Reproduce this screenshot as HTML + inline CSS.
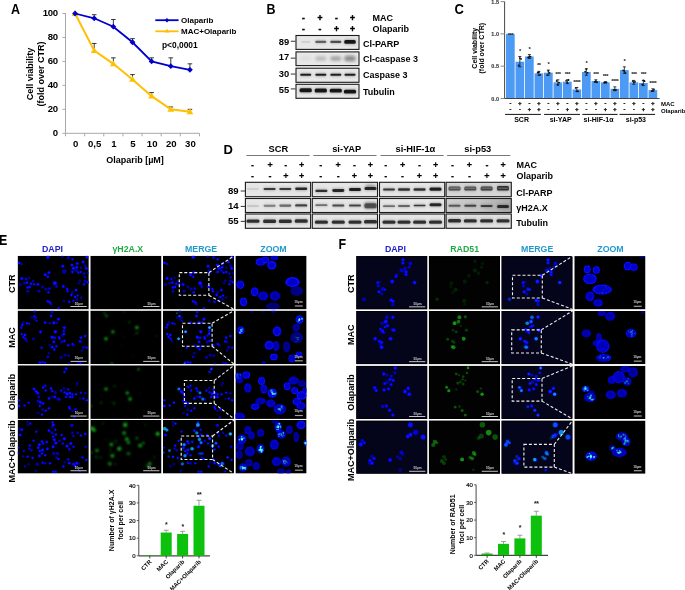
<!DOCTYPE html>
<html><head><meta charset="utf-8"><style>
html,body{margin:0;padding:0;background:#fff;width:685px;height:590px;overflow:hidden}
svg text{font-family:"Liberation Sans",sans-serif}
</style></head><body>
<svg width="685" height="590" viewBox="0 0 685 590" style="display:block">
<defs>
<radialGradient id="zg" cx="0.5" cy="0.5" r="0.5"><stop offset="0" stop-color="#0404b4"/><stop offset="0.65" stop-color="#0606e0"/><stop offset="1" stop-color="#0808f4"/></radialGradient>
<linearGradient id="p53g" x1="0" y1="0" x2="1" y2="0"><stop offset="0" stop-color="#cfcfcf"/><stop offset="0.5" stop-color="#c4c4c4"/><stop offset="1" stop-color="#a8a8a8"/></linearGradient>
<filter id="b8" x="-50%" y="-50%" width="200%" height="200%"><feGaussianBlur stdDeviation="0.8"/></filter>
<filter id="b15" x="-50%" y="-50%" width="200%" height="200%"><feGaussianBlur stdDeviation="1.5"/></filter>
<filter id="b6" x="-50%" y="-50%" width="200%" height="200%"><feGaussianBlur stdDeviation="0.6"/></filter>
<filter id="b3" x="-50%" y="-50%" width="200%" height="200%"><feGaussianBlur stdDeviation="0.3"/></filter>
<filter id="c" x="-50%" y="-50%" width="200%" height="200%"><feGaussianBlur stdDeviation="0.45"/></filter>
<filter id="z" x="-50%" y="-50%" width="200%" height="200%"><feGaussianBlur stdDeviation="0.7"/></filter>
<filter id="g2" x="-50%" y="-50%" width="200%" height="200%"><feGaussianBlur stdDeviation="1.0"/></filter>
<filter id="g" x="-50%" y="-50%" width="200%" height="200%"><feGaussianBlur stdDeviation="0.7"/></filter>
</defs>
<text x="11.00" y="14.10" font-size="12.5" font-weight="bold" fill="#000" text-anchor="start" transform="translate(0 14.10) scale(1 1.1) translate(0 -14.10)">A</text>
<line x1="65.50" y1="13.00" x2="65.50" y2="133.30" stroke="#a8a8a8" stroke-width="1"/>
<line x1="62.50" y1="133.30" x2="65.50" y2="133.30" stroke="#a8a8a8" stroke-width="1"/>
<text x="57.60" y="136.10" font-size="9.6" font-weight="bold" fill="#000" text-anchor="end" letter-spacing="-0.4">0</text>
<line x1="62.50" y1="109.34" x2="65.50" y2="109.34" stroke="#a8a8a8" stroke-width="1"/>
<text x="57.60" y="112.14" font-size="9.6" font-weight="bold" fill="#000" text-anchor="end" letter-spacing="-0.4">20</text>
<line x1="62.50" y1="85.38" x2="65.50" y2="85.38" stroke="#a8a8a8" stroke-width="1"/>
<text x="57.60" y="88.18" font-size="9.6" font-weight="bold" fill="#000" text-anchor="end" letter-spacing="-0.4">40</text>
<line x1="62.50" y1="61.42" x2="65.50" y2="61.42" stroke="#a8a8a8" stroke-width="1"/>
<text x="57.60" y="64.22" font-size="9.6" font-weight="bold" fill="#000" text-anchor="end" letter-spacing="-0.4">60</text>
<line x1="62.50" y1="37.46" x2="65.50" y2="37.46" stroke="#a8a8a8" stroke-width="1"/>
<text x="57.60" y="40.26" font-size="9.6" font-weight="bold" fill="#000" text-anchor="end" letter-spacing="-0.4">80</text>
<line x1="62.50" y1="13.50" x2="65.50" y2="13.50" stroke="#a8a8a8" stroke-width="1"/>
<text x="57.60" y="16.30" font-size="9.6" font-weight="bold" fill="#000" text-anchor="end" letter-spacing="-0.4">100</text>
<line x1="65.50" y1="133.30" x2="199.50" y2="133.30" stroke="#a8a8a8" stroke-width="1"/>
<line x1="65.50" y1="133.30" x2="65.50" y2="136.30" stroke="#a8a8a8" stroke-width="1"/>
<line x1="84.64" y1="133.30" x2="84.64" y2="136.30" stroke="#a8a8a8" stroke-width="1"/>
<line x1="103.79" y1="133.30" x2="103.79" y2="136.30" stroke="#a8a8a8" stroke-width="1"/>
<line x1="122.93" y1="133.30" x2="122.93" y2="136.30" stroke="#a8a8a8" stroke-width="1"/>
<line x1="142.07" y1="133.30" x2="142.07" y2="136.30" stroke="#a8a8a8" stroke-width="1"/>
<line x1="161.21" y1="133.30" x2="161.21" y2="136.30" stroke="#a8a8a8" stroke-width="1"/>
<line x1="180.36" y1="133.30" x2="180.36" y2="136.30" stroke="#a8a8a8" stroke-width="1"/>
<line x1="199.50" y1="133.30" x2="199.50" y2="136.30" stroke="#a8a8a8" stroke-width="1"/>
<text x="75.57" y="147.30" font-size="9.6" font-weight="bold" fill="#000" text-anchor="middle">0</text>
<text x="94.71" y="147.30" font-size="9.6" font-weight="bold" fill="#000" text-anchor="middle">0,5</text>
<text x="113.86" y="147.30" font-size="9.6" font-weight="bold" fill="#000" text-anchor="middle">1</text>
<text x="133.00" y="147.30" font-size="9.6" font-weight="bold" fill="#000" text-anchor="middle">5</text>
<text x="152.14" y="147.30" font-size="9.6" font-weight="bold" fill="#000" text-anchor="middle">10</text>
<text x="171.29" y="147.30" font-size="9.6" font-weight="bold" fill="#000" text-anchor="middle">20</text>
<text x="190.43" y="147.30" font-size="9.6" font-weight="bold" fill="#000" text-anchor="middle">30</text>
<text x="135.00" y="163.20" font-size="9" font-weight="bold" fill="#000" text-anchor="middle">Olaparib [µM]</text>
<text x="30.00" y="74.00" font-size="9" font-weight="bold" fill="#000" text-anchor="middle" transform="rotate(-90 30 74)" dominant-baseline="central">Cell viability</text>
<text x="40.70" y="74.00" font-size="9" font-weight="bold" fill="#000" text-anchor="middle" transform="rotate(-90 40.7 74)" dominant-baseline="central">(fold over CTR)</text>
<line x1="94.21" y1="18.29" x2="94.21" y2="14.70" stroke="#222" stroke-width="0.9"/>
<line x1="91.91" y1="14.70" x2="96.51" y2="14.70" stroke="#222" stroke-width="0.9"/>
<line x1="113.36" y1="26.68" x2="113.36" y2="19.49" stroke="#222" stroke-width="0.9"/>
<line x1="111.06" y1="19.49" x2="115.66" y2="19.49" stroke="#222" stroke-width="0.9"/>
<line x1="132.50" y1="42.25" x2="132.50" y2="38.66" stroke="#222" stroke-width="0.9"/>
<line x1="130.20" y1="38.66" x2="134.80" y2="38.66" stroke="#222" stroke-width="0.9"/>
<line x1="151.64" y1="61.42" x2="151.64" y2="57.83" stroke="#222" stroke-width="0.9"/>
<line x1="149.34" y1="57.83" x2="153.94" y2="57.83" stroke="#222" stroke-width="0.9"/>
<line x1="170.79" y1="66.21" x2="170.79" y2="57.83" stroke="#222" stroke-width="0.9"/>
<line x1="168.49" y1="57.83" x2="173.09" y2="57.83" stroke="#222" stroke-width="0.9"/>
<line x1="189.93" y1="69.81" x2="189.93" y2="63.82" stroke="#222" stroke-width="0.9"/>
<line x1="187.63" y1="63.82" x2="192.23" y2="63.82" stroke="#222" stroke-width="0.9"/>
<line x1="94.21" y1="50.64" x2="94.21" y2="43.45" stroke="#222" stroke-width="0.9"/>
<line x1="91.91" y1="43.45" x2="96.51" y2="43.45" stroke="#222" stroke-width="0.9"/>
<line x1="113.36" y1="63.82" x2="113.36" y2="57.83" stroke="#222" stroke-width="0.9"/>
<line x1="111.06" y1="57.83" x2="115.66" y2="57.83" stroke="#222" stroke-width="0.9"/>
<line x1="132.50" y1="79.39" x2="132.50" y2="74.60" stroke="#222" stroke-width="0.9"/>
<line x1="130.20" y1="74.60" x2="134.80" y2="74.60" stroke="#222" stroke-width="0.9"/>
<line x1="151.64" y1="96.16" x2="151.64" y2="92.57" stroke="#222" stroke-width="0.9"/>
<line x1="149.34" y1="92.57" x2="153.94" y2="92.57" stroke="#222" stroke-width="0.9"/>
<line x1="170.79" y1="109.34" x2="170.79" y2="106.94" stroke="#222" stroke-width="0.9"/>
<line x1="168.49" y1="106.94" x2="173.09" y2="106.94" stroke="#222" stroke-width="0.9"/>
<line x1="189.93" y1="111.74" x2="189.93" y2="109.34" stroke="#222" stroke-width="0.9"/>
<line x1="187.63" y1="109.34" x2="192.23" y2="109.34" stroke="#222" stroke-width="0.9"/>
<polyline points="75.07,13.50 94.21,50.64 113.36,63.82 132.50,79.39 151.64,96.16 170.79,109.34 189.93,111.74" fill="none" stroke="#ffc000" stroke-width="2.0"/>
<polygon points="75.07,10.10 78.47,15.90 71.67,15.90" fill="#ffc000"/>
<polygon points="94.21,47.24 97.61,53.04 90.81,53.04" fill="#ffc000"/>
<polygon points="113.36,60.42 116.76,66.22 109.96,66.22" fill="#ffc000"/>
<polygon points="132.50,75.99 135.90,81.79 129.10,81.79" fill="#ffc000"/>
<polygon points="151.64,92.76 155.04,98.56 148.24,98.56" fill="#ffc000"/>
<polygon points="170.79,105.94 174.19,111.74 167.39,111.74" fill="#ffc000"/>
<polygon points="189.93,108.34 193.33,114.14 186.53,114.14" fill="#ffc000"/>
<polyline points="75.07,13.50 94.21,18.29 113.36,26.68 132.50,42.25 151.64,61.42 170.79,66.21 189.93,69.81" fill="none" stroke="#0000cc" stroke-width="1.8"/>
<polygon points="75.07,10.60 77.97,13.50 75.07,16.40 72.17,13.50" fill="#0000cc"/>
<polygon points="94.21,15.39 97.11,18.29 94.21,21.19 91.31,18.29" fill="#0000cc"/>
<polygon points="113.36,23.78 116.26,26.68 113.36,29.58 110.46,26.68" fill="#0000cc"/>
<polygon points="132.50,39.35 135.40,42.25 132.50,45.15 129.60,42.25" fill="#0000cc"/>
<polygon points="151.64,58.52 154.54,61.42 151.64,64.32 148.74,61.42" fill="#0000cc"/>
<polygon points="170.79,63.31 173.69,66.21 170.79,69.11 167.89,66.21" fill="#0000cc"/>
<polygon points="189.93,66.91 192.83,69.81 189.93,72.71 187.03,69.81" fill="#0000cc"/>
<line x1="155.30" y1="20.20" x2="178.60" y2="20.20" stroke="#0000cc" stroke-width="1.8"/>
<polygon points="167,18 169.2,20.2 167,22.4 164.8,20.2" fill="#0000cc"/>
<text x="181.00" y="23.00" font-size="8" font-weight="bold" fill="#000" text-anchor="start">Olaparib</text>
<line x1="155.30" y1="31.30" x2="178.60" y2="31.30" stroke="#ffc000" stroke-width="1.8"/>
<polygon points="167,28.8 169.5,32.6 164.5,32.6" fill="#ffc000"/>
<text x="181.00" y="34.10" font-size="8" font-weight="bold" fill="#000" text-anchor="start">MAC+Olaparib</text>
<text x="162.00" y="48.30" font-size="8.4" font-weight="bold" fill="#000" text-anchor="start">p&lt;0,0001</text>
<text x="266.50" y="14.30" font-size="12.5" font-weight="bold" fill="#000" text-anchor="start" transform="translate(0 14.30) scale(1 1.1) translate(0 -14.30)">B</text>
<text x="303.50" y="20.50" font-size="8.5" font-weight="bold" fill="#000" text-anchor="middle" stroke="#000" stroke-width="0.45">-</text>
<text x="320.00" y="20.50" font-size="8.5" font-weight="bold" fill="#000" text-anchor="middle" stroke="#000" stroke-width="0.45">+</text>
<text x="336.50" y="20.50" font-size="8.5" font-weight="bold" fill="#000" text-anchor="middle" stroke="#000" stroke-width="0.45">-</text>
<text x="352.40" y="20.50" font-size="8.5" font-weight="bold" fill="#000" text-anchor="middle" stroke="#000" stroke-width="0.45">+</text>
<text x="303.50" y="32.00" font-size="8.5" font-weight="bold" fill="#000" text-anchor="middle" stroke="#000" stroke-width="0.45">-</text>
<text x="320.00" y="32.00" font-size="8.5" font-weight="bold" fill="#000" text-anchor="middle" stroke="#000" stroke-width="0.45">-</text>
<text x="336.50" y="32.00" font-size="8.5" font-weight="bold" fill="#000" text-anchor="middle" stroke="#000" stroke-width="0.45">+</text>
<text x="352.40" y="32.00" font-size="8.5" font-weight="bold" fill="#000" text-anchor="middle" stroke="#000" stroke-width="0.45">+</text>
<text x="372.50" y="20.60" font-size="9" font-weight="bold" fill="#000" text-anchor="start">MAC</text>
<text x="372.50" y="32.00" font-size="9" font-weight="bold" fill="#000" text-anchor="start">Olaparib</text>
<rect x="296.0" y="35.50" width="63.0" height="13.90" fill="#e8e8e8" stroke="#1a1a1a" stroke-width="1.1"/>
<text x="289.30" y="44.75" font-size="9.4" font-weight="bold" fill="#000" text-anchor="end">89</text>
<line x1="290.80" y1="41.25" x2="295.50" y2="41.25" stroke="#333" stroke-width="1"/>
<text x="363.00" y="46.75" font-size="9" font-weight="bold" fill="#000" text-anchor="start">Cl-PARP</text>
<rect x="296.0" y="51.90" width="63.0" height="13.70" fill="#e8e8e8" stroke="#1a1a1a" stroke-width="1.1"/>
<text x="289.30" y="60.35" font-size="9.4" font-weight="bold" fill="#000" text-anchor="end">17</text>
<line x1="290.80" y1="58.15" x2="295.50" y2="58.15" stroke="#333" stroke-width="1"/>
<text x="363.00" y="61.85" font-size="9" font-weight="bold" fill="#000" text-anchor="start">Cl-caspase 3</text>
<rect x="296.0" y="68.20" width="63.0" height="14.10" fill="#e8e8e8" stroke="#1a1a1a" stroke-width="1.1"/>
<text x="289.30" y="77.25" font-size="9.4" font-weight="bold" fill="#000" text-anchor="end">30</text>
<line x1="290.80" y1="74.05" x2="295.50" y2="74.05" stroke="#333" stroke-width="1"/>
<text x="363.00" y="77.55" font-size="9" font-weight="bold" fill="#000" text-anchor="start">Caspase 3</text>
<rect x="296.0" y="84.30" width="63.0" height="14.00" fill="#e8e8e8" stroke="#1a1a1a" stroke-width="1.1"/>
<text x="289.30" y="92.90" font-size="9.4" font-weight="bold" fill="#000" text-anchor="end">55</text>
<line x1="290.80" y1="88.90" x2="295.50" y2="88.90" stroke="#333" stroke-width="1"/>
<text x="363.00" y="95.00" font-size="9" font-weight="bold" fill="#000" text-anchor="start">Tubulin</text>
<rect x="300.70" y="40.00" width="10.00" height="3.80" rx="2" fill="#111" fill-opacity="0.025" filter="url(#b8)"/>
<rect x="301.20" y="41.00" width="9.00" height="1.80" rx="0.90" fill="#111" fill-opacity="0.095" filter="url(#b3)"/>
<rect x="314.80" y="39.80" width="12.00" height="4.20" rx="2" fill="#111" fill-opacity="0.150" filter="url(#b8)"/>
<rect x="315.30" y="40.80" width="11.00" height="2.20" rx="1.10" fill="#111" fill-opacity="0.570" filter="url(#b3)"/>
<rect x="329.80" y="39.80" width="12.00" height="4.20" rx="2" fill="#111" fill-opacity="0.175" filter="url(#b8)"/>
<rect x="330.30" y="40.80" width="11.00" height="2.20" rx="1.10" fill="#111" fill-opacity="0.665" filter="url(#b3)"/>
<rect x="343.75" y="39.10" width="12.50" height="5.60" rx="2" fill="#111" fill-opacity="0.250" filter="url(#b8)"/>
<rect x="344.25" y="40.10" width="11.50" height="3.60" rx="1.50" fill="#111" fill-opacity="0.950" filter="url(#b3)"/>
<rect x="300.20" y="56.60" width="11.00" height="4.00" rx="2.00" fill="#111" fill-opacity="0.050" filter="url(#b15)"/>
<rect x="315.30" y="56.35" width="11.00" height="4.50" rx="2.00" fill="#111" fill-opacity="0.200" filter="url(#b15)"/>
<rect x="330.30" y="56.35" width="11.00" height="4.50" rx="2.00" fill="#111" fill-opacity="0.300" filter="url(#b15)"/>
<rect x="344.50" y="55.85" width="11.00" height="5.50" rx="2.00" fill="#111" fill-opacity="0.450" filter="url(#b15)"/>
<rect x="299.70" y="72.75" width="12.00" height="3.90" rx="2" fill="#111" fill-opacity="0.237" filter="url(#b8)"/>
<rect x="300.20" y="73.75" width="11.00" height="1.90" rx="0.95" fill="#111" fill-opacity="0.902" filter="url(#b3)"/>
<rect x="314.80" y="72.75" width="12.00" height="3.90" rx="2" fill="#111" fill-opacity="0.237" filter="url(#b8)"/>
<rect x="315.30" y="73.75" width="11.00" height="1.90" rx="0.95" fill="#111" fill-opacity="0.902" filter="url(#b3)"/>
<rect x="329.80" y="72.75" width="12.00" height="3.90" rx="2" fill="#111" fill-opacity="0.237" filter="url(#b8)"/>
<rect x="330.30" y="73.75" width="11.00" height="1.90" rx="0.95" fill="#111" fill-opacity="0.902" filter="url(#b3)"/>
<rect x="344.00" y="72.75" width="12.00" height="3.90" rx="2" fill="#111" fill-opacity="0.237" filter="url(#b8)"/>
<rect x="344.50" y="73.75" width="11.00" height="1.90" rx="0.95" fill="#111" fill-opacity="0.902" filter="url(#b3)"/>
<rect x="299.10" y="87.35" width="13.20" height="5.90" rx="2" fill="#111" fill-opacity="0.250" filter="url(#b8)"/>
<rect x="299.60" y="88.35" width="12.20" height="3.90" rx="1.50" fill="#111" fill-opacity="0.950" filter="url(#b3)"/>
<rect x="314.20" y="87.55" width="13.20" height="5.90" rx="2" fill="#111" fill-opacity="0.250" filter="url(#b8)"/>
<rect x="314.70" y="88.55" width="12.20" height="3.90" rx="1.50" fill="#111" fill-opacity="0.950" filter="url(#b3)"/>
<rect x="329.20" y="87.65" width="13.20" height="5.90" rx="2" fill="#111" fill-opacity="0.250" filter="url(#b8)"/>
<rect x="329.70" y="88.65" width="12.20" height="3.90" rx="1.50" fill="#111" fill-opacity="0.950" filter="url(#b3)"/>
<rect x="343.40" y="88.65" width="13.20" height="5.90" rx="2" fill="#111" fill-opacity="0.250" filter="url(#b8)"/>
<rect x="343.90" y="89.65" width="12.20" height="3.90" rx="1.50" fill="#111" fill-opacity="0.950" filter="url(#b3)"/>
<text x="454.50" y="14.40" font-size="13" font-weight="bold" fill="#000" text-anchor="start" transform="translate(0 14.40) scale(1 1.07) translate(0 -14.40)">C</text>
<line x1="504.60" y1="1.50" x2="504.60" y2="98.50" stroke="#333" stroke-width="0.9"/>
<line x1="500.60" y1="1.60" x2="504.60" y2="1.60" stroke="#888" stroke-width="1.0"/>
<text x="499.00" y="3.60" font-size="5.5" font-weight="bold" fill="#444" text-anchor="end" stroke="#444" stroke-width="0.15">1.5</text>
<line x1="500.60" y1="33.90" x2="504.60" y2="33.90" stroke="#888" stroke-width="1.0"/>
<text x="499.00" y="35.90" font-size="5.5" font-weight="bold" fill="#444" text-anchor="end" stroke="#444" stroke-width="0.15">1.0</text>
<line x1="500.60" y1="66.20" x2="504.60" y2="66.20" stroke="#888" stroke-width="1.0"/>
<text x="499.00" y="68.20" font-size="5.5" font-weight="bold" fill="#444" text-anchor="end" stroke="#444" stroke-width="0.15">0.5</text>
<line x1="500.60" y1="98.50" x2="504.60" y2="98.50" stroke="#888" stroke-width="1.0"/>
<text x="499.00" y="100.50" font-size="5.5" font-weight="bold" fill="#444" text-anchor="end" stroke="#444" stroke-width="0.15">0.0</text>
<rect x="506.00" y="33.90" width="8.70" height="64.60" fill="#4d9af5"/>
<text x="510.35" y="37.10" font-size="6" font-weight="bold" fill="#222" text-anchor="middle" letter-spacing="-0.6">***</text>
<rect x="515.50" y="61.68" width="8.70" height="36.82" fill="#4d9af5"/>
<line x1="519.85" y1="66.85" x2="519.85" y2="56.51" stroke="#111" stroke-width="0.8"/>
<line x1="518.35" y1="56.51" x2="521.35" y2="56.51" stroke="#111" stroke-width="0.8"/>
<line x1="518.35" y1="66.85" x2="521.35" y2="66.85" stroke="#111" stroke-width="0.8"/>
<circle cx="518.65" cy="65.46" r="0.9" fill="#111"/>
<circle cx="519.85" cy="58.09" r="0.9" fill="#111"/>
<circle cx="521.05" cy="58.95" r="0.9" fill="#111"/>
<text x="519.85" y="52.51" font-size="6" font-weight="bold" fill="#222" text-anchor="middle" letter-spacing="-0.6">*</text>
<rect x="525.00" y="56.51" width="8.70" height="41.99" fill="#4d9af5"/>
<line x1="529.35" y1="58.45" x2="529.35" y2="54.57" stroke="#111" stroke-width="0.8"/>
<line x1="527.85" y1="54.57" x2="530.85" y2="54.57" stroke="#111" stroke-width="0.8"/>
<line x1="527.85" y1="58.45" x2="530.85" y2="58.45" stroke="#111" stroke-width="0.8"/>
<circle cx="528.15" cy="57.46" r="0.9" fill="#111"/>
<circle cx="529.35" cy="56.53" r="0.9" fill="#111"/>
<circle cx="530.55" cy="56.71" r="0.9" fill="#111"/>
<text x="529.35" y="50.57" font-size="6" font-weight="bold" fill="#222" text-anchor="middle" letter-spacing="-0.6">*</text>
<rect x="534.50" y="73.31" width="8.70" height="25.19" fill="#4d9af5"/>
<line x1="538.85" y1="75.24" x2="538.85" y2="71.37" stroke="#111" stroke-width="0.8"/>
<line x1="537.35" y1="71.37" x2="540.35" y2="71.37" stroke="#111" stroke-width="0.8"/>
<line x1="537.35" y1="75.24" x2="540.35" y2="75.24" stroke="#111" stroke-width="0.8"/>
<circle cx="537.65" cy="72.72" r="0.9" fill="#111"/>
<circle cx="538.85" cy="72.19" r="0.9" fill="#111"/>
<circle cx="540.05" cy="74.88" r="0.9" fill="#111"/>
<text x="538.85" y="67.37" font-size="6" font-weight="bold" fill="#222" text-anchor="middle" letter-spacing="-0.6">**</text>
<rect x="544.00" y="72.66" width="8.70" height="25.84" fill="#4d9af5"/>
<line x1="548.35" y1="75.24" x2="548.35" y2="70.08" stroke="#111" stroke-width="0.8"/>
<line x1="546.85" y1="70.08" x2="549.85" y2="70.08" stroke="#111" stroke-width="0.8"/>
<line x1="546.85" y1="75.24" x2="549.85" y2="75.24" stroke="#111" stroke-width="0.8"/>
<circle cx="547.15" cy="75.10" r="0.9" fill="#111"/>
<circle cx="548.35" cy="70.92" r="0.9" fill="#111"/>
<circle cx="549.55" cy="73.01" r="0.9" fill="#111"/>
<text x="548.35" y="66.08" font-size="6" font-weight="bold" fill="#222" text-anchor="middle" letter-spacing="-0.6">*</text>
<rect x="553.50" y="82.35" width="8.70" height="16.15" fill="#4d9af5"/>
<line x1="557.85" y1="84.93" x2="557.85" y2="79.77" stroke="#111" stroke-width="0.8"/>
<line x1="556.35" y1="79.77" x2="559.35" y2="79.77" stroke="#111" stroke-width="0.8"/>
<line x1="556.35" y1="84.93" x2="559.35" y2="84.93" stroke="#111" stroke-width="0.8"/>
<circle cx="556.65" cy="80.99" r="0.9" fill="#111"/>
<circle cx="557.85" cy="84.92" r="0.9" fill="#111"/>
<circle cx="559.05" cy="82.63" r="0.9" fill="#111"/>
<text x="557.85" y="75.77" font-size="6" font-weight="bold" fill="#222" text-anchor="middle" letter-spacing="-0.6">***</text>
<rect x="563.00" y="81.70" width="8.70" height="16.80" fill="#4d9af5"/>
<line x1="567.35" y1="83.64" x2="567.35" y2="79.77" stroke="#111" stroke-width="0.8"/>
<line x1="565.85" y1="79.77" x2="568.85" y2="79.77" stroke="#111" stroke-width="0.8"/>
<line x1="565.85" y1="83.64" x2="568.85" y2="83.64" stroke="#111" stroke-width="0.8"/>
<circle cx="566.15" cy="80.85" r="0.9" fill="#111"/>
<circle cx="567.35" cy="82.76" r="0.9" fill="#111"/>
<circle cx="568.55" cy="79.98" r="0.9" fill="#111"/>
<text x="567.35" y="75.77" font-size="6" font-weight="bold" fill="#222" text-anchor="middle" letter-spacing="-0.6">***</text>
<rect x="572.50" y="89.46" width="8.70" height="9.04" fill="#4d9af5"/>
<line x1="576.85" y1="91.39" x2="576.85" y2="87.52" stroke="#111" stroke-width="0.8"/>
<line x1="575.35" y1="87.52" x2="578.35" y2="87.52" stroke="#111" stroke-width="0.8"/>
<line x1="575.35" y1="91.39" x2="578.35" y2="91.39" stroke="#111" stroke-width="0.8"/>
<circle cx="575.65" cy="87.90" r="0.9" fill="#111"/>
<circle cx="576.85" cy="91.28" r="0.9" fill="#111"/>
<circle cx="578.05" cy="91.30" r="0.9" fill="#111"/>
<text x="576.85" y="83.52" font-size="6" font-weight="bold" fill="#222" text-anchor="middle" letter-spacing="-0.6">****</text>
<rect x="582.00" y="72.01" width="8.70" height="26.49" fill="#4d9af5"/>
<line x1="586.35" y1="75.24" x2="586.35" y2="68.78" stroke="#111" stroke-width="0.8"/>
<line x1="584.85" y1="68.78" x2="587.85" y2="68.78" stroke="#111" stroke-width="0.8"/>
<line x1="584.85" y1="75.24" x2="587.85" y2="75.24" stroke="#111" stroke-width="0.8"/>
<circle cx="585.15" cy="71.75" r="0.9" fill="#111"/>
<circle cx="586.35" cy="69.18" r="0.9" fill="#111"/>
<circle cx="587.55" cy="72.78" r="0.9" fill="#111"/>
<text x="586.35" y="64.78" font-size="6" font-weight="bold" fill="#222" text-anchor="middle" letter-spacing="-0.6">*</text>
<rect x="591.50" y="81.06" width="8.70" height="17.44" fill="#4d9af5"/>
<line x1="595.85" y1="82.35" x2="595.85" y2="79.77" stroke="#111" stroke-width="0.8"/>
<line x1="594.35" y1="79.77" x2="597.35" y2="79.77" stroke="#111" stroke-width="0.8"/>
<line x1="594.35" y1="82.35" x2="597.35" y2="82.35" stroke="#111" stroke-width="0.8"/>
<circle cx="594.65" cy="81.79" r="0.9" fill="#111"/>
<circle cx="595.85" cy="81.26" r="0.9" fill="#111"/>
<circle cx="597.05" cy="82.27" r="0.9" fill="#111"/>
<text x="595.85" y="75.77" font-size="6" font-weight="bold" fill="#222" text-anchor="middle" letter-spacing="-0.6">***</text>
<rect x="601.00" y="82.35" width="8.70" height="16.15" fill="#4d9af5"/>
<line x1="605.35" y1="83.00" x2="605.35" y2="81.70" stroke="#111" stroke-width="0.8"/>
<line x1="603.85" y1="81.70" x2="606.85" y2="81.70" stroke="#111" stroke-width="0.8"/>
<line x1="603.85" y1="83.00" x2="606.85" y2="83.00" stroke="#111" stroke-width="0.8"/>
<circle cx="604.15" cy="82.71" r="0.9" fill="#111"/>
<circle cx="605.35" cy="82.43" r="0.9" fill="#111"/>
<circle cx="606.55" cy="82.36" r="0.9" fill="#111"/>
<text x="605.35" y="77.70" font-size="6" font-weight="bold" fill="#222" text-anchor="middle" letter-spacing="-0.6">***</text>
<rect x="610.50" y="88.81" width="8.70" height="9.69" fill="#4d9af5"/>
<line x1="614.85" y1="90.75" x2="614.85" y2="86.87" stroke="#111" stroke-width="0.8"/>
<line x1="613.35" y1="86.87" x2="616.35" y2="86.87" stroke="#111" stroke-width="0.8"/>
<line x1="613.35" y1="90.75" x2="616.35" y2="90.75" stroke="#111" stroke-width="0.8"/>
<circle cx="613.65" cy="89.84" r="0.9" fill="#111"/>
<circle cx="614.85" cy="89.85" r="0.9" fill="#111"/>
<circle cx="616.05" cy="89.90" r="0.9" fill="#111"/>
<text x="614.85" y="82.87" font-size="6" font-weight="bold" fill="#222" text-anchor="middle" letter-spacing="-0.6">****</text>
<rect x="620.00" y="70.08" width="8.70" height="28.42" fill="#4d9af5"/>
<line x1="624.35" y1="73.31" x2="624.35" y2="66.85" stroke="#111" stroke-width="0.8"/>
<line x1="622.85" y1="66.85" x2="625.85" y2="66.85" stroke="#111" stroke-width="0.8"/>
<line x1="622.85" y1="73.31" x2="625.85" y2="73.31" stroke="#111" stroke-width="0.8"/>
<circle cx="623.15" cy="70.34" r="0.9" fill="#111"/>
<circle cx="624.35" cy="71.43" r="0.9" fill="#111"/>
<circle cx="625.55" cy="73.17" r="0.9" fill="#111"/>
<text x="624.35" y="62.85" font-size="6" font-weight="bold" fill="#222" text-anchor="middle" letter-spacing="-0.6">*</text>
<rect x="629.50" y="82.35" width="8.70" height="16.15" fill="#4d9af5"/>
<line x1="633.85" y1="84.29" x2="633.85" y2="80.41" stroke="#111" stroke-width="0.8"/>
<line x1="632.35" y1="80.41" x2="635.35" y2="80.41" stroke="#111" stroke-width="0.8"/>
<line x1="632.35" y1="84.29" x2="635.35" y2="84.29" stroke="#111" stroke-width="0.8"/>
<circle cx="632.65" cy="81.04" r="0.9" fill="#111"/>
<circle cx="633.85" cy="82.13" r="0.9" fill="#111"/>
<circle cx="635.05" cy="81.80" r="0.9" fill="#111"/>
<text x="633.85" y="76.41" font-size="6" font-weight="bold" fill="#222" text-anchor="middle" letter-spacing="-0.6">***</text>
<rect x="639.00" y="83.00" width="8.70" height="15.50" fill="#4d9af5"/>
<line x1="643.35" y1="85.58" x2="643.35" y2="80.41" stroke="#111" stroke-width="0.8"/>
<line x1="641.85" y1="80.41" x2="644.85" y2="80.41" stroke="#111" stroke-width="0.8"/>
<line x1="641.85" y1="85.58" x2="644.85" y2="85.58" stroke="#111" stroke-width="0.8"/>
<circle cx="642.15" cy="84.62" r="0.9" fill="#111"/>
<circle cx="643.35" cy="80.45" r="0.9" fill="#111"/>
<circle cx="644.55" cy="81.14" r="0.9" fill="#111"/>
<text x="643.35" y="76.41" font-size="6" font-weight="bold" fill="#222" text-anchor="middle" letter-spacing="-0.6">***</text>
<rect x="648.50" y="90.10" width="8.70" height="8.40" fill="#4d9af5"/>
<line x1="652.85" y1="91.39" x2="652.85" y2="88.81" stroke="#111" stroke-width="0.8"/>
<line x1="651.35" y1="88.81" x2="654.35" y2="88.81" stroke="#111" stroke-width="0.8"/>
<line x1="651.35" y1="91.39" x2="654.35" y2="91.39" stroke="#111" stroke-width="0.8"/>
<circle cx="651.65" cy="91.08" r="0.9" fill="#111"/>
<circle cx="652.85" cy="90.53" r="0.9" fill="#111"/>
<circle cx="654.05" cy="89.53" r="0.9" fill="#111"/>
<text x="652.85" y="84.81" font-size="6" font-weight="bold" fill="#222" text-anchor="middle" letter-spacing="-0.6">****</text>
<line x1="504.60" y1="98.50" x2="659.70" y2="98.50" stroke="#333" stroke-width="0.9"/>
<text x="510.35" y="104.50" font-size="5.5" font-weight="bold" fill="#000" text-anchor="middle" stroke="#000" stroke-width="0.3">-</text>
<text x="510.35" y="111.30" font-size="5.5" font-weight="bold" fill="#000" text-anchor="middle" stroke="#000" stroke-width="0.3">-</text>
<text x="519.85" y="104.50" font-size="5.5" font-weight="bold" fill="#000" text-anchor="middle" stroke="#000" stroke-width="0.3">+</text>
<text x="519.85" y="111.30" font-size="5.5" font-weight="bold" fill="#000" text-anchor="middle" stroke="#000" stroke-width="0.3">-</text>
<text x="529.35" y="104.50" font-size="5.5" font-weight="bold" fill="#000" text-anchor="middle" stroke="#000" stroke-width="0.3">-</text>
<text x="529.35" y="111.30" font-size="5.5" font-weight="bold" fill="#000" text-anchor="middle" stroke="#000" stroke-width="0.3">+</text>
<text x="538.85" y="104.50" font-size="5.5" font-weight="bold" fill="#000" text-anchor="middle" stroke="#000" stroke-width="0.3">+</text>
<text x="538.85" y="111.30" font-size="5.5" font-weight="bold" fill="#000" text-anchor="middle" stroke="#000" stroke-width="0.3">+</text>
<text x="548.35" y="104.50" font-size="5.5" font-weight="bold" fill="#000" text-anchor="middle" stroke="#000" stroke-width="0.3">-</text>
<text x="548.35" y="111.30" font-size="5.5" font-weight="bold" fill="#000" text-anchor="middle" stroke="#000" stroke-width="0.3">-</text>
<text x="557.85" y="104.50" font-size="5.5" font-weight="bold" fill="#000" text-anchor="middle" stroke="#000" stroke-width="0.3">+</text>
<text x="557.85" y="111.30" font-size="5.5" font-weight="bold" fill="#000" text-anchor="middle" stroke="#000" stroke-width="0.3">-</text>
<text x="567.35" y="104.50" font-size="5.5" font-weight="bold" fill="#000" text-anchor="middle" stroke="#000" stroke-width="0.3">-</text>
<text x="567.35" y="111.30" font-size="5.5" font-weight="bold" fill="#000" text-anchor="middle" stroke="#000" stroke-width="0.3">+</text>
<text x="576.85" y="104.50" font-size="5.5" font-weight="bold" fill="#000" text-anchor="middle" stroke="#000" stroke-width="0.3">+</text>
<text x="576.85" y="111.30" font-size="5.5" font-weight="bold" fill="#000" text-anchor="middle" stroke="#000" stroke-width="0.3">+</text>
<text x="586.35" y="104.50" font-size="5.5" font-weight="bold" fill="#000" text-anchor="middle" stroke="#000" stroke-width="0.3">-</text>
<text x="586.35" y="111.30" font-size="5.5" font-weight="bold" fill="#000" text-anchor="middle" stroke="#000" stroke-width="0.3">-</text>
<text x="595.85" y="104.50" font-size="5.5" font-weight="bold" fill="#000" text-anchor="middle" stroke="#000" stroke-width="0.3">+</text>
<text x="595.85" y="111.30" font-size="5.5" font-weight="bold" fill="#000" text-anchor="middle" stroke="#000" stroke-width="0.3">-</text>
<text x="605.35" y="104.50" font-size="5.5" font-weight="bold" fill="#000" text-anchor="middle" stroke="#000" stroke-width="0.3">-</text>
<text x="605.35" y="111.30" font-size="5.5" font-weight="bold" fill="#000" text-anchor="middle" stroke="#000" stroke-width="0.3">+</text>
<text x="614.85" y="104.50" font-size="5.5" font-weight="bold" fill="#000" text-anchor="middle" stroke="#000" stroke-width="0.3">+</text>
<text x="614.85" y="111.30" font-size="5.5" font-weight="bold" fill="#000" text-anchor="middle" stroke="#000" stroke-width="0.3">+</text>
<text x="624.35" y="104.50" font-size="5.5" font-weight="bold" fill="#000" text-anchor="middle" stroke="#000" stroke-width="0.3">-</text>
<text x="624.35" y="111.30" font-size="5.5" font-weight="bold" fill="#000" text-anchor="middle" stroke="#000" stroke-width="0.3">-</text>
<text x="633.85" y="104.50" font-size="5.5" font-weight="bold" fill="#000" text-anchor="middle" stroke="#000" stroke-width="0.3">+</text>
<text x="633.85" y="111.30" font-size="5.5" font-weight="bold" fill="#000" text-anchor="middle" stroke="#000" stroke-width="0.3">-</text>
<text x="643.35" y="104.50" font-size="5.5" font-weight="bold" fill="#000" text-anchor="middle" stroke="#000" stroke-width="0.3">-</text>
<text x="643.35" y="111.30" font-size="5.5" font-weight="bold" fill="#000" text-anchor="middle" stroke="#000" stroke-width="0.3">+</text>
<text x="652.85" y="104.50" font-size="5.5" font-weight="bold" fill="#000" text-anchor="middle" stroke="#000" stroke-width="0.3">+</text>
<text x="652.85" y="111.30" font-size="5.5" font-weight="bold" fill="#000" text-anchor="middle" stroke="#000" stroke-width="0.3">+</text>
<text x="661.00" y="105.70" font-size="6" font-weight="bold" fill="#000" text-anchor="start">MAC</text>
<text x="661.00" y="113.20" font-size="6" font-weight="bold" fill="#000" text-anchor="start">Olaparib</text>
<line x1="505.10" y1="114.40" x2="540.90" y2="114.40" stroke="#111" stroke-width="1"/>
<text x="521.60" y="122.20" font-size="7" font-weight="bold" fill="#000" text-anchor="middle">SCR</text>
<line x1="544.10" y1="114.40" x2="580.00" y2="114.40" stroke="#111" stroke-width="1"/>
<text x="560.65" y="122.20" font-size="7" font-weight="bold" fill="#000" text-anchor="middle">si-YAP</text>
<line x1="582.30" y1="114.40" x2="617.60" y2="114.40" stroke="#111" stroke-width="1"/>
<text x="598.55" y="122.20" font-size="7" font-weight="bold" fill="#000" text-anchor="middle">si-HIF-1α</text>
<line x1="619.50" y1="114.40" x2="655.10" y2="114.40" stroke="#111" stroke-width="1"/>
<text x="635.90" y="122.20" font-size="7" font-weight="bold" fill="#000" text-anchor="middle">si-p53</text>
<text x="474.10" y="48.20" font-size="7" font-weight="bold" fill="#000" text-anchor="middle" transform="rotate(-90 474.1 48.2)" dominant-baseline="central">Cell viability</text>
<text x="481.80" y="48.20" font-size="7" font-weight="bold" fill="#000" text-anchor="middle" transform="rotate(-90 481.8 48.2)" dominant-baseline="central">(fold over CTR)</text>
<text x="223.40" y="154.10" font-size="13" font-weight="bold" fill="#000" text-anchor="start" transform="translate(0 154.10) scale(1 1.05) translate(0 -154.10)">D</text>
<text x="278.40" y="152.40" font-size="9.3" font-weight="bold" fill="#000" text-anchor="middle">SCR</text>
<line x1="246.40" y1="155.50" x2="309.60" y2="155.50" stroke="#777" stroke-width="1"/>
<text x="252.40" y="168.30" font-size="9" font-weight="bold" fill="#000" text-anchor="middle" stroke="#000" stroke-width="0.15">-</text>
<text x="252.40" y="179.10" font-size="9" font-weight="bold" fill="#000" text-anchor="middle" stroke="#000" stroke-width="0.15">-</text>
<text x="270.10" y="168.30" font-size="9" font-weight="bold" fill="#000" text-anchor="middle" stroke="#000" stroke-width="0.15">+</text>
<text x="270.10" y="179.10" font-size="9" font-weight="bold" fill="#000" text-anchor="middle" stroke="#000" stroke-width="0.15">-</text>
<text x="285.80" y="168.30" font-size="9" font-weight="bold" fill="#000" text-anchor="middle" stroke="#000" stroke-width="0.15">-</text>
<text x="285.80" y="179.10" font-size="9" font-weight="bold" fill="#000" text-anchor="middle" stroke="#000" stroke-width="0.15">+</text>
<text x="301.60" y="168.30" font-size="9" font-weight="bold" fill="#000" text-anchor="middle" stroke="#000" stroke-width="0.15">+</text>
<text x="301.60" y="179.10" font-size="9" font-weight="bold" fill="#000" text-anchor="middle" stroke="#000" stroke-width="0.15">+</text>
<rect x="245.40" y="182.30" width="65.20" height="14.40" fill="#e6e6e6" stroke="#1a1a1a" stroke-width="1.1"/>
<rect x="245.40" y="198.50" width="65.20" height="14.00" fill="#e6e6e6" stroke="#1a1a1a" stroke-width="1.1"/>
<rect x="245.40" y="214.00" width="65.20" height="14.30" fill="#e6e6e6" stroke="#1a1a1a" stroke-width="1.1"/>
<text x="346.70" y="152.40" font-size="9.3" font-weight="bold" fill="#000" text-anchor="middle">si-YAP</text>
<line x1="313.30" y1="155.50" x2="376.50" y2="155.50" stroke="#777" stroke-width="1"/>
<text x="320.70" y="168.30" font-size="9" font-weight="bold" fill="#000" text-anchor="middle" stroke="#000" stroke-width="0.15">-</text>
<text x="320.70" y="179.10" font-size="9" font-weight="bold" fill="#000" text-anchor="middle" stroke="#000" stroke-width="0.15">-</text>
<text x="338.20" y="168.30" font-size="9" font-weight="bold" fill="#000" text-anchor="middle" stroke="#000" stroke-width="0.15">+</text>
<text x="338.20" y="179.10" font-size="9" font-weight="bold" fill="#000" text-anchor="middle" stroke="#000" stroke-width="0.15">-</text>
<text x="354.50" y="168.30" font-size="9" font-weight="bold" fill="#000" text-anchor="middle" stroke="#000" stroke-width="0.15">-</text>
<text x="354.50" y="179.10" font-size="9" font-weight="bold" fill="#000" text-anchor="middle" stroke="#000" stroke-width="0.15">+</text>
<text x="370.40" y="168.30" font-size="9" font-weight="bold" fill="#000" text-anchor="middle" stroke="#000" stroke-width="0.15">+</text>
<text x="370.40" y="179.10" font-size="9" font-weight="bold" fill="#000" text-anchor="middle" stroke="#000" stroke-width="0.15">+</text>
<rect x="312.30" y="182.30" width="65.20" height="14.40" fill="#e6e6e6" stroke="#1a1a1a" stroke-width="1.1"/>
<rect x="312.30" y="198.50" width="65.20" height="14.00" fill="#e6e6e6" stroke="#1a1a1a" stroke-width="1.1"/>
<rect x="312.30" y="214.00" width="65.20" height="14.30" fill="#e6e6e6" stroke="#1a1a1a" stroke-width="1.1"/>
<text x="415.40" y="152.40" font-size="9.3" font-weight="bold" fill="#000" text-anchor="middle">si-HIF-1α</text>
<line x1="380.50" y1="155.50" x2="443.70" y2="155.50" stroke="#777" stroke-width="1"/>
<text x="385.70" y="168.30" font-size="9" font-weight="bold" fill="#000" text-anchor="middle" stroke="#000" stroke-width="0.15">-</text>
<text x="385.70" y="179.10" font-size="9" font-weight="bold" fill="#000" text-anchor="middle" stroke="#000" stroke-width="0.15">-</text>
<text x="402.60" y="168.30" font-size="9" font-weight="bold" fill="#000" text-anchor="middle" stroke="#000" stroke-width="0.15">+</text>
<text x="402.60" y="179.10" font-size="9" font-weight="bold" fill="#000" text-anchor="middle" stroke="#000" stroke-width="0.15">-</text>
<text x="419.40" y="168.30" font-size="9" font-weight="bold" fill="#000" text-anchor="middle" stroke="#000" stroke-width="0.15">-</text>
<text x="419.40" y="179.10" font-size="9" font-weight="bold" fill="#000" text-anchor="middle" stroke="#000" stroke-width="0.15">+</text>
<text x="435.70" y="168.30" font-size="9" font-weight="bold" fill="#000" text-anchor="middle" stroke="#000" stroke-width="0.15">+</text>
<text x="435.70" y="179.10" font-size="9" font-weight="bold" fill="#000" text-anchor="middle" stroke="#000" stroke-width="0.15">+</text>
<rect x="379.50" y="182.30" width="65.20" height="14.40" fill="#e6e6e6" stroke="#1a1a1a" stroke-width="1.1"/>
<rect x="379.50" y="198.50" width="65.20" height="14.00" fill="#e6e6e6" stroke="#1a1a1a" stroke-width="1.1"/>
<rect x="379.50" y="214.00" width="65.20" height="14.30" fill="#e6e6e6" stroke="#1a1a1a" stroke-width="1.1"/>
<text x="477.80" y="152.40" font-size="9.3" font-weight="bold" fill="#000" text-anchor="middle">si-p53</text>
<line x1="447.10" y1="155.50" x2="510.30" y2="155.50" stroke="#777" stroke-width="1"/>
<text x="452.60" y="168.30" font-size="9" font-weight="bold" fill="#000" text-anchor="middle" stroke="#000" stroke-width="0.15">-</text>
<text x="452.60" y="179.10" font-size="9" font-weight="bold" fill="#000" text-anchor="middle" stroke="#000" stroke-width="0.15">-</text>
<text x="469.40" y="168.30" font-size="9" font-weight="bold" fill="#000" text-anchor="middle" stroke="#000" stroke-width="0.15">+</text>
<text x="469.40" y="179.10" font-size="9" font-weight="bold" fill="#000" text-anchor="middle" stroke="#000" stroke-width="0.15">-</text>
<text x="486.90" y="168.30" font-size="9" font-weight="bold" fill="#000" text-anchor="middle" stroke="#000" stroke-width="0.15">-</text>
<text x="486.90" y="179.10" font-size="9" font-weight="bold" fill="#000" text-anchor="middle" stroke="#000" stroke-width="0.15">+</text>
<text x="503.10" y="168.30" font-size="9" font-weight="bold" fill="#000" text-anchor="middle" stroke="#000" stroke-width="0.15">+</text>
<text x="503.10" y="179.10" font-size="9" font-weight="bold" fill="#000" text-anchor="middle" stroke="#000" stroke-width="0.15">+</text>
<rect x="446.10" y="182.30" width="65.20" height="14.40" fill="#d6d6d6" stroke="#1a1a1a" stroke-width="1.1"/>
<rect x="446.10" y="198.50" width="65.20" height="14.00" fill="url(#p53g)" stroke="#1a1a1a" stroke-width="1.1"/>
<rect x="446.10" y="214.00" width="65.20" height="14.30" fill="#e2e2e2" stroke="#1a1a1a" stroke-width="1.1"/>
<text x="238.60" y="194.40" font-size="9.6" font-weight="bold" fill="#000" text-anchor="end">89</text>
<line x1="240.70" y1="191.00" x2="245.00" y2="191.00" stroke="#333" stroke-width="1"/>
<text x="516.20" y="195.60" font-size="9" font-weight="bold" fill="#000" text-anchor="start" transform="translate(0 195.6) scale(1 1.1) translate(0 -195.6)">Cl-PARP</text>
<text x="238.60" y="209.00" font-size="9.6" font-weight="bold" fill="#000" text-anchor="end">14</text>
<line x1="240.70" y1="206.40" x2="245.00" y2="206.40" stroke="#333" stroke-width="1"/>
<text x="516.20" y="210.80" font-size="9" font-weight="bold" fill="#000" text-anchor="start" transform="translate(0 210.8) scale(1 1.1) translate(0 -210.8)">γH2A.X</text>
<text x="238.60" y="224.40" font-size="9.6" font-weight="bold" fill="#000" text-anchor="end">55</text>
<line x1="240.70" y1="221.35" x2="245.00" y2="221.35" stroke="#333" stroke-width="1"/>
<text x="516.20" y="226.00" font-size="9" font-weight="bold" fill="#000" text-anchor="start" transform="translate(0 226.0) scale(1 1.1) translate(0 -226.0)">Tubulin</text>
<text x="516.50" y="168.30" font-size="9" font-weight="bold" fill="#000" text-anchor="start">MAC</text>
<text x="516.50" y="179.00" font-size="9" font-weight="bold" fill="#000" text-anchor="start">Olaparib</text>
<rect x="246.50" y="187.00" width="13.00" height="4.00" rx="2" fill="#111" fill-opacity="0.020" filter="url(#b8)"/>
<rect x="247.00" y="188.00" width="12.00" height="2.00" rx="1.00" fill="#111" fill-opacity="0.076" filter="url(#b3)"/>
<rect x="246.50" y="204.10" width="13.00" height="3.80" rx="2" fill="#111" fill-opacity="0.030" filter="url(#b8)"/>
<rect x="247.00" y="205.10" width="12.00" height="1.80" rx="0.90" fill="#111" fill-opacity="0.114" filter="url(#b3)"/>
<rect x="246.00" y="218.40" width="14.00" height="5.40" rx="2" fill="#111" fill-opacity="0.212" filter="url(#b8)"/>
<rect x="246.50" y="219.40" width="13.00" height="3.40" rx="1.50" fill="#111" fill-opacity="0.807" filter="url(#b3)"/>
<rect x="263.10" y="187.00" width="13.00" height="4.00" rx="2" fill="#111" fill-opacity="0.200" filter="url(#b8)"/>
<rect x="263.60" y="188.00" width="12.00" height="2.00" rx="1.00" fill="#111" fill-opacity="0.760" filter="url(#b3)"/>
<rect x="263.10" y="203.80" width="13.00" height="4.00" rx="2" fill="#111" fill-opacity="0.113" filter="url(#b8)"/>
<rect x="263.60" y="204.80" width="12.00" height="2.00" rx="1.00" fill="#111" fill-opacity="0.427" filter="url(#b3)"/>
<rect x="262.60" y="218.60" width="14.00" height="5.40" rx="2" fill="#111" fill-opacity="0.212" filter="url(#b8)"/>
<rect x="263.10" y="219.60" width="13.00" height="3.40" rx="1.50" fill="#111" fill-opacity="0.807" filter="url(#b3)"/>
<rect x="278.80" y="187.00" width="13.00" height="4.00" rx="2" fill="#111" fill-opacity="0.200" filter="url(#b8)"/>
<rect x="279.30" y="188.00" width="12.00" height="2.00" rx="1.00" fill="#111" fill-opacity="0.760" filter="url(#b3)"/>
<rect x="278.80" y="203.50" width="13.00" height="4.20" rx="2" fill="#111" fill-opacity="0.138" filter="url(#b8)"/>
<rect x="279.30" y="204.50" width="12.00" height="2.20" rx="1.10" fill="#111" fill-opacity="0.522" filter="url(#b3)"/>
<rect x="278.30" y="218.60" width="14.00" height="5.40" rx="2" fill="#111" fill-opacity="0.212" filter="url(#b8)"/>
<rect x="278.80" y="219.60" width="13.00" height="3.40" rx="1.50" fill="#111" fill-opacity="0.807" filter="url(#b3)"/>
<rect x="294.70" y="186.55" width="13.00" height="4.50" rx="2" fill="#111" fill-opacity="0.225" filter="url(#b8)"/>
<rect x="295.20" y="187.55" width="12.00" height="2.50" rx="1.25" fill="#111" fill-opacity="0.855" filter="url(#b3)"/>
<rect x="294.70" y="203.20" width="13.00" height="4.40" rx="2" fill="#111" fill-opacity="0.188" filter="url(#b8)"/>
<rect x="295.20" y="204.20" width="12.00" height="2.40" rx="1.20" fill="#111" fill-opacity="0.712" filter="url(#b3)"/>
<rect x="294.20" y="218.30" width="14.00" height="5.40" rx="2" fill="#111" fill-opacity="0.212" filter="url(#b8)"/>
<rect x="294.70" y="219.30" width="13.00" height="3.40" rx="1.50" fill="#111" fill-opacity="0.807" filter="url(#b3)"/>
<rect x="314.90" y="188.80" width="13.00" height="4.20" rx="2" fill="#111" fill-opacity="0.212" filter="url(#b8)"/>
<rect x="315.40" y="189.80" width="12.00" height="2.20" rx="1.10" fill="#111" fill-opacity="0.807" filter="url(#b3)"/>
<rect x="314.90" y="203.60" width="13.00" height="3.20" rx="2" fill="#111" fill-opacity="0.175" filter="url(#b8)"/>
<rect x="315.40" y="204.60" width="12.00" height="1.20" rx="0.60" fill="#111" fill-opacity="0.665" filter="url(#b3)"/>
<rect x="314.40" y="219.40" width="14.00" height="5.40" rx="2" fill="#111" fill-opacity="0.212" filter="url(#b8)"/>
<rect x="314.90" y="220.40" width="13.00" height="3.40" rx="1.50" fill="#111" fill-opacity="0.807" filter="url(#b3)"/>
<rect x="331.80" y="188.10" width="13.00" height="4.80" rx="2" fill="#111" fill-opacity="0.225" filter="url(#b8)"/>
<rect x="332.30" y="189.10" width="12.00" height="2.80" rx="1.40" fill="#111" fill-opacity="0.855" filter="url(#b3)"/>
<rect x="331.80" y="203.60" width="13.00" height="4.00" rx="2" fill="#111" fill-opacity="0.175" filter="url(#b8)"/>
<rect x="332.30" y="204.60" width="12.00" height="2.00" rx="1.00" fill="#111" fill-opacity="0.665" filter="url(#b3)"/>
<rect x="331.30" y="219.40" width="14.00" height="5.40" rx="2" fill="#111" fill-opacity="0.212" filter="url(#b8)"/>
<rect x="331.80" y="220.40" width="13.00" height="3.40" rx="1.50" fill="#111" fill-opacity="0.807" filter="url(#b3)"/>
<rect x="348.50" y="187.10" width="13.00" height="5.00" rx="2" fill="#111" fill-opacity="0.237" filter="url(#b8)"/>
<rect x="349.00" y="188.10" width="12.00" height="3.00" rx="1.50" fill="#111" fill-opacity="0.902" filter="url(#b3)"/>
<rect x="348.50" y="203.60" width="13.00" height="4.00" rx="2" fill="#111" fill-opacity="0.188" filter="url(#b8)"/>
<rect x="349.00" y="204.60" width="12.00" height="2.00" rx="1.00" fill="#111" fill-opacity="0.712" filter="url(#b3)"/>
<rect x="348.00" y="219.40" width="14.00" height="5.40" rx="2" fill="#111" fill-opacity="0.212" filter="url(#b8)"/>
<rect x="348.50" y="220.40" width="13.00" height="3.40" rx="1.50" fill="#111" fill-opacity="0.807" filter="url(#b3)"/>
<rect x="364.00" y="186.10" width="13.00" height="5.00" rx="2" fill="#111" fill-opacity="0.225" filter="url(#b8)"/>
<rect x="364.50" y="187.10" width="12.00" height="3.00" rx="1.50" fill="#111" fill-opacity="0.855" filter="url(#b3)"/>
<rect x="364.00" y="202.20" width="13.00" height="7.00" rx="2" fill="#111" fill-opacity="0.150" filter="url(#b8)"/>
<rect x="364.50" y="203.20" width="12.00" height="5.00" rx="1.50" fill="#111" fill-opacity="0.570" filter="url(#b3)"/>
<rect x="363.50" y="219.10" width="14.00" height="5.40" rx="2" fill="#111" fill-opacity="0.212" filter="url(#b8)"/>
<rect x="364.00" y="220.10" width="13.00" height="3.40" rx="1.50" fill="#111" fill-opacity="0.807" filter="url(#b3)"/>
<rect x="382.50" y="187.50" width="13.00" height="4.00" rx="2" fill="#111" fill-opacity="0.200" filter="url(#b8)"/>
<rect x="383.00" y="188.50" width="12.00" height="2.00" rx="1.00" fill="#111" fill-opacity="0.760" filter="url(#b3)"/>
<rect x="382.50" y="204.60" width="13.00" height="3.20" rx="2" fill="#111" fill-opacity="0.175" filter="url(#b8)"/>
<rect x="383.00" y="205.60" width="12.00" height="1.20" rx="0.60" fill="#111" fill-opacity="0.665" filter="url(#b3)"/>
<rect x="382.00" y="219.40" width="14.00" height="5.40" rx="2" fill="#111" fill-opacity="0.212" filter="url(#b8)"/>
<rect x="382.50" y="220.40" width="13.00" height="3.40" rx="1.50" fill="#111" fill-opacity="0.807" filter="url(#b3)"/>
<rect x="397.50" y="187.30" width="13.00" height="4.40" rx="2" fill="#111" fill-opacity="0.212" filter="url(#b8)"/>
<rect x="398.00" y="188.30" width="12.00" height="2.40" rx="1.20" fill="#111" fill-opacity="0.807" filter="url(#b3)"/>
<rect x="397.50" y="204.15" width="13.00" height="3.50" rx="2" fill="#111" fill-opacity="0.188" filter="url(#b8)"/>
<rect x="398.00" y="205.15" width="12.00" height="1.50" rx="0.75" fill="#111" fill-opacity="0.712" filter="url(#b3)"/>
<rect x="397.00" y="219.40" width="14.00" height="5.40" rx="2" fill="#111" fill-opacity="0.212" filter="url(#b8)"/>
<rect x="397.50" y="220.40" width="13.00" height="3.40" rx="1.50" fill="#111" fill-opacity="0.807" filter="url(#b3)"/>
<rect x="413.10" y="187.30" width="13.00" height="4.40" rx="2" fill="#111" fill-opacity="0.212" filter="url(#b8)"/>
<rect x="413.60" y="188.30" width="12.00" height="2.40" rx="1.20" fill="#111" fill-opacity="0.807" filter="url(#b3)"/>
<rect x="413.10" y="203.70" width="13.00" height="3.60" rx="2" fill="#111" fill-opacity="0.200" filter="url(#b8)"/>
<rect x="413.60" y="204.70" width="12.00" height="1.60" rx="0.80" fill="#111" fill-opacity="0.760" filter="url(#b3)"/>
<rect x="412.60" y="219.40" width="14.00" height="5.40" rx="2" fill="#111" fill-opacity="0.212" filter="url(#b8)"/>
<rect x="413.10" y="220.40" width="13.00" height="3.40" rx="1.50" fill="#111" fill-opacity="0.807" filter="url(#b3)"/>
<rect x="429.00" y="186.60" width="13.00" height="5.20" rx="2" fill="#111" fill-opacity="0.237" filter="url(#b8)"/>
<rect x="429.50" y="187.60" width="12.00" height="3.20" rx="1.50" fill="#111" fill-opacity="0.902" filter="url(#b3)"/>
<rect x="429.00" y="202.30" width="13.00" height="5.00" rx="2" fill="#111" fill-opacity="0.225" filter="url(#b8)"/>
<rect x="429.50" y="203.30" width="12.00" height="3.00" rx="1.50" fill="#111" fill-opacity="0.855" filter="url(#b3)"/>
<rect x="428.50" y="219.40" width="14.00" height="5.40" rx="2" fill="#111" fill-opacity="0.212" filter="url(#b8)"/>
<rect x="429.00" y="220.40" width="13.00" height="3.40" rx="1.50" fill="#111" fill-opacity="0.807" filter="url(#b3)"/>
<rect x="448.00" y="185.50" width="13.00" height="6.00" rx="2" fill="#111" fill-opacity="0.175" filter="url(#b8)"/>
<rect x="448.50" y="186.50" width="12.00" height="4.00" rx="1.50" fill="#111" fill-opacity="0.665" filter="url(#b3)"/>
<rect x="448.00" y="203.80" width="13.00" height="4.00" rx="2" fill="#111" fill-opacity="0.150" filter="url(#b8)"/>
<rect x="448.50" y="204.80" width="12.00" height="2.00" rx="1.00" fill="#111" fill-opacity="0.570" filter="url(#b3)"/>
<rect x="447.50" y="218.00" width="14.00" height="5.40" rx="2" fill="#111" fill-opacity="0.212" filter="url(#b8)"/>
<rect x="448.00" y="219.00" width="13.00" height="3.40" rx="1.50" fill="#111" fill-opacity="0.807" filter="url(#b3)"/>
<rect x="463.80" y="185.50" width="13.00" height="6.00" rx="2" fill="#111" fill-opacity="0.188" filter="url(#b8)"/>
<rect x="464.30" y="186.50" width="12.00" height="4.00" rx="1.50" fill="#111" fill-opacity="0.712" filter="url(#b3)"/>
<rect x="463.80" y="203.80" width="13.00" height="4.00" rx="2" fill="#111" fill-opacity="0.175" filter="url(#b8)"/>
<rect x="464.30" y="204.80" width="12.00" height="2.00" rx="1.00" fill="#111" fill-opacity="0.665" filter="url(#b3)"/>
<rect x="463.30" y="218.20" width="14.00" height="5.40" rx="2" fill="#111" fill-opacity="0.212" filter="url(#b8)"/>
<rect x="463.80" y="219.20" width="13.00" height="3.40" rx="1.50" fill="#111" fill-opacity="0.807" filter="url(#b3)"/>
<rect x="480.10" y="185.50" width="13.00" height="6.00" rx="2" fill="#111" fill-opacity="0.200" filter="url(#b8)"/>
<rect x="480.60" y="186.50" width="12.00" height="4.00" rx="1.50" fill="#111" fill-opacity="0.760" filter="url(#b3)"/>
<rect x="480.10" y="203.90" width="13.00" height="4.20" rx="2" fill="#111" fill-opacity="0.188" filter="url(#b8)"/>
<rect x="480.60" y="204.90" width="12.00" height="2.20" rx="1.10" fill="#111" fill-opacity="0.712" filter="url(#b3)"/>
<rect x="479.60" y="218.20" width="14.00" height="5.40" rx="2" fill="#111" fill-opacity="0.212" filter="url(#b8)"/>
<rect x="480.10" y="219.20" width="13.00" height="3.40" rx="1.50" fill="#111" fill-opacity="0.807" filter="url(#b3)"/>
<rect x="496.50" y="185.05" width="13.00" height="6.50" rx="2" fill="#111" fill-opacity="0.225" filter="url(#b8)"/>
<rect x="497.00" y="186.05" width="12.00" height="4.50" rx="1.50" fill="#111" fill-opacity="0.855" filter="url(#b3)"/>
<rect x="496.50" y="203.90" width="13.00" height="5.00" rx="2" fill="#111" fill-opacity="0.212" filter="url(#b8)"/>
<rect x="497.00" y="204.90" width="12.00" height="3.00" rx="1.50" fill="#111" fill-opacity="0.807" filter="url(#b3)"/>
<rect x="496.00" y="218.20" width="14.00" height="5.40" rx="2" fill="#111" fill-opacity="0.212" filter="url(#b8)"/>
<rect x="496.50" y="219.20" width="13.00" height="3.40" rx="1.50" fill="#111" fill-opacity="0.807" filter="url(#b3)"/>
<rect x="364.25" y="202.60" width="12.50" height="6.00" rx="2.00" fill="#111" fill-opacity="0.350" filter="url(#b15)"/>
<rect x="365.50" y="184.20" width="10.00" height="4.00" rx="2.00" fill="#111" fill-opacity="0.250" filter="url(#b15)"/>
<rect x="448.50" y="186.85" width="12.00" height="2.70" rx="2" fill="#ddd" fill-opacity="0.125" filter="url(#b8)"/>
<rect x="449.00" y="187.85" width="11.00" height="0.70" rx="0.35" fill="#ddd" fill-opacity="0.475" filter="url(#b3)"/>
<rect x="464.30" y="186.85" width="12.00" height="2.70" rx="2" fill="#ddd" fill-opacity="0.125" filter="url(#b8)"/>
<rect x="464.80" y="187.85" width="11.00" height="0.70" rx="0.35" fill="#ddd" fill-opacity="0.475" filter="url(#b3)"/>
<rect x="480.60" y="186.85" width="12.00" height="2.70" rx="2" fill="#ddd" fill-opacity="0.125" filter="url(#b8)"/>
<rect x="481.10" y="187.85" width="11.00" height="0.70" rx="0.35" fill="#ddd" fill-opacity="0.475" filter="url(#b3)"/>
<rect x="497.00" y="186.85" width="12.00" height="2.70" rx="2" fill="#ddd" fill-opacity="0.125" filter="url(#b8)"/>
<rect x="497.50" y="187.85" width="11.00" height="0.70" rx="0.35" fill="#ddd" fill-opacity="0.475" filter="url(#b3)"/>
<svg x="17.60" y="255.80" width="71.2" height="53.6" overflow="hidden">
<rect width="71.2" height="53.6" fill="#000"/>
<g>
<circle cx="30.3" cy="1.3" r="1.92" fill="#0707ff" fill-opacity="1.00" filter="url(#c)"/>
<circle cx="44.7" cy="0.8" r="1.28" fill="#0707ff" fill-opacity="0.71" filter="url(#c)"/>
<circle cx="50.6" cy="1.9" r="1.60" fill="#0707ff" fill-opacity="0.80" filter="url(#c)"/>
<circle cx="54.8" cy="3.5" r="1.28" fill="#0707ff" fill-opacity="1.00" filter="url(#c)"/>
<circle cx="69.2" cy="1.3" r="1.60" fill="#0707ff" fill-opacity="1.00" filter="url(#c)"/>
<circle cx="1.5" cy="7.2" r="1.49" fill="#0707ff" fill-opacity="1.00" filter="url(#c)"/>
<circle cx="4.2" cy="8.3" r="1.07" fill="#0707ff" fill-opacity="1.00" filter="url(#c)"/>
<circle cx="45.2" cy="10.4" r="1.60" fill="#0707ff" fill-opacity="1.00" filter="url(#c)"/>
<circle cx="54.3" cy="9.3" r="1.60" fill="#0707ff" fill-opacity="1.00" filter="url(#c)"/>
<circle cx="59.6" cy="7.7" r="1.60" fill="#0707ff" fill-opacity="1.00" filter="url(#c)"/>
<circle cx="65.5" cy="6.1" r="1.60" fill="#0707ff" fill-opacity="1.00" filter="url(#c)"/>
<circle cx="67.6" cy="9.9" r="1.28" fill="#0707ff" fill-opacity="0.73" filter="url(#c)"/>
<circle cx="55.9" cy="12.5" r="1.60" fill="#0707ff" fill-opacity="1.00" filter="url(#c)"/>
<circle cx="59.1" cy="11.5" r="1.60" fill="#0707ff" fill-opacity="1.00" filter="url(#c)"/>
<circle cx="63.3" cy="12.0" r="1.28" fill="#0707ff" fill-opacity="0.58" filter="url(#c)"/>
<circle cx="68.7" cy="12.5" r="1.60" fill="#0707ff" fill-opacity="1.00" filter="url(#c)"/>
<circle cx="46.8" cy="15.7" r="2.34" fill="#0707ff" fill-opacity="0.70" filter="url(#c)"/>
<circle cx="54.8" cy="16.3" r="1.49" fill="#0707ff" fill-opacity="1.00" filter="url(#c)"/>
<circle cx="58.5" cy="14.7" r="1.60" fill="#0707ff" fill-opacity="0.66" filter="url(#c)"/>
<circle cx="60.7" cy="16.8" r="1.28" fill="#0707ff" fill-opacity="1.00" filter="url(#c)"/>
<circle cx="63.3" cy="16.3" r="1.28" fill="#0707ff" fill-opacity="1.00" filter="url(#c)"/>
<circle cx="66.5" cy="17.8" r="1.28" fill="#0707ff" fill-opacity="0.84" filter="url(#c)"/>
<circle cx="27.6" cy="18.9" r="1.60" fill="#0707ff" fill-opacity="1.00" filter="url(#c)"/>
<circle cx="31.4" cy="16.8" r="1.60" fill="#0707ff" fill-opacity="1.00" filter="url(#c)"/>
<circle cx="30.3" cy="21.0" r="1.39" fill="#0707ff" fill-opacity="1.00" filter="url(#c)"/>
<circle cx="4.2" cy="22.6" r="1.60" fill="#0707ff" fill-opacity="1.00" filter="url(#c)"/>
<circle cx="8.5" cy="23.2" r="1.39" fill="#0707ff" fill-opacity="0.85" filter="url(#c)"/>
<circle cx="11.7" cy="22.1" r="1.39" fill="#0707ff" fill-opacity="0.52" filter="url(#c)"/>
<circle cx="15.4" cy="25.3" r="1.39" fill="#0707ff" fill-opacity="0.65" filter="url(#c)"/>
<circle cx="67.6" cy="21.6" r="1.28" fill="#0707ff" fill-opacity="0.71" filter="url(#c)"/>
<circle cx="70.3" cy="17.3" r="1.28" fill="#0707ff" fill-opacity="0.51" filter="url(#c)"/>
<circle cx="62.3" cy="24.8" r="1.28" fill="#0707ff" fill-opacity="0.55" filter="url(#c)"/>
<circle cx="67.6" cy="25.3" r="1.60" fill="#0707ff" fill-opacity="0.70" filter="url(#c)"/>
<circle cx="70.3" cy="26.4" r="1.28" fill="#0707ff" fill-opacity="1.00" filter="url(#c)"/>
<circle cx="2.6" cy="28.5" r="1.60" fill="#0707ff" fill-opacity="0.55" filter="url(#c)"/>
<circle cx="6.9" cy="27.4" r="1.49" fill="#0707ff" fill-opacity="0.62" filter="url(#c)"/>
<circle cx="9.5" cy="26.9" r="1.39" fill="#0707ff" fill-opacity="1.00" filter="url(#c)"/>
<circle cx="13.3" cy="28.0" r="1.39" fill="#0707ff" fill-opacity="1.00" filter="url(#c)"/>
<circle cx="16.5" cy="28.5" r="1.28" fill="#0707ff" fill-opacity="1.00" filter="url(#c)"/>
<circle cx="20.2" cy="28.5" r="1.60" fill="#0707ff" fill-opacity="1.00" filter="url(#c)"/>
<circle cx="37.2" cy="27.4" r="2.13" fill="#0707ff" fill-opacity="1.00" filter="url(#c)"/>
<circle cx="38.8" cy="30.6" r="1.49" fill="#0707ff" fill-opacity="0.78" filter="url(#c)"/>
<circle cx="61.2" cy="27.4" r="1.28" fill="#0707ff" fill-opacity="0.53" filter="url(#c)"/>
<circle cx="66.5" cy="28.5" r="1.28" fill="#0707ff" fill-opacity="1.00" filter="url(#c)"/>
<circle cx="10.1" cy="31.7" r="1.39" fill="#0707ff" fill-opacity="1.00" filter="url(#c)"/>
<circle cx="12.2" cy="31.2" r="1.28" fill="#0707ff" fill-opacity="1.00" filter="url(#c)"/>
<circle cx="10.1" cy="35.4" r="1.39" fill="#0707ff" fill-opacity="0.78" filter="url(#c)"/>
<circle cx="21.2" cy="35.4" r="1.49" fill="#0707ff" fill-opacity="0.71" filter="url(#c)"/>
<circle cx="25.0" cy="31.2" r="1.49" fill="#0707ff" fill-opacity="0.66" filter="url(#c)"/>
<circle cx="28.2" cy="33.3" r="1.60" fill="#0707ff" fill-opacity="0.65" filter="url(#c)"/>
<circle cx="31.9" cy="32.8" r="1.39" fill="#0707ff" fill-opacity="0.82" filter="url(#c)"/>
<circle cx="30.8" cy="36.5" r="1.39" fill="#0707ff" fill-opacity="1.00" filter="url(#c)"/>
<circle cx="45.8" cy="30.6" r="1.60" fill="#0707ff" fill-opacity="1.00" filter="url(#c)"/>
<circle cx="49.5" cy="33.3" r="1.39" fill="#0707ff" fill-opacity="1.00" filter="url(#c)"/>
<circle cx="50.0" cy="35.4" r="1.28" fill="#0707ff" fill-opacity="1.00" filter="url(#c)"/>
<circle cx="54.8" cy="36.5" r="1.60" fill="#0707ff" fill-opacity="0.50" filter="url(#c)"/>
<circle cx="58.5" cy="34.4" r="1.49" fill="#0707ff" fill-opacity="1.00" filter="url(#c)"/>
<circle cx="53.8" cy="39.2" r="1.39" fill="#0707ff" fill-opacity="1.00" filter="url(#c)"/>
<circle cx="57.5" cy="41.3" r="1.39" fill="#0707ff" fill-opacity="1.00" filter="url(#c)"/>
<circle cx="60.1" cy="39.7" r="1.28" fill="#0707ff" fill-opacity="1.00" filter="url(#c)"/>
<circle cx="63.3" cy="41.8" r="1.28" fill="#0707ff" fill-opacity="0.63" filter="url(#c)"/>
<circle cx="55.9" cy="45.0" r="1.28" fill="#0707ff" fill-opacity="1.00" filter="url(#c)"/>
<circle cx="59.6" cy="44.0" r="1.28" fill="#0707ff" fill-opacity="0.72" filter="url(#c)"/>
<circle cx="30.3" cy="45.6" r="1.39" fill="#0707ff" fill-opacity="1.00" filter="url(#c)"/>
<circle cx="33.5" cy="48.2" r="1.39" fill="#0707ff" fill-opacity="0.72" filter="url(#c)"/>
<circle cx="32.4" cy="46.6" r="1.28" fill="#0707ff" fill-opacity="1.00" filter="url(#c)"/>
<circle cx="46.3" cy="45.0" r="1.39" fill="#0707ff" fill-opacity="0.64" filter="url(#c)"/>
<circle cx="51.6" cy="46.1" r="1.28" fill="#0707ff" fill-opacity="1.00" filter="url(#c)"/>
<circle cx="41.0" cy="52.5" r="1.28" fill="#0707ff" fill-opacity="1.00" filter="url(#c)"/>
</g>
<rect x="52.9" y="50.3" width="16.2" height="0.9" fill="#d8d8d8"/>
<text x="61.3" y="48.9" font-size="3.2" fill="#c8c8c8" text-anchor="middle" font-weight="bold">50µm</text>
</svg>
<svg x="90.30" y="255.80" width="71.2" height="53.6" overflow="hidden">
<rect width="71.2" height="53.6" fill="#000"/>
<rect x="52.9" y="50.3" width="16.2" height="0.9" fill="#d8d8d8"/>
<text x="61.3" y="48.9" font-size="3.2" fill="#c8c8c8" text-anchor="middle" font-weight="bold">50µm</text>
</svg>
<svg x="162.90" y="255.80" width="71.2" height="53.6" overflow="hidden">
<rect width="71.2" height="53.6" fill="#000"/>
<g>
<circle cx="30.3" cy="1.3" r="1.92" fill="#0707ff" fill-opacity="1.00" filter="url(#c)"/>
<circle cx="44.7" cy="0.8" r="1.28" fill="#0707ff" fill-opacity="0.71" filter="url(#c)"/>
<circle cx="50.6" cy="1.9" r="1.60" fill="#0707ff" fill-opacity="0.80" filter="url(#c)"/>
<circle cx="54.8" cy="3.5" r="1.28" fill="#0707ff" fill-opacity="1.00" filter="url(#c)"/>
<circle cx="69.2" cy="1.3" r="1.60" fill="#0707ff" fill-opacity="1.00" filter="url(#c)"/>
<circle cx="1.5" cy="7.2" r="1.49" fill="#0707ff" fill-opacity="1.00" filter="url(#c)"/>
<circle cx="4.2" cy="8.3" r="1.07" fill="#0707ff" fill-opacity="1.00" filter="url(#c)"/>
<circle cx="45.2" cy="10.4" r="1.60" fill="#0707ff" fill-opacity="1.00" filter="url(#c)"/>
<circle cx="54.3" cy="9.3" r="1.60" fill="#0707ff" fill-opacity="1.00" filter="url(#c)"/>
<circle cx="59.6" cy="7.7" r="1.60" fill="#0707ff" fill-opacity="1.00" filter="url(#c)"/>
<circle cx="65.5" cy="6.1" r="1.60" fill="#0707ff" fill-opacity="1.00" filter="url(#c)"/>
<circle cx="67.6" cy="9.9" r="1.28" fill="#0707ff" fill-opacity="0.73" filter="url(#c)"/>
<circle cx="55.9" cy="12.5" r="1.60" fill="#0707ff" fill-opacity="1.00" filter="url(#c)"/>
<circle cx="59.1" cy="11.5" r="1.60" fill="#0707ff" fill-opacity="1.00" filter="url(#c)"/>
<circle cx="63.3" cy="12.0" r="1.28" fill="#0707ff" fill-opacity="0.58" filter="url(#c)"/>
<circle cx="68.7" cy="12.5" r="1.60" fill="#0707ff" fill-opacity="1.00" filter="url(#c)"/>
<circle cx="46.8" cy="15.7" r="2.34" fill="#0707ff" fill-opacity="0.70" filter="url(#c)"/>
<circle cx="54.8" cy="16.3" r="1.49" fill="#0707ff" fill-opacity="1.00" filter="url(#c)"/>
<circle cx="58.5" cy="14.7" r="1.60" fill="#0707ff" fill-opacity="0.66" filter="url(#c)"/>
<circle cx="60.7" cy="16.8" r="1.28" fill="#0707ff" fill-opacity="1.00" filter="url(#c)"/>
<circle cx="63.3" cy="16.3" r="1.28" fill="#0707ff" fill-opacity="1.00" filter="url(#c)"/>
<circle cx="66.5" cy="17.8" r="1.28" fill="#0707ff" fill-opacity="0.84" filter="url(#c)"/>
<circle cx="27.6" cy="18.9" r="1.60" fill="#0707ff" fill-opacity="1.00" filter="url(#c)"/>
<circle cx="31.4" cy="16.8" r="1.60" fill="#0707ff" fill-opacity="1.00" filter="url(#c)"/>
<circle cx="30.3" cy="21.0" r="1.39" fill="#0707ff" fill-opacity="1.00" filter="url(#c)"/>
<circle cx="4.2" cy="22.6" r="1.60" fill="#0707ff" fill-opacity="1.00" filter="url(#c)"/>
<circle cx="8.5" cy="23.2" r="1.39" fill="#0707ff" fill-opacity="0.85" filter="url(#c)"/>
<circle cx="11.7" cy="22.1" r="1.39" fill="#0707ff" fill-opacity="0.52" filter="url(#c)"/>
<circle cx="15.4" cy="25.3" r="1.39" fill="#0707ff" fill-opacity="0.65" filter="url(#c)"/>
<circle cx="67.6" cy="21.6" r="1.28" fill="#0707ff" fill-opacity="0.71" filter="url(#c)"/>
<circle cx="70.3" cy="17.3" r="1.28" fill="#0707ff" fill-opacity="0.51" filter="url(#c)"/>
<circle cx="62.3" cy="24.8" r="1.28" fill="#0707ff" fill-opacity="0.55" filter="url(#c)"/>
<circle cx="67.6" cy="25.3" r="1.60" fill="#0707ff" fill-opacity="0.70" filter="url(#c)"/>
<circle cx="70.3" cy="26.4" r="1.28" fill="#0707ff" fill-opacity="1.00" filter="url(#c)"/>
<circle cx="2.6" cy="28.5" r="1.60" fill="#0707ff" fill-opacity="0.55" filter="url(#c)"/>
<circle cx="6.9" cy="27.4" r="1.49" fill="#0707ff" fill-opacity="0.62" filter="url(#c)"/>
<circle cx="9.5" cy="26.9" r="1.39" fill="#0707ff" fill-opacity="1.00" filter="url(#c)"/>
<circle cx="13.3" cy="28.0" r="1.39" fill="#0707ff" fill-opacity="1.00" filter="url(#c)"/>
<circle cx="16.5" cy="28.5" r="1.28" fill="#0707ff" fill-opacity="1.00" filter="url(#c)"/>
<circle cx="20.2" cy="28.5" r="1.60" fill="#0707ff" fill-opacity="1.00" filter="url(#c)"/>
<circle cx="37.2" cy="27.4" r="2.13" fill="#0707ff" fill-opacity="1.00" filter="url(#c)"/>
<circle cx="38.8" cy="30.6" r="1.49" fill="#0707ff" fill-opacity="0.78" filter="url(#c)"/>
<circle cx="61.2" cy="27.4" r="1.28" fill="#0707ff" fill-opacity="0.53" filter="url(#c)"/>
<circle cx="66.5" cy="28.5" r="1.28" fill="#0707ff" fill-opacity="1.00" filter="url(#c)"/>
<circle cx="10.1" cy="31.7" r="1.39" fill="#0707ff" fill-opacity="1.00" filter="url(#c)"/>
<circle cx="12.2" cy="31.2" r="1.28" fill="#0707ff" fill-opacity="1.00" filter="url(#c)"/>
<circle cx="10.1" cy="35.4" r="1.39" fill="#0707ff" fill-opacity="0.78" filter="url(#c)"/>
<circle cx="21.2" cy="35.4" r="1.49" fill="#0707ff" fill-opacity="0.71" filter="url(#c)"/>
<circle cx="25.0" cy="31.2" r="1.49" fill="#0707ff" fill-opacity="0.66" filter="url(#c)"/>
<circle cx="28.2" cy="33.3" r="1.60" fill="#0707ff" fill-opacity="0.65" filter="url(#c)"/>
<circle cx="31.9" cy="32.8" r="1.39" fill="#0707ff" fill-opacity="0.82" filter="url(#c)"/>
<circle cx="30.8" cy="36.5" r="1.39" fill="#0707ff" fill-opacity="1.00" filter="url(#c)"/>
<circle cx="45.8" cy="30.6" r="1.60" fill="#0707ff" fill-opacity="1.00" filter="url(#c)"/>
<circle cx="49.5" cy="33.3" r="1.39" fill="#0707ff" fill-opacity="1.00" filter="url(#c)"/>
<circle cx="50.0" cy="35.4" r="1.28" fill="#0707ff" fill-opacity="1.00" filter="url(#c)"/>
<circle cx="54.8" cy="36.5" r="1.60" fill="#0707ff" fill-opacity="0.50" filter="url(#c)"/>
<circle cx="58.5" cy="34.4" r="1.49" fill="#0707ff" fill-opacity="1.00" filter="url(#c)"/>
<circle cx="53.8" cy="39.2" r="1.39" fill="#0707ff" fill-opacity="1.00" filter="url(#c)"/>
<circle cx="57.5" cy="41.3" r="1.39" fill="#0707ff" fill-opacity="1.00" filter="url(#c)"/>
<circle cx="60.1" cy="39.7" r="1.28" fill="#0707ff" fill-opacity="1.00" filter="url(#c)"/>
<circle cx="63.3" cy="41.8" r="1.28" fill="#0707ff" fill-opacity="0.63" filter="url(#c)"/>
<circle cx="55.9" cy="45.0" r="1.28" fill="#0707ff" fill-opacity="1.00" filter="url(#c)"/>
<circle cx="59.6" cy="44.0" r="1.28" fill="#0707ff" fill-opacity="0.72" filter="url(#c)"/>
<circle cx="30.3" cy="45.6" r="1.39" fill="#0707ff" fill-opacity="1.00" filter="url(#c)"/>
<circle cx="33.5" cy="48.2" r="1.39" fill="#0707ff" fill-opacity="0.72" filter="url(#c)"/>
<circle cx="32.4" cy="46.6" r="1.28" fill="#0707ff" fill-opacity="1.00" filter="url(#c)"/>
<circle cx="46.3" cy="45.0" r="1.39" fill="#0707ff" fill-opacity="0.64" filter="url(#c)"/>
<circle cx="51.6" cy="46.1" r="1.28" fill="#0707ff" fill-opacity="1.00" filter="url(#c)"/>
<circle cx="41.0" cy="52.5" r="1.28" fill="#0707ff" fill-opacity="1.00" filter="url(#c)"/>
</g>
</svg>
<svg x="235.40" y="255.80" width="71.2" height="53.6" overflow="hidden">
<rect width="71.2" height="53.6" fill="#000"/>
<ellipse cx="25.2" cy="6.1" rx="5.08" ry="3.95" fill="url(#zg)" fill-opacity="1.00" filter="url(#z)"/>
<ellipse cx="30.0" cy="4.0" rx="3.95" ry="3.39" fill="url(#zg)" fill-opacity="1.00" filter="url(#z)"/>
<ellipse cx="39.0" cy="1.9" rx="3.95" ry="2.26" fill="url(#zg)" fill-opacity="0.90" filter="url(#z)"/>
<ellipse cx="36.4" cy="9.3" rx="4.74" ry="4.29" fill="url(#zg)" fill-opacity="1.00" filter="url(#z)"/>
<ellipse cx="4.9" cy="29.0" rx="3.95" ry="4.29" fill="url(#zg)" fill-opacity="1.00" filter="url(#z)"/>
<ellipse cx="19.3" cy="36.0" rx="3.95" ry="4.52" fill="url(#zg)" fill-opacity="1.00" filter="url(#z)"/>
<ellipse cx="27.8" cy="40.2" rx="5.08" ry="4.52" fill="url(#zg)" fill-opacity="0.85" filter="url(#z)"/>
<ellipse cx="39.6" cy="40.2" rx="5.42" ry="4.74" fill="url(#zg)" fill-opacity="0.80" filter="url(#z)"/>
<ellipse cx="8.1" cy="46.1" rx="3.61" ry="4.29" fill="url(#zg)" fill-opacity="1.00" filter="url(#z)"/>
<ellipse cx="57.1" cy="26.4" rx="7.34" ry="5.08" fill="url(#zg)" fill-opacity="1.00" filter="url(#z)"/>
<ellipse cx="61.4" cy="35.4" rx="6.21" ry="4.74" fill="url(#zg)" fill-opacity="0.60" filter="url(#z)"/>
<ellipse cx="37.4" cy="50.4" rx="6.78" ry="3.39" fill="url(#zg)" fill-opacity="0.55" filter="url(#z)"/>
<rect x="59.5" y="49.6" width="7.9" height="1.2" fill="#a0a0a0"/>
<text x="63" y="47.0" font-size="3.2" fill="#d0d0d0" text-anchor="middle" font-weight="bold">10µm</text>
</svg>
<svg x="17.60" y="310.60" width="71.2" height="53.6" overflow="hidden">
<rect width="71.2" height="53.6" fill="#000"/>
<g>
<circle cx="17.0" cy="1.0" r="1.28" fill="#0707ff" fill-opacity="0.73" filter="url(#c)"/>
<circle cx="34.6" cy="1.5" r="1.49" fill="#0707ff" fill-opacity="0.79" filter="url(#c)"/>
<circle cx="33.5" cy="5.3" r="1.49" fill="#0707ff" fill-opacity="1.00" filter="url(#c)"/>
<circle cx="14.3" cy="6.9" r="1.49" fill="#0707ff" fill-opacity="0.51" filter="url(#c)"/>
<circle cx="17.0" cy="5.8" r="1.28" fill="#0707ff" fill-opacity="1.00" filter="url(#c)"/>
<circle cx="18.6" cy="7.4" r="1.28" fill="#0707ff" fill-opacity="0.63" filter="url(#c)"/>
<circle cx="17.0" cy="9.0" r="1.07" fill="#0707ff" fill-opacity="0.61" filter="url(#c)"/>
<circle cx="19.1" cy="10.1" r="1.07" fill="#0707ff" fill-opacity="1.00" filter="url(#c)"/>
<circle cx="5.8" cy="12.2" r="1.49" fill="#0707ff" fill-opacity="0.58" filter="url(#c)"/>
<circle cx="4.7" cy="14.3" r="1.28" fill="#0707ff" fill-opacity="1.00" filter="url(#c)"/>
<circle cx="3.7" cy="17.0" r="1.28" fill="#0707ff" fill-opacity="1.00" filter="url(#c)"/>
<circle cx="9.5" cy="12.7" r="1.28" fill="#0707ff" fill-opacity="1.00" filter="url(#c)"/>
<circle cx="11.7" cy="13.3" r="1.07" fill="#0707ff" fill-opacity="1.00" filter="url(#c)"/>
<circle cx="27.6" cy="12.2" r="1.49" fill="#0707ff" fill-opacity="1.00" filter="url(#c)"/>
<circle cx="32.4" cy="12.7" r="1.28" fill="#0707ff" fill-opacity="0.72" filter="url(#c)"/>
<circle cx="36.2" cy="12.2" r="1.71" fill="#0707ff" fill-opacity="1.00" filter="url(#c)"/>
<circle cx="39.4" cy="12.2" r="1.28" fill="#0707ff" fill-opacity="0.67" filter="url(#c)"/>
<circle cx="41.0" cy="8.5" r="1.71" fill="#0707ff" fill-opacity="1.00" filter="url(#c)"/>
<circle cx="46.8" cy="17.0" r="1.71" fill="#0707ff" fill-opacity="1.00" filter="url(#c)"/>
<circle cx="46.3" cy="20.2" r="1.28" fill="#0707ff" fill-opacity="1.00" filter="url(#c)"/>
<circle cx="46.3" cy="23.4" r="1.49" fill="#0707ff" fill-opacity="1.00" filter="url(#c)"/>
<circle cx="44.7" cy="25.0" r="1.28" fill="#0707ff" fill-opacity="0.75" filter="url(#c)"/>
<circle cx="22.8" cy="21.2" r="1.60" fill="#0707ff" fill-opacity="1.00" filter="url(#c)"/>
<circle cx="37.8" cy="21.2" r="1.81" fill="#0707ff" fill-opacity="1.00" filter="url(#c)"/>
<circle cx="4.2" cy="23.4" r="1.28" fill="#0707ff" fill-opacity="1.00" filter="url(#c)"/>
<circle cx="7.4" cy="24.4" r="1.49" fill="#0707ff" fill-opacity="1.00" filter="url(#c)"/>
<circle cx="5.8" cy="26.6" r="1.28" fill="#0707ff" fill-opacity="1.00" filter="url(#c)"/>
<circle cx="7.9" cy="28.2" r="1.28" fill="#0707ff" fill-opacity="1.00" filter="url(#c)"/>
<circle cx="9.0" cy="30.3" r="1.28" fill="#0707ff" fill-opacity="0.61" filter="url(#c)"/>
<circle cx="15.9" cy="28.2" r="1.60" fill="#0707ff" fill-opacity="0.61" filter="url(#c)"/>
<circle cx="34.6" cy="26.6" r="1.81" fill="#0707ff" fill-opacity="1.00" filter="url(#c)"/>
<circle cx="37.2" cy="27.1" r="1.28" fill="#0707ff" fill-opacity="1.00" filter="url(#c)"/>
<circle cx="41.5" cy="26.6" r="1.28" fill="#0707ff" fill-opacity="1.00" filter="url(#c)"/>
<circle cx="42.0" cy="28.2" r="1.28" fill="#0707ff" fill-opacity="1.00" filter="url(#c)"/>
<circle cx="36.2" cy="31.4" r="1.49" fill="#0707ff" fill-opacity="1.00" filter="url(#c)"/>
<circle cx="44.2" cy="31.4" r="1.49" fill="#0707ff" fill-opacity="0.74" filter="url(#c)"/>
<circle cx="46.8" cy="30.3" r="1.49" fill="#0707ff" fill-opacity="1.00" filter="url(#c)"/>
<circle cx="32.4" cy="34.6" r="1.49" fill="#0707ff" fill-opacity="0.53" filter="url(#c)"/>
<circle cx="34.6" cy="36.7" r="1.49" fill="#0707ff" fill-opacity="1.00" filter="url(#c)"/>
<circle cx="38.8" cy="35.6" r="1.28" fill="#0707ff" fill-opacity="1.00" filter="url(#c)"/>
<circle cx="36.7" cy="38.8" r="1.28" fill="#0707ff" fill-opacity="1.00" filter="url(#c)"/>
<circle cx="23.9" cy="37.2" r="1.28" fill="#0707ff" fill-opacity="1.00" filter="url(#c)"/>
<circle cx="50.6" cy="34.6" r="1.28" fill="#0707ff" fill-opacity="1.00" filter="url(#c)"/>
<circle cx="54.8" cy="33.5" r="1.28" fill="#0707ff" fill-opacity="1.00" filter="url(#c)"/>
<circle cx="56.4" cy="34.6" r="1.28" fill="#0707ff" fill-opacity="0.69" filter="url(#c)"/>
<circle cx="63.3" cy="27.1" r="1.49" fill="#0707ff" fill-opacity="1.00" filter="url(#c)"/>
<circle cx="67.6" cy="25.5" r="1.39" fill="#0707ff" fill-opacity="1.00" filter="url(#c)"/>
<circle cx="62.3" cy="30.8" r="1.28" fill="#0707ff" fill-opacity="1.00" filter="url(#c)"/>
<circle cx="63.9" cy="31.4" r="1.28" fill="#0707ff" fill-opacity="0.64" filter="url(#c)"/>
<circle cx="66.0" cy="36.7" r="1.49" fill="#0707ff" fill-opacity="0.74" filter="url(#c)"/>
<circle cx="64.4" cy="39.9" r="1.28" fill="#0707ff" fill-opacity="0.67" filter="url(#c)"/>
<circle cx="69.2" cy="37.2" r="1.28" fill="#0707ff" fill-opacity="1.00" filter="url(#c)"/>
<circle cx="31.4" cy="42.6" r="1.28" fill="#0707ff" fill-opacity="0.63" filter="url(#c)"/>
<circle cx="30.3" cy="46.3" r="1.28" fill="#0707ff" fill-opacity="0.84" filter="url(#c)"/>
<circle cx="43.6" cy="46.8" r="1.60" fill="#0707ff" fill-opacity="0.63" filter="url(#c)"/>
<circle cx="47.4" cy="44.7" r="1.71" fill="#0707ff" fill-opacity="0.57" filter="url(#c)"/>
<circle cx="51.1" cy="45.2" r="1.28" fill="#0707ff" fill-opacity="0.77" filter="url(#c)"/>
<circle cx="22.3" cy="52.2" r="1.49" fill="#0707ff" fill-opacity="1.00" filter="url(#c)"/>
<circle cx="25.0" cy="51.6" r="1.28" fill="#0707ff" fill-opacity="1.00" filter="url(#c)"/>
<circle cx="27.6" cy="52.2" r="1.28" fill="#0707ff" fill-opacity="1.00" filter="url(#c)"/>
<circle cx="51.6" cy="53.2" r="1.28" fill="#0707ff" fill-opacity="0.68" filter="url(#c)"/>
<circle cx="60.1" cy="52.2" r="1.28" fill="#0707ff" fill-opacity="0.68" filter="url(#c)"/>
<circle cx="62.8" cy="52.7" r="1.28" fill="#0707ff" fill-opacity="1.00" filter="url(#c)"/>
</g>
<rect x="52.9" y="50.3" width="16.2" height="0.9" fill="#d8d8d8"/>
<text x="61.3" y="48.9" font-size="3.2" fill="#c8c8c8" text-anchor="middle" font-weight="bold">50µm</text>
</svg>
<svg x="90.30" y="310.60" width="71.2" height="53.6" overflow="hidden">
<rect width="71.2" height="53.6" fill="#000"/>
<g>
<circle cx="14.1" cy="2.6" r="1.07" fill="#18c818" fill-opacity="0.64" filter="url(#g2)"/>
<circle cx="16.2" cy="5.3" r="1.33" fill="#18c818" fill-opacity="0.56" filter="url(#g2)"/>
<circle cx="33.8" cy="1.5" r="0.80" fill="#18c818" fill-opacity="0.48" filter="url(#g2)"/>
<circle cx="39.1" cy="11.7" r="0.93" fill="#18c818" fill-opacity="0.56" filter="url(#g2)"/>
<circle cx="46.6" cy="17.0" r="1.73" fill="#18c818" fill-opacity="0.80" filter="url(#g2)"/>
<circle cx="22.6" cy="21.2" r="1.60" fill="#18c818" fill-opacity="0.80" filter="url(#g2)"/>
<circle cx="15.7" cy="28.2" r="1.73" fill="#18c818" fill-opacity="0.80" filter="url(#g2)"/>
<circle cx="46.6" cy="22.3" r="1.07" fill="#18c818" fill-opacity="0.48" filter="url(#g2)"/>
<circle cx="44.5" cy="24.4" r="0.80" fill="#18c818" fill-opacity="0.32" filter="url(#g2)"/>
<circle cx="66.3" cy="25.5" r="0.80" fill="#18c818" fill-opacity="0.40" filter="url(#g2)"/>
<circle cx="21.5" cy="53.2" r="1.33" fill="#18c818" fill-opacity="0.64" filter="url(#g2)"/>
<circle cx="31.7" cy="36.7" r="0.67" fill="#18c818" fill-opacity="0.24" filter="url(#g2)"/>
<circle cx="42.9" cy="46.3" r="0.67" fill="#18c818" fill-opacity="0.24" filter="url(#g2)"/>
<circle cx="34.9" cy="11.1" r="0.67" fill="#18c818" fill-opacity="0.24" filter="url(#g2)"/>
<circle cx="33.8" cy="26.6" r="0.67" fill="#18c818" fill-opacity="0.24" filter="url(#g2)"/>
<circle cx="31.7" cy="34.0" r="0.67" fill="#18c818" fill-opacity="0.24" filter="url(#g2)"/>
</g>
<rect x="52.9" y="50.3" width="16.2" height="0.9" fill="#d8d8d8"/>
<text x="61.3" y="48.9" font-size="3.2" fill="#c8c8c8" text-anchor="middle" font-weight="bold">50µm</text>
</svg>
<svg x="162.90" y="310.60" width="71.2" height="53.6" overflow="hidden">
<rect width="71.2" height="53.6" fill="#000"/>
<g>
<circle cx="17.0" cy="1.0" r="1.28" fill="#0707ff" fill-opacity="0.73" filter="url(#c)"/>
<circle cx="34.6" cy="1.5" r="1.49" fill="#0707ff" fill-opacity="0.79" filter="url(#c)"/>
<circle cx="33.5" cy="5.3" r="1.49" fill="#0707ff" fill-opacity="1.00" filter="url(#c)"/>
<circle cx="14.3" cy="6.9" r="1.49" fill="#0707ff" fill-opacity="0.51" filter="url(#c)"/>
<circle cx="17.0" cy="5.8" r="1.28" fill="#0707ff" fill-opacity="1.00" filter="url(#c)"/>
<circle cx="18.6" cy="7.4" r="1.28" fill="#0707ff" fill-opacity="0.63" filter="url(#c)"/>
<circle cx="17.0" cy="9.0" r="1.07" fill="#0707ff" fill-opacity="0.61" filter="url(#c)"/>
<circle cx="19.1" cy="10.1" r="1.07" fill="#0707ff" fill-opacity="1.00" filter="url(#c)"/>
<circle cx="5.8" cy="12.2" r="1.49" fill="#0707ff" fill-opacity="0.58" filter="url(#c)"/>
<circle cx="4.7" cy="14.3" r="1.28" fill="#0707ff" fill-opacity="1.00" filter="url(#c)"/>
<circle cx="3.7" cy="17.0" r="1.28" fill="#0707ff" fill-opacity="1.00" filter="url(#c)"/>
<circle cx="9.5" cy="12.7" r="1.28" fill="#0707ff" fill-opacity="1.00" filter="url(#c)"/>
<circle cx="11.7" cy="13.3" r="1.07" fill="#0707ff" fill-opacity="1.00" filter="url(#c)"/>
<circle cx="27.6" cy="12.2" r="1.49" fill="#0707ff" fill-opacity="1.00" filter="url(#c)"/>
<circle cx="32.4" cy="12.7" r="1.28" fill="#0707ff" fill-opacity="0.72" filter="url(#c)"/>
<circle cx="36.2" cy="12.2" r="1.71" fill="#0707ff" fill-opacity="1.00" filter="url(#c)"/>
<circle cx="39.4" cy="12.2" r="1.28" fill="#0707ff" fill-opacity="0.67" filter="url(#c)"/>
<circle cx="41.0" cy="8.5" r="1.71" fill="#0707ff" fill-opacity="1.00" filter="url(#c)"/>
<circle cx="46.8" cy="17.0" r="1.71" fill="#0707ff" fill-opacity="1.00" filter="url(#c)"/>
<circle cx="46.3" cy="20.2" r="1.28" fill="#0707ff" fill-opacity="1.00" filter="url(#c)"/>
<circle cx="46.3" cy="23.4" r="1.49" fill="#0707ff" fill-opacity="1.00" filter="url(#c)"/>
<circle cx="44.7" cy="25.0" r="1.28" fill="#0707ff" fill-opacity="0.75" filter="url(#c)"/>
<circle cx="22.8" cy="21.2" r="1.60" fill="#0707ff" fill-opacity="1.00" filter="url(#c)"/>
<circle cx="37.8" cy="21.2" r="1.81" fill="#0707ff" fill-opacity="1.00" filter="url(#c)"/>
<circle cx="4.2" cy="23.4" r="1.28" fill="#0707ff" fill-opacity="1.00" filter="url(#c)"/>
<circle cx="7.4" cy="24.4" r="1.49" fill="#0707ff" fill-opacity="1.00" filter="url(#c)"/>
<circle cx="5.8" cy="26.6" r="1.28" fill="#0707ff" fill-opacity="1.00" filter="url(#c)"/>
<circle cx="7.9" cy="28.2" r="1.28" fill="#0707ff" fill-opacity="1.00" filter="url(#c)"/>
<circle cx="9.0" cy="30.3" r="1.28" fill="#0707ff" fill-opacity="0.61" filter="url(#c)"/>
<circle cx="15.9" cy="28.2" r="1.60" fill="#0707ff" fill-opacity="0.61" filter="url(#c)"/>
<circle cx="34.6" cy="26.6" r="1.81" fill="#0707ff" fill-opacity="1.00" filter="url(#c)"/>
<circle cx="37.2" cy="27.1" r="1.28" fill="#0707ff" fill-opacity="1.00" filter="url(#c)"/>
<circle cx="41.5" cy="26.6" r="1.28" fill="#0707ff" fill-opacity="1.00" filter="url(#c)"/>
<circle cx="42.0" cy="28.2" r="1.28" fill="#0707ff" fill-opacity="1.00" filter="url(#c)"/>
<circle cx="36.2" cy="31.4" r="1.49" fill="#0707ff" fill-opacity="1.00" filter="url(#c)"/>
<circle cx="44.2" cy="31.4" r="1.49" fill="#0707ff" fill-opacity="0.74" filter="url(#c)"/>
<circle cx="46.8" cy="30.3" r="1.49" fill="#0707ff" fill-opacity="1.00" filter="url(#c)"/>
<circle cx="32.4" cy="34.6" r="1.49" fill="#0707ff" fill-opacity="0.53" filter="url(#c)"/>
<circle cx="34.6" cy="36.7" r="1.49" fill="#0707ff" fill-opacity="1.00" filter="url(#c)"/>
<circle cx="38.8" cy="35.6" r="1.28" fill="#0707ff" fill-opacity="1.00" filter="url(#c)"/>
<circle cx="36.7" cy="38.8" r="1.28" fill="#0707ff" fill-opacity="1.00" filter="url(#c)"/>
<circle cx="23.9" cy="37.2" r="1.28" fill="#0707ff" fill-opacity="1.00" filter="url(#c)"/>
<circle cx="50.6" cy="34.6" r="1.28" fill="#0707ff" fill-opacity="1.00" filter="url(#c)"/>
<circle cx="54.8" cy="33.5" r="1.28" fill="#0707ff" fill-opacity="1.00" filter="url(#c)"/>
<circle cx="56.4" cy="34.6" r="1.28" fill="#0707ff" fill-opacity="0.69" filter="url(#c)"/>
<circle cx="63.3" cy="27.1" r="1.49" fill="#0707ff" fill-opacity="1.00" filter="url(#c)"/>
<circle cx="67.6" cy="25.5" r="1.39" fill="#0707ff" fill-opacity="1.00" filter="url(#c)"/>
<circle cx="62.3" cy="30.8" r="1.28" fill="#0707ff" fill-opacity="1.00" filter="url(#c)"/>
<circle cx="63.9" cy="31.4" r="1.28" fill="#0707ff" fill-opacity="0.64" filter="url(#c)"/>
<circle cx="66.0" cy="36.7" r="1.49" fill="#0707ff" fill-opacity="0.74" filter="url(#c)"/>
<circle cx="64.4" cy="39.9" r="1.28" fill="#0707ff" fill-opacity="0.67" filter="url(#c)"/>
<circle cx="69.2" cy="37.2" r="1.28" fill="#0707ff" fill-opacity="1.00" filter="url(#c)"/>
<circle cx="31.4" cy="42.6" r="1.28" fill="#0707ff" fill-opacity="0.63" filter="url(#c)"/>
<circle cx="30.3" cy="46.3" r="1.28" fill="#0707ff" fill-opacity="0.84" filter="url(#c)"/>
<circle cx="43.6" cy="46.8" r="1.60" fill="#0707ff" fill-opacity="0.63" filter="url(#c)"/>
<circle cx="47.4" cy="44.7" r="1.71" fill="#0707ff" fill-opacity="0.57" filter="url(#c)"/>
<circle cx="51.1" cy="45.2" r="1.28" fill="#0707ff" fill-opacity="0.77" filter="url(#c)"/>
<circle cx="22.3" cy="52.2" r="1.49" fill="#0707ff" fill-opacity="1.00" filter="url(#c)"/>
<circle cx="25.0" cy="51.6" r="1.28" fill="#0707ff" fill-opacity="1.00" filter="url(#c)"/>
<circle cx="27.6" cy="52.2" r="1.28" fill="#0707ff" fill-opacity="1.00" filter="url(#c)"/>
<circle cx="51.6" cy="53.2" r="1.28" fill="#0707ff" fill-opacity="0.68" filter="url(#c)"/>
<circle cx="60.1" cy="52.2" r="1.28" fill="#0707ff" fill-opacity="0.68" filter="url(#c)"/>
<circle cx="62.8" cy="52.7" r="1.28" fill="#0707ff" fill-opacity="1.00" filter="url(#c)"/>
</g>
<g style="mix-blend-mode:screen">
<circle cx="14.1" cy="2.6" r="0.85" fill="#00e0a0" fill-opacity="0.46" filter="url(#c)"/>
<circle cx="16.2" cy="5.3" r="1.07" fill="#00e0a0" fill-opacity="0.33" filter="url(#c)"/>
<circle cx="33.8" cy="1.5" r="0.64" fill="#00e0a0" fill-opacity="0.22" filter="url(#c)"/>
<circle cx="39.1" cy="11.7" r="0.75" fill="#00e0a0" fill-opacity="0.33" filter="url(#c)"/>
<circle cx="46.6" cy="17.0" r="1.39" fill="#00e0a0" fill-opacity="0.80" filter="url(#c)"/>
<circle cx="22.6" cy="21.2" r="1.28" fill="#00e0a0" fill-opacity="0.80" filter="url(#c)"/>
<circle cx="15.7" cy="28.2" r="1.39" fill="#00e0a0" fill-opacity="0.80" filter="url(#c)"/>
<circle cx="46.6" cy="22.3" r="0.85" fill="#00e0a0" fill-opacity="0.22" filter="url(#c)"/>
<circle cx="44.5" cy="24.4" r="0.64" fill="#00e0a0" fill-opacity="0.08" filter="url(#c)"/>
<circle cx="66.3" cy="25.5" r="0.64" fill="#00e0a0" fill-opacity="0.14" filter="url(#c)"/>
<circle cx="21.5" cy="53.2" r="1.07" fill="#00e0a0" fill-opacity="0.46" filter="url(#c)"/>
<circle cx="31.7" cy="36.7" r="0.53" fill="#00e0a0" fill-opacity="0.04" filter="url(#c)"/>
<circle cx="42.9" cy="46.3" r="0.53" fill="#00e0a0" fill-opacity="0.04" filter="url(#c)"/>
<circle cx="34.9" cy="11.1" r="0.53" fill="#00e0a0" fill-opacity="0.04" filter="url(#c)"/>
<circle cx="33.8" cy="26.6" r="0.53" fill="#00e0a0" fill-opacity="0.04" filter="url(#c)"/>
<circle cx="31.7" cy="34.0" r="0.53" fill="#00e0a0" fill-opacity="0.04" filter="url(#c)"/>
</g>
</svg>
<svg x="235.40" y="310.60" width="71.2" height="53.6" overflow="hidden">
<rect width="71.2" height="53.6" fill="#000"/>
<ellipse cx="64.1" cy="9.0" rx="3.95" ry="4.29" fill="url(#zg)" fill-opacity="1.00" filter="url(#z)"/>
<ellipse cx="5.5" cy="19.6" rx="3.61" ry="3.95" fill="url(#zg)" fill-opacity="1.00" filter="url(#z)"/>
<ellipse cx="41.7" cy="20.7" rx="4.29" ry="5.08" fill="url(#zg)" fill-opacity="1.00" filter="url(#z)"/>
<ellipse cx="60.9" cy="17.0" rx="3.61" ry="3.95" fill="url(#zg)" fill-opacity="0.70" filter="url(#z)"/>
<ellipse cx="61.4" cy="27.1" rx="6.21" ry="5.65" fill="url(#zg)" fill-opacity="0.60" filter="url(#z)"/>
<ellipse cx="33.7" cy="34.6" rx="4.52" ry="4.52" fill="url(#zg)" fill-opacity="1.00" filter="url(#z)"/>
<ellipse cx="40.6" cy="35.6" rx="3.39" ry="5.08" fill="url(#zg)" fill-opacity="0.80" filter="url(#z)"/>
<ellipse cx="51.3" cy="36.2" rx="3.61" ry="5.65" fill="url(#zg)" fill-opacity="0.65" filter="url(#z)"/>
<ellipse cx="38.5" cy="46.3" rx="3.95" ry="3.39" fill="url(#zg)" fill-opacity="1.00" filter="url(#z)"/>
<ellipse cx="56.6" cy="47.9" rx="3.61" ry="3.95" fill="url(#zg)" fill-opacity="0.90" filter="url(#z)"/>
<ellipse cx="63.5" cy="43.6" rx="3.39" ry="2.82" fill="url(#zg)" fill-opacity="1.00" filter="url(#z)"/>
<ellipse cx="28.4" cy="52.2" rx="2.26" ry="1.69" fill="url(#zg)" fill-opacity="0.70" filter="url(#z)"/>
<ellipse cx="16.7" cy="1.0" rx="1.69" ry="0.90" fill="url(#zg)" fill-opacity="0.60" filter="url(#z)"/>
<ellipse cx="27.8" cy="1.0" rx="1.69" ry="0.90" fill="url(#zg)" fill-opacity="0.60" filter="url(#z)"/>
<ellipse cx="38.5" cy="1.0" rx="2.26" ry="1.13" fill="url(#zg)" fill-opacity="0.80" filter="url(#z)"/>
<circle cx="64.2" cy="9.1" r="0.60" fill="#30ff90" fill-opacity="0.65" style="mix-blend-mode:screen" filter="url(#c)"/>
<circle cx="64.3" cy="8.3" r="0.61" fill="#30ff90" fill-opacity="0.46" style="mix-blend-mode:screen" filter="url(#c)"/>
<circle cx="63.6" cy="8.4" r="0.61" fill="#30ff90" fill-opacity="0.73" style="mix-blend-mode:screen" filter="url(#c)"/>
<circle cx="64.2" cy="8.8" r="0.76" fill="#30ff90" fill-opacity="0.36" style="mix-blend-mode:screen" filter="url(#c)"/>
<circle cx="63.9" cy="8.5" r="0.58" fill="#30ff90" fill-opacity="0.68" style="mix-blend-mode:screen" filter="url(#c)"/>
<circle cx="62.5" cy="10.4" r="0.51" fill="#30ff90" fill-opacity="0.37" style="mix-blend-mode:screen" filter="url(#c)"/>
<circle cx="63.4" cy="9.3" r="0.52" fill="#30ff90" fill-opacity="0.71" style="mix-blend-mode:screen" filter="url(#c)"/>
<circle cx="64.1" cy="9.8" r="0.54" fill="#30ff90" fill-opacity="0.68" style="mix-blend-mode:screen" filter="url(#c)"/>
<circle cx="66.6" cy="8.1" r="1.00" fill="#30ff90" fill-opacity="0.74" style="mix-blend-mode:screen" filter="url(#c)"/>
<circle cx="64.0" cy="9.1" r="0.99" fill="#30ff90" fill-opacity="0.65" style="mix-blend-mode:screen" filter="url(#c)"/>
<circle cx="63.9" cy="8.1" r="0.54" fill="#30ff90" fill-opacity="0.69" style="mix-blend-mode:screen" filter="url(#c)"/>
<circle cx="63.2" cy="10.3" r="0.99" fill="#30ff90" fill-opacity="0.40" style="mix-blend-mode:screen" filter="url(#c)"/>
<circle cx="4.7" cy="22.1" r="0.98" fill="#30ff90" fill-opacity="0.62" style="mix-blend-mode:screen" filter="url(#c)"/>
<circle cx="6.4" cy="20.5" r="0.89" fill="#30ff90" fill-opacity="0.60" style="mix-blend-mode:screen" filter="url(#c)"/>
<circle cx="5.1" cy="18.9" r="0.68" fill="#30ff90" fill-opacity="0.35" style="mix-blend-mode:screen" filter="url(#c)"/>
<circle cx="5.9" cy="19.0" r="0.65" fill="#30ff90" fill-opacity="0.50" style="mix-blend-mode:screen" filter="url(#c)"/>
<circle cx="5.1" cy="20.0" r="0.52" fill="#30ff90" fill-opacity="0.62" style="mix-blend-mode:screen" filter="url(#c)"/>
<circle cx="6.9" cy="18.7" r="1.04" fill="#30ff90" fill-opacity="0.44" style="mix-blend-mode:screen" filter="url(#c)"/>
<circle cx="5.6" cy="20.9" r="0.87" fill="#30ff90" fill-opacity="0.47" style="mix-blend-mode:screen" filter="url(#c)"/>
<circle cx="6.3" cy="20.0" r="0.62" fill="#30ff90" fill-opacity="0.34" style="mix-blend-mode:screen" filter="url(#c)"/>
<circle cx="4.4" cy="21.4" r="0.68" fill="#30ff90" fill-opacity="0.36" style="mix-blend-mode:screen" filter="url(#c)"/>
<circle cx="4.2" cy="22.0" r="0.76" fill="#30ff90" fill-opacity="0.34" style="mix-blend-mode:screen" filter="url(#c)"/>
<circle cx="5.4" cy="19.3" r="0.70" fill="#30ff90" fill-opacity="0.57" style="mix-blend-mode:screen" filter="url(#c)"/>
<circle cx="59.7" cy="26.5" r="0.56" fill="#30ff90" fill-opacity="0.31" style="mix-blend-mode:screen" filter="url(#c)"/>
<circle cx="63.0" cy="27.0" r="0.82" fill="#30ff90" fill-opacity="0.22" style="mix-blend-mode:screen" filter="url(#c)"/>
<circle cx="61.6" cy="26.7" r="0.51" fill="#30ff90" fill-opacity="0.17" style="mix-blend-mode:screen" filter="url(#c)"/>
<circle cx="62.8" cy="26.8" r="0.65" fill="#30ff90" fill-opacity="0.16" style="mix-blend-mode:screen" filter="url(#c)"/>
<circle cx="60.7" cy="31.0" r="0.67" fill="#30ff90" fill-opacity="0.27" style="mix-blend-mode:screen" filter="url(#c)"/>
<circle cx="62.2" cy="28.4" r="0.73" fill="#30ff90" fill-opacity="0.20" style="mix-blend-mode:screen" filter="url(#c)"/>
<circle cx="61.4" cy="27.2" r="0.96" fill="#30ff90" fill-opacity="0.23" style="mix-blend-mode:screen" filter="url(#c)"/>
<circle cx="62.8" cy="29.0" r="0.95" fill="#30ff90" fill-opacity="0.27" style="mix-blend-mode:screen" filter="url(#c)"/>
<rect x="59.5" y="49.6" width="7.9" height="1.2" fill="#a0a0a0"/>
<text x="63" y="47.0" font-size="3.2" fill="#d0d0d0" text-anchor="middle" font-weight="bold">10µm</text>
</svg>
<svg x="17.60" y="365.30" width="71.2" height="53.6" overflow="hidden">
<rect width="71.2" height="53.6" fill="#000"/>
<g>
<circle cx="48.6" cy="3.4" r="1.49" fill="#0707ff" fill-opacity="1.00" filter="url(#c)"/>
<circle cx="46.8" cy="6.6" r="1.28" fill="#0707ff" fill-opacity="1.00" filter="url(#c)"/>
<circle cx="59.6" cy="17.8" r="1.28" fill="#0707ff" fill-opacity="0.63" filter="url(#c)"/>
<circle cx="59.1" cy="19.9" r="1.07" fill="#0707ff" fill-opacity="0.69" filter="url(#c)"/>
<circle cx="16.5" cy="23.7" r="1.60" fill="#0707ff" fill-opacity="1.00" filter="url(#c)"/>
<circle cx="18.6" cy="26.3" r="1.71" fill="#0707ff" fill-opacity="1.00" filter="url(#c)"/>
<circle cx="20.2" cy="27.9" r="1.49" fill="#0707ff" fill-opacity="1.00" filter="url(#c)"/>
<circle cx="25.5" cy="22.1" r="1.28" fill="#0707ff" fill-opacity="1.00" filter="url(#c)"/>
<circle cx="27.6" cy="20.5" r="1.28" fill="#0707ff" fill-opacity="1.00" filter="url(#c)"/>
<circle cx="28.2" cy="25.3" r="1.28" fill="#0707ff" fill-opacity="1.00" filter="url(#c)"/>
<circle cx="21.2" cy="31.7" r="1.39" fill="#0707ff" fill-opacity="0.79" filter="url(#c)"/>
<circle cx="33.5" cy="23.1" r="1.49" fill="#0707ff" fill-opacity="1.00" filter="url(#c)"/>
<circle cx="34.6" cy="25.8" r="1.28" fill="#0707ff" fill-opacity="1.00" filter="url(#c)"/>
<circle cx="37.8" cy="27.4" r="1.60" fill="#0707ff" fill-opacity="0.59" filter="url(#c)"/>
<circle cx="31.4" cy="33.3" r="1.49" fill="#0707ff" fill-opacity="1.00" filter="url(#c)"/>
<circle cx="34.6" cy="31.7" r="1.49" fill="#0707ff" fill-opacity="0.50" filter="url(#c)"/>
<circle cx="37.2" cy="31.7" r="1.49" fill="#0707ff" fill-opacity="1.00" filter="url(#c)"/>
<circle cx="40.4" cy="33.8" r="1.49" fill="#0707ff" fill-opacity="0.81" filter="url(#c)"/>
<circle cx="42.0" cy="34.3" r="1.28" fill="#0707ff" fill-opacity="0.82" filter="url(#c)"/>
<circle cx="43.6" cy="25.3" r="1.28" fill="#0707ff" fill-opacity="1.00" filter="url(#c)"/>
<circle cx="46.3" cy="23.1" r="1.28" fill="#0707ff" fill-opacity="0.56" filter="url(#c)"/>
<circle cx="46.8" cy="26.9" r="1.28" fill="#0707ff" fill-opacity="1.00" filter="url(#c)"/>
<circle cx="50.6" cy="24.2" r="1.28" fill="#0707ff" fill-opacity="1.00" filter="url(#c)"/>
<circle cx="49.5" cy="28.5" r="1.81" fill="#0707ff" fill-opacity="1.00" filter="url(#c)"/>
<circle cx="52.2" cy="27.9" r="1.49" fill="#0707ff" fill-opacity="1.00" filter="url(#c)"/>
<circle cx="54.8" cy="29.0" r="1.28" fill="#0707ff" fill-opacity="1.00" filter="url(#c)"/>
<circle cx="52.7" cy="31.7" r="1.49" fill="#0707ff" fill-opacity="1.00" filter="url(#c)"/>
<circle cx="48.4" cy="31.7" r="1.28" fill="#0707ff" fill-opacity="1.00" filter="url(#c)"/>
<circle cx="54.8" cy="31.7" r="1.28" fill="#0707ff" fill-opacity="1.00" filter="url(#c)"/>
<circle cx="58.5" cy="29.0" r="1.28" fill="#0707ff" fill-opacity="1.00" filter="url(#c)"/>
<circle cx="63.3" cy="27.4" r="1.28" fill="#0707ff" fill-opacity="1.00" filter="url(#c)"/>
<circle cx="67.6" cy="27.9" r="1.28" fill="#0707ff" fill-opacity="0.72" filter="url(#c)"/>
<circle cx="62.8" cy="33.3" r="1.28" fill="#0707ff" fill-opacity="0.50" filter="url(#c)"/>
<circle cx="66.0" cy="33.3" r="1.28" fill="#0707ff" fill-opacity="1.00" filter="url(#c)"/>
<circle cx="69.2" cy="34.9" r="1.28" fill="#0707ff" fill-opacity="1.00" filter="url(#c)"/>
<circle cx="1.5" cy="34.9" r="1.28" fill="#0707ff" fill-opacity="1.00" filter="url(#c)"/>
<circle cx="1.5" cy="40.7" r="1.49" fill="#0707ff" fill-opacity="1.00" filter="url(#c)"/>
<circle cx="6.9" cy="40.2" r="1.28" fill="#0707ff" fill-opacity="1.00" filter="url(#c)"/>
<circle cx="11.1" cy="37.5" r="1.28" fill="#0707ff" fill-opacity="1.00" filter="url(#c)"/>
<circle cx="20.7" cy="35.9" r="1.60" fill="#0707ff" fill-opacity="0.76" filter="url(#c)"/>
<circle cx="22.8" cy="37.0" r="1.49" fill="#0707ff" fill-opacity="1.00" filter="url(#c)"/>
<circle cx="25.5" cy="38.1" r="1.49" fill="#0707ff" fill-opacity="1.00" filter="url(#c)"/>
<circle cx="22.3" cy="40.7" r="1.28" fill="#0707ff" fill-opacity="1.00" filter="url(#c)"/>
<circle cx="25.0" cy="44.5" r="1.28" fill="#0707ff" fill-opacity="0.75" filter="url(#c)"/>
<circle cx="28.2" cy="45.5" r="1.28" fill="#0707ff" fill-opacity="1.00" filter="url(#c)"/>
<circle cx="31.4" cy="42.9" r="1.28" fill="#0707ff" fill-opacity="1.00" filter="url(#c)"/>
<circle cx="20.7" cy="47.7" r="1.28" fill="#0707ff" fill-opacity="0.50" filter="url(#c)"/>
<circle cx="24.4" cy="49.3" r="1.28" fill="#0707ff" fill-opacity="1.00" filter="url(#c)"/>
<circle cx="51.6" cy="41.8" r="1.28" fill="#0707ff" fill-opacity="1.00" filter="url(#c)"/>
<circle cx="52.2" cy="43.4" r="1.28" fill="#0707ff" fill-opacity="1.00" filter="url(#c)"/>
<circle cx="54.8" cy="45.5" r="1.39" fill="#0707ff" fill-opacity="0.58" filter="url(#c)"/>
<circle cx="58.0" cy="43.9" r="1.28" fill="#0707ff" fill-opacity="1.00" filter="url(#c)"/>
<circle cx="56.9" cy="51.9" r="1.07" fill="#0707ff" fill-opacity="1.00" filter="url(#c)"/>
</g>
<rect x="52.9" y="50.3" width="16.2" height="0.9" fill="#d8d8d8"/>
<text x="61.3" y="48.9" font-size="3.2" fill="#c8c8c8" text-anchor="middle" font-weight="bold">50µm</text>
</svg>
<svg x="90.30" y="365.30" width="71.2" height="53.6" overflow="hidden">
<rect width="71.2" height="53.6" fill="#000"/>
<g>
<circle cx="48.2" cy="4.0" r="1.33" fill="#18c818" fill-opacity="0.56" filter="url(#g2)"/>
<circle cx="15.7" cy="23.7" r="1.86" fill="#18c818" fill-opacity="0.64" filter="url(#g2)"/>
<circle cx="24.2" cy="21.0" r="0.93" fill="#18c818" fill-opacity="0.48" filter="url(#g2)"/>
<circle cx="37.0" cy="27.6" r="1.73" fill="#18c818" fill-opacity="0.72" filter="url(#g2)"/>
<circle cx="39.7" cy="33.8" r="2.00" fill="#18c818" fill-opacity="0.64" filter="url(#g2)"/>
<circle cx="49.3" cy="28.5" r="0.80" fill="#18c818" fill-opacity="0.24" filter="url(#g2)"/>
<circle cx="10.9" cy="37.5" r="1.20" fill="#18c818" fill-opacity="0.32" filter="url(#g2)"/>
<circle cx="21.0" cy="37.0" r="0.80" fill="#18c818" fill-opacity="0.24" filter="url(#g2)"/>
<circle cx="23.7" cy="38.1" r="1.33" fill="#18c818" fill-opacity="0.32" filter="url(#g2)"/>
<circle cx="0.8" cy="40.7" r="1.20" fill="#18c818" fill-opacity="0.40" filter="url(#g2)"/>
<circle cx="53.5" cy="45.5" r="0.80" fill="#18c818" fill-opacity="0.24" filter="url(#g2)"/>
<circle cx="67.9" cy="49.8" r="0.80" fill="#18c818" fill-opacity="0.24" filter="url(#g2)"/>
</g>
<rect x="52.9" y="50.3" width="16.2" height="0.9" fill="#d8d8d8"/>
<text x="61.3" y="48.9" font-size="3.2" fill="#c8c8c8" text-anchor="middle" font-weight="bold">50µm</text>
</svg>
<svg x="162.90" y="365.30" width="71.2" height="53.6" overflow="hidden">
<rect width="71.2" height="53.6" fill="#000"/>
<g>
<circle cx="48.6" cy="3.4" r="1.49" fill="#0707ff" fill-opacity="1.00" filter="url(#c)"/>
<circle cx="46.8" cy="6.6" r="1.28" fill="#0707ff" fill-opacity="1.00" filter="url(#c)"/>
<circle cx="59.6" cy="17.8" r="1.28" fill="#0707ff" fill-opacity="0.63" filter="url(#c)"/>
<circle cx="59.1" cy="19.9" r="1.07" fill="#0707ff" fill-opacity="0.69" filter="url(#c)"/>
<circle cx="16.5" cy="23.7" r="1.60" fill="#0707ff" fill-opacity="1.00" filter="url(#c)"/>
<circle cx="18.6" cy="26.3" r="1.71" fill="#0707ff" fill-opacity="1.00" filter="url(#c)"/>
<circle cx="20.2" cy="27.9" r="1.49" fill="#0707ff" fill-opacity="1.00" filter="url(#c)"/>
<circle cx="25.5" cy="22.1" r="1.28" fill="#0707ff" fill-opacity="1.00" filter="url(#c)"/>
<circle cx="27.6" cy="20.5" r="1.28" fill="#0707ff" fill-opacity="1.00" filter="url(#c)"/>
<circle cx="28.2" cy="25.3" r="1.28" fill="#0707ff" fill-opacity="1.00" filter="url(#c)"/>
<circle cx="21.2" cy="31.7" r="1.39" fill="#0707ff" fill-opacity="0.79" filter="url(#c)"/>
<circle cx="33.5" cy="23.1" r="1.49" fill="#0707ff" fill-opacity="1.00" filter="url(#c)"/>
<circle cx="34.6" cy="25.8" r="1.28" fill="#0707ff" fill-opacity="1.00" filter="url(#c)"/>
<circle cx="37.8" cy="27.4" r="1.60" fill="#0707ff" fill-opacity="0.59" filter="url(#c)"/>
<circle cx="31.4" cy="33.3" r="1.49" fill="#0707ff" fill-opacity="1.00" filter="url(#c)"/>
<circle cx="34.6" cy="31.7" r="1.49" fill="#0707ff" fill-opacity="0.50" filter="url(#c)"/>
<circle cx="37.2" cy="31.7" r="1.49" fill="#0707ff" fill-opacity="1.00" filter="url(#c)"/>
<circle cx="40.4" cy="33.8" r="1.49" fill="#0707ff" fill-opacity="0.81" filter="url(#c)"/>
<circle cx="42.0" cy="34.3" r="1.28" fill="#0707ff" fill-opacity="0.82" filter="url(#c)"/>
<circle cx="43.6" cy="25.3" r="1.28" fill="#0707ff" fill-opacity="1.00" filter="url(#c)"/>
<circle cx="46.3" cy="23.1" r="1.28" fill="#0707ff" fill-opacity="0.56" filter="url(#c)"/>
<circle cx="46.8" cy="26.9" r="1.28" fill="#0707ff" fill-opacity="1.00" filter="url(#c)"/>
<circle cx="50.6" cy="24.2" r="1.28" fill="#0707ff" fill-opacity="1.00" filter="url(#c)"/>
<circle cx="49.5" cy="28.5" r="1.81" fill="#0707ff" fill-opacity="1.00" filter="url(#c)"/>
<circle cx="52.2" cy="27.9" r="1.49" fill="#0707ff" fill-opacity="1.00" filter="url(#c)"/>
<circle cx="54.8" cy="29.0" r="1.28" fill="#0707ff" fill-opacity="1.00" filter="url(#c)"/>
<circle cx="52.7" cy="31.7" r="1.49" fill="#0707ff" fill-opacity="1.00" filter="url(#c)"/>
<circle cx="48.4" cy="31.7" r="1.28" fill="#0707ff" fill-opacity="1.00" filter="url(#c)"/>
<circle cx="54.8" cy="31.7" r="1.28" fill="#0707ff" fill-opacity="1.00" filter="url(#c)"/>
<circle cx="58.5" cy="29.0" r="1.28" fill="#0707ff" fill-opacity="1.00" filter="url(#c)"/>
<circle cx="63.3" cy="27.4" r="1.28" fill="#0707ff" fill-opacity="1.00" filter="url(#c)"/>
<circle cx="67.6" cy="27.9" r="1.28" fill="#0707ff" fill-opacity="0.72" filter="url(#c)"/>
<circle cx="62.8" cy="33.3" r="1.28" fill="#0707ff" fill-opacity="0.50" filter="url(#c)"/>
<circle cx="66.0" cy="33.3" r="1.28" fill="#0707ff" fill-opacity="1.00" filter="url(#c)"/>
<circle cx="69.2" cy="34.9" r="1.28" fill="#0707ff" fill-opacity="1.00" filter="url(#c)"/>
<circle cx="1.5" cy="34.9" r="1.28" fill="#0707ff" fill-opacity="1.00" filter="url(#c)"/>
<circle cx="1.5" cy="40.7" r="1.49" fill="#0707ff" fill-opacity="1.00" filter="url(#c)"/>
<circle cx="6.9" cy="40.2" r="1.28" fill="#0707ff" fill-opacity="1.00" filter="url(#c)"/>
<circle cx="11.1" cy="37.5" r="1.28" fill="#0707ff" fill-opacity="1.00" filter="url(#c)"/>
<circle cx="20.7" cy="35.9" r="1.60" fill="#0707ff" fill-opacity="0.76" filter="url(#c)"/>
<circle cx="22.8" cy="37.0" r="1.49" fill="#0707ff" fill-opacity="1.00" filter="url(#c)"/>
<circle cx="25.5" cy="38.1" r="1.49" fill="#0707ff" fill-opacity="1.00" filter="url(#c)"/>
<circle cx="22.3" cy="40.7" r="1.28" fill="#0707ff" fill-opacity="1.00" filter="url(#c)"/>
<circle cx="25.0" cy="44.5" r="1.28" fill="#0707ff" fill-opacity="0.75" filter="url(#c)"/>
<circle cx="28.2" cy="45.5" r="1.28" fill="#0707ff" fill-opacity="1.00" filter="url(#c)"/>
<circle cx="31.4" cy="42.9" r="1.28" fill="#0707ff" fill-opacity="1.00" filter="url(#c)"/>
<circle cx="20.7" cy="47.7" r="1.28" fill="#0707ff" fill-opacity="0.50" filter="url(#c)"/>
<circle cx="24.4" cy="49.3" r="1.28" fill="#0707ff" fill-opacity="1.00" filter="url(#c)"/>
<circle cx="51.6" cy="41.8" r="1.28" fill="#0707ff" fill-opacity="1.00" filter="url(#c)"/>
<circle cx="52.2" cy="43.4" r="1.28" fill="#0707ff" fill-opacity="1.00" filter="url(#c)"/>
<circle cx="54.8" cy="45.5" r="1.39" fill="#0707ff" fill-opacity="0.58" filter="url(#c)"/>
<circle cx="58.0" cy="43.9" r="1.28" fill="#0707ff" fill-opacity="1.00" filter="url(#c)"/>
<circle cx="56.9" cy="51.9" r="1.07" fill="#0707ff" fill-opacity="1.00" filter="url(#c)"/>
</g>
<g style="mix-blend-mode:screen">
<circle cx="48.2" cy="4.0" r="1.07" fill="#00e0a0" fill-opacity="0.33" filter="url(#c)"/>
<circle cx="15.7" cy="23.7" r="1.49" fill="#00e0a0" fill-opacity="0.46" filter="url(#c)"/>
<circle cx="24.2" cy="21.0" r="0.75" fill="#00e0a0" fill-opacity="0.22" filter="url(#c)"/>
<circle cx="37.0" cy="27.6" r="1.39" fill="#00e0a0" fill-opacity="0.61" filter="url(#c)"/>
<circle cx="39.7" cy="33.8" r="1.60" fill="#00e0a0" fill-opacity="0.46" filter="url(#c)"/>
<circle cx="49.3" cy="28.5" r="0.64" fill="#00e0a0" fill-opacity="0.04" filter="url(#c)"/>
<circle cx="10.9" cy="37.5" r="0.96" fill="#00e0a0" fill-opacity="0.08" filter="url(#c)"/>
<circle cx="21.0" cy="37.0" r="0.64" fill="#00e0a0" fill-opacity="0.04" filter="url(#c)"/>
<circle cx="23.7" cy="38.1" r="1.07" fill="#00e0a0" fill-opacity="0.08" filter="url(#c)"/>
<circle cx="0.8" cy="40.7" r="0.96" fill="#00e0a0" fill-opacity="0.14" filter="url(#c)"/>
<circle cx="53.5" cy="45.5" r="0.64" fill="#00e0a0" fill-opacity="0.04" filter="url(#c)"/>
<circle cx="67.9" cy="49.8" r="0.64" fill="#00e0a0" fill-opacity="0.04" filter="url(#c)"/>
</g>
</svg>
<svg x="235.40" y="365.30" width="71.2" height="53.6" overflow="hidden">
<rect width="71.2" height="53.6" fill="#000"/>
<ellipse cx="3.3" cy="10.9" rx="3.39" ry="3.39" fill="url(#zg)" fill-opacity="0.90" filter="url(#z)"/>
<ellipse cx="10.8" cy="9.8" rx="3.95" ry="3.95" fill="url(#zg)" fill-opacity="1.00" filter="url(#z)"/>
<ellipse cx="4.4" cy="15.2" rx="3.39" ry="2.82" fill="url(#zg)" fill-opacity="0.80" filter="url(#z)"/>
<ellipse cx="12.4" cy="22.6" rx="3.61" ry="4.74" fill="url(#zg)" fill-opacity="0.90" filter="url(#z)"/>
<ellipse cx="26.2" cy="15.7" rx="3.61" ry="3.95" fill="url(#zg)" fill-opacity="1.00" filter="url(#z)"/>
<ellipse cx="28.4" cy="23.7" rx="3.39" ry="4.52" fill="url(#zg)" fill-opacity="0.90" filter="url(#z)"/>
<ellipse cx="36.9" cy="27.9" rx="4.74" ry="4.74" fill="url(#zg)" fill-opacity="1.00" filter="url(#z)"/>
<ellipse cx="25.2" cy="35.9" rx="5.08" ry="3.39" fill="url(#zg)" fill-opacity="0.80" filter="url(#z)"/>
<ellipse cx="35.3" cy="38.1" rx="4.52" ry="3.95" fill="url(#zg)" fill-opacity="0.90" filter="url(#z)"/>
<ellipse cx="44.4" cy="43.9" rx="6.21" ry="5.42" fill="url(#zg)" fill-opacity="0.85" filter="url(#z)"/>
<ellipse cx="19.8" cy="41.3" rx="4.29" ry="3.39" fill="url(#zg)" fill-opacity="1.00" filter="url(#z)"/>
<ellipse cx="51.8" cy="21.0" rx="3.61" ry="3.95" fill="url(#zg)" fill-opacity="1.00" filter="url(#z)"/>
<ellipse cx="58.2" cy="15.2" rx="5.08" ry="3.95" fill="url(#zg)" fill-opacity="0.85" filter="url(#z)"/>
<ellipse cx="66.7" cy="18.3" rx="3.95" ry="3.39" fill="url(#zg)" fill-opacity="0.70" filter="url(#z)"/>
<ellipse cx="59.3" cy="25.3" rx="3.61" ry="3.61" fill="url(#zg)" fill-opacity="1.00" filter="url(#z)"/>
<ellipse cx="66.2" cy="30.1" rx="5.08" ry="4.29" fill="url(#zg)" fill-opacity="1.00" filter="url(#z)"/>
<ellipse cx="61.4" cy="36.5" rx="4.29" ry="3.95" fill="url(#zg)" fill-opacity="1.00" filter="url(#z)"/>
<ellipse cx="65.7" cy="40.7" rx="4.52" ry="3.95" fill="url(#zg)" fill-opacity="0.90" filter="url(#z)"/>
<ellipse cx="69.4" cy="25.3" rx="2.26" ry="3.39" fill="url(#zg)" fill-opacity="0.90" filter="url(#z)"/>
<ellipse cx="3.9" cy="50.9" rx="5.65" ry="3.39" fill="url(#zg)" fill-opacity="0.90" filter="url(#z)"/>
<circle cx="4.8" cy="9.7" r="0.74" fill="#30ff90" fill-opacity="0.21" style="mix-blend-mode:screen" filter="url(#c)"/>
<circle cx="2.0" cy="9.0" r="0.95" fill="#30ff90" fill-opacity="0.14" style="mix-blend-mode:screen" filter="url(#c)"/>
<circle cx="1.9" cy="10.0" r="1.08" fill="#30ff90" fill-opacity="0.19" style="mix-blend-mode:screen" filter="url(#c)"/>
<circle cx="3.5" cy="12.7" r="0.67" fill="#30ff90" fill-opacity="0.17" style="mix-blend-mode:screen" filter="url(#c)"/>
<circle cx="5.0" cy="9.4" r="0.79" fill="#30ff90" fill-opacity="0.19" style="mix-blend-mode:screen" filter="url(#c)"/>
<circle cx="1.7" cy="11.2" r="0.76" fill="#30ff90" fill-opacity="0.22" style="mix-blend-mode:screen" filter="url(#c)"/>
<circle cx="2.7" cy="10.7" r="0.60" fill="#30ff90" fill-opacity="0.25" style="mix-blend-mode:screen" filter="url(#c)"/>
<circle cx="2.7" cy="12.7" r="0.72" fill="#30ff90" fill-opacity="0.22" style="mix-blend-mode:screen" filter="url(#c)"/>
<circle cx="36.7" cy="27.3" r="1.00" fill="#30ff90" fill-opacity="0.67" style="mix-blend-mode:screen" filter="url(#c)"/>
<circle cx="40.0" cy="28.1" r="1.02" fill="#30ff90" fill-opacity="0.63" style="mix-blend-mode:screen" filter="url(#c)"/>
<circle cx="35.5" cy="25.5" r="0.83" fill="#30ff90" fill-opacity="0.51" style="mix-blend-mode:screen" filter="url(#c)"/>
<circle cx="37.5" cy="26.7" r="0.70" fill="#30ff90" fill-opacity="0.59" style="mix-blend-mode:screen" filter="url(#c)"/>
<circle cx="37.6" cy="28.6" r="0.56" fill="#30ff90" fill-opacity="0.39" style="mix-blend-mode:screen" filter="url(#c)"/>
<circle cx="38.9" cy="28.6" r="0.99" fill="#30ff90" fill-opacity="0.73" style="mix-blend-mode:screen" filter="url(#c)"/>
<circle cx="36.5" cy="24.8" r="0.85" fill="#30ff90" fill-opacity="0.45" style="mix-blend-mode:screen" filter="url(#c)"/>
<circle cx="36.3" cy="26.7" r="0.71" fill="#30ff90" fill-opacity="0.65" style="mix-blend-mode:screen" filter="url(#c)"/>
<circle cx="38.0" cy="28.5" r="0.75" fill="#30ff90" fill-opacity="0.75" style="mix-blend-mode:screen" filter="url(#c)"/>
<circle cx="37.6" cy="28.9" r="0.53" fill="#30ff90" fill-opacity="0.42" style="mix-blend-mode:screen" filter="url(#c)"/>
<circle cx="37.2" cy="28.1" r="0.70" fill="#30ff90" fill-opacity="0.63" style="mix-blend-mode:screen" filter="url(#c)"/>
<circle cx="37.1" cy="28.9" r="0.84" fill="#30ff90" fill-opacity="0.77" style="mix-blend-mode:screen" filter="url(#c)"/>
<circle cx="43.0" cy="43.7" r="0.95" fill="#30ff90" fill-opacity="0.46" style="mix-blend-mode:screen" filter="url(#c)"/>
<circle cx="44.5" cy="44.9" r="0.61" fill="#30ff90" fill-opacity="0.30" style="mix-blend-mode:screen" filter="url(#c)"/>
<circle cx="45.0" cy="44.2" r="0.94" fill="#30ff90" fill-opacity="0.43" style="mix-blend-mode:screen" filter="url(#c)"/>
<circle cx="46.5" cy="40.7" r="0.80" fill="#30ff90" fill-opacity="0.42" style="mix-blend-mode:screen" filter="url(#c)"/>
<circle cx="46.1" cy="41.4" r="0.87" fill="#30ff90" fill-opacity="0.51" style="mix-blend-mode:screen" filter="url(#c)"/>
<circle cx="46.9" cy="42.7" r="0.98" fill="#30ff90" fill-opacity="0.28" style="mix-blend-mode:screen" filter="url(#c)"/>
<circle cx="43.8" cy="44.0" r="1.04" fill="#30ff90" fill-opacity="0.40" style="mix-blend-mode:screen" filter="url(#c)"/>
<circle cx="44.9" cy="45.5" r="0.58" fill="#30ff90" fill-opacity="0.44" style="mix-blend-mode:screen" filter="url(#c)"/>
<circle cx="45.1" cy="42.9" r="0.80" fill="#30ff90" fill-opacity="0.33" style="mix-blend-mode:screen" filter="url(#c)"/>
<circle cx="44.0" cy="43.6" r="0.79" fill="#30ff90" fill-opacity="0.45" style="mix-blend-mode:screen" filter="url(#c)"/>
<rect x="59.5" y="49.6" width="7.9" height="1.2" fill="#a0a0a0"/>
<text x="63" y="47.0" font-size="3.2" fill="#d0d0d0" text-anchor="middle" font-weight="bold">10µm</text>
</svg>
<svg x="17.60" y="420.00" width="71.2" height="53.6" overflow="hidden">
<rect width="71.2" height="53.6" fill="#000"/>
<g>
<circle cx="10.1" cy="2.2" r="1.28" fill="#0707ff" fill-opacity="0.55" filter="url(#c)"/>
<circle cx="12.7" cy="3.8" r="1.28" fill="#0707ff" fill-opacity="1.00" filter="url(#c)"/>
<circle cx="10.1" cy="5.4" r="1.07" fill="#0707ff" fill-opacity="0.65" filter="url(#c)"/>
<circle cx="35.1" cy="2.2" r="1.28" fill="#0707ff" fill-opacity="1.00" filter="url(#c)"/>
<circle cx="35.6" cy="4.9" r="1.71" fill="#0707ff" fill-opacity="1.00" filter="url(#c)"/>
<circle cx="34.0" cy="7.0" r="1.49" fill="#0707ff" fill-opacity="0.50" filter="url(#c)"/>
<circle cx="54.3" cy="5.4" r="1.71" fill="#0707ff" fill-opacity="0.84" filter="url(#c)"/>
<circle cx="1.5" cy="9.1" r="1.49" fill="#0707ff" fill-opacity="0.50" filter="url(#c)"/>
<circle cx="4.2" cy="9.7" r="1.49" fill="#0707ff" fill-opacity="1.00" filter="url(#c)"/>
<circle cx="2.6" cy="15.0" r="1.49" fill="#0707ff" fill-opacity="1.00" filter="url(#c)"/>
<circle cx="18.6" cy="11.8" r="1.28" fill="#0707ff" fill-opacity="1.00" filter="url(#c)"/>
<circle cx="31.4" cy="10.7" r="1.49" fill="#0707ff" fill-opacity="1.00" filter="url(#c)"/>
<circle cx="34.6" cy="12.9" r="1.60" fill="#0707ff" fill-opacity="0.69" filter="url(#c)"/>
<circle cx="37.8" cy="9.7" r="1.28" fill="#0707ff" fill-opacity="1.00" filter="url(#c)"/>
<circle cx="38.3" cy="14.5" r="1.28" fill="#0707ff" fill-opacity="1.00" filter="url(#c)"/>
<circle cx="44.2" cy="15.0" r="1.28" fill="#0707ff" fill-opacity="1.00" filter="url(#c)"/>
<circle cx="35.6" cy="16.6" r="1.28" fill="#0707ff" fill-opacity="1.00" filter="url(#c)"/>
<circle cx="36.7" cy="19.8" r="1.60" fill="#0707ff" fill-opacity="1.00" filter="url(#c)"/>
<circle cx="38.3" cy="23.0" r="1.71" fill="#0707ff" fill-opacity="1.00" filter="url(#c)"/>
<circle cx="42.0" cy="20.8" r="1.28" fill="#0707ff" fill-opacity="0.84" filter="url(#c)"/>
<circle cx="46.8" cy="18.7" r="1.71" fill="#0707ff" fill-opacity="1.00" filter="url(#c)"/>
<circle cx="45.2" cy="23.5" r="1.28" fill="#0707ff" fill-opacity="1.00" filter="url(#c)"/>
<circle cx="54.8" cy="12.9" r="1.28" fill="#0707ff" fill-opacity="0.74" filter="url(#c)"/>
<circle cx="60.1" cy="12.9" r="1.28" fill="#0707ff" fill-opacity="0.70" filter="url(#c)"/>
<circle cx="63.3" cy="15.5" r="1.28" fill="#0707ff" fill-opacity="1.00" filter="url(#c)"/>
<circle cx="67.6" cy="13.9" r="1.39" fill="#0707ff" fill-opacity="1.00" filter="url(#c)"/>
<circle cx="55.9" cy="16.1" r="1.28" fill="#0707ff" fill-opacity="0.85" filter="url(#c)"/>
<circle cx="15.9" cy="20.8" r="1.28" fill="#0707ff" fill-opacity="1.00" filter="url(#c)"/>
<circle cx="24.4" cy="21.4" r="1.28" fill="#0707ff" fill-opacity="1.00" filter="url(#c)"/>
<circle cx="29.2" cy="21.9" r="1.28" fill="#0707ff" fill-opacity="1.00" filter="url(#c)"/>
<circle cx="21.8" cy="24.6" r="1.71" fill="#0707ff" fill-opacity="1.00" filter="url(#c)"/>
<circle cx="20.7" cy="27.8" r="1.49" fill="#0707ff" fill-opacity="1.00" filter="url(#c)"/>
<circle cx="25.5" cy="23.5" r="1.28" fill="#0707ff" fill-opacity="1.00" filter="url(#c)"/>
<circle cx="12.2" cy="25.6" r="1.28" fill="#0707ff" fill-opacity="1.00" filter="url(#c)"/>
<circle cx="11.7" cy="28.8" r="1.28" fill="#0707ff" fill-opacity="0.73" filter="url(#c)"/>
<circle cx="13.8" cy="30.4" r="1.28" fill="#0707ff" fill-opacity="0.75" filter="url(#c)"/>
<circle cx="6.3" cy="31.0" r="1.28" fill="#0707ff" fill-opacity="0.76" filter="url(#c)"/>
<circle cx="1.0" cy="27.8" r="1.07" fill="#0707ff" fill-opacity="1.00" filter="url(#c)"/>
<circle cx="0.5" cy="32.6" r="1.07" fill="#0707ff" fill-opacity="0.74" filter="url(#c)"/>
<circle cx="25.0" cy="29.9" r="1.71" fill="#0707ff" fill-opacity="1.00" filter="url(#c)"/>
<circle cx="29.8" cy="28.8" r="1.60" fill="#0707ff" fill-opacity="1.00" filter="url(#c)"/>
<circle cx="22.3" cy="31.0" r="1.28" fill="#0707ff" fill-opacity="1.00" filter="url(#c)"/>
<circle cx="24.4" cy="33.6" r="1.28" fill="#0707ff" fill-opacity="1.00" filter="url(#c)"/>
<circle cx="35.6" cy="26.7" r="1.60" fill="#0707ff" fill-opacity="1.00" filter="url(#c)"/>
<circle cx="49.5" cy="26.2" r="1.60" fill="#0707ff" fill-opacity="1.00" filter="url(#c)"/>
<circle cx="53.2" cy="23.5" r="1.71" fill="#0707ff" fill-opacity="1.00" filter="url(#c)"/>
<circle cx="55.9" cy="26.7" r="1.28" fill="#0707ff" fill-opacity="1.00" filter="url(#c)"/>
<circle cx="51.6" cy="29.4" r="1.28" fill="#0707ff" fill-opacity="1.00" filter="url(#c)"/>
<circle cx="68.1" cy="26.7" r="1.28" fill="#0707ff" fill-opacity="0.81" filter="url(#c)"/>
<circle cx="21.8" cy="35.8" r="1.60" fill="#0707ff" fill-opacity="1.00" filter="url(#c)"/>
<circle cx="27.6" cy="35.2" r="1.28" fill="#0707ff" fill-opacity="1.00" filter="url(#c)"/>
<circle cx="36.2" cy="33.6" r="1.71" fill="#0707ff" fill-opacity="0.72" filter="url(#c)"/>
<circle cx="39.9" cy="33.6" r="1.49" fill="#0707ff" fill-opacity="0.81" filter="url(#c)"/>
<circle cx="38.8" cy="37.9" r="1.28" fill="#0707ff" fill-opacity="0.71" filter="url(#c)"/>
<circle cx="41.0" cy="39.0" r="1.28" fill="#0707ff" fill-opacity="1.00" filter="url(#c)"/>
<circle cx="10.1" cy="36.8" r="1.28" fill="#0707ff" fill-opacity="1.00" filter="url(#c)"/>
<circle cx="14.9" cy="37.9" r="1.28" fill="#0707ff" fill-opacity="1.00" filter="url(#c)"/>
<circle cx="5.3" cy="36.3" r="1.07" fill="#0707ff" fill-opacity="0.79" filter="url(#c)"/>
<circle cx="50.6" cy="39.5" r="1.28" fill="#0707ff" fill-opacity="1.00" filter="url(#c)"/>
<circle cx="47.4" cy="42.2" r="1.28" fill="#0707ff" fill-opacity="0.53" filter="url(#c)"/>
<circle cx="51.6" cy="43.2" r="1.49" fill="#0707ff" fill-opacity="1.00" filter="url(#c)"/>
<circle cx="55.9" cy="44.3" r="1.49" fill="#0707ff" fill-opacity="1.00" filter="url(#c)"/>
<circle cx="59.1" cy="43.2" r="1.60" fill="#0707ff" fill-opacity="1.00" filter="url(#c)"/>
<circle cx="61.2" cy="43.8" r="1.28" fill="#0707ff" fill-opacity="0.57" filter="url(#c)"/>
<circle cx="57.5" cy="45.9" r="1.49" fill="#0707ff" fill-opacity="1.00" filter="url(#c)"/>
<circle cx="64.9" cy="37.4" r="1.28" fill="#0707ff" fill-opacity="1.00" filter="url(#c)"/>
<circle cx="68.7" cy="40.0" r="1.28" fill="#0707ff" fill-opacity="1.00" filter="url(#c)"/>
<circle cx="11.1" cy="44.3" r="1.28" fill="#0707ff" fill-opacity="0.50" filter="url(#c)"/>
<circle cx="7.4" cy="46.4" r="1.28" fill="#0707ff" fill-opacity="0.64" filter="url(#c)"/>
<circle cx="19.6" cy="44.3" r="1.71" fill="#0707ff" fill-opacity="0.67" filter="url(#c)"/>
<circle cx="25.0" cy="42.7" r="1.28" fill="#0707ff" fill-opacity="1.00" filter="url(#c)"/>
<circle cx="27.6" cy="43.2" r="1.28" fill="#0707ff" fill-opacity="0.76" filter="url(#c)"/>
<circle cx="32.4" cy="43.2" r="1.28" fill="#0707ff" fill-opacity="1.00" filter="url(#c)"/>
<circle cx="45.8" cy="46.4" r="1.28" fill="#0707ff" fill-opacity="1.00" filter="url(#c)"/>
<circle cx="18.0" cy="50.7" r="1.28" fill="#0707ff" fill-opacity="0.54" filter="url(#c)"/>
<circle cx="35.6" cy="51.8" r="1.28" fill="#0707ff" fill-opacity="1.00" filter="url(#c)"/>
<circle cx="38.3" cy="51.8" r="1.28" fill="#0707ff" fill-opacity="1.00" filter="url(#c)"/>
<circle cx="62.3" cy="51.2" r="1.07" fill="#0707ff" fill-opacity="1.00" filter="url(#c)"/>
</g>
<rect x="52.9" y="50.3" width="16.2" height="0.9" fill="#d8d8d8"/>
<text x="61.3" y="48.9" font-size="3.2" fill="#c8c8c8" text-anchor="middle" font-weight="bold">50µm</text>
</svg>
<svg x="90.30" y="420.00" width="71.2" height="53.6" overflow="hidden">
<rect width="71.2" height="53.6" fill="#000"/>
<g>
<circle cx="1.8" cy="8.6" r="2.40" fill="#18c818" fill-opacity="0.72" filter="url(#g2)"/>
<circle cx="4.0" cy="10.2" r="1.86" fill="#18c818" fill-opacity="0.64" filter="url(#g2)"/>
<circle cx="34.9" cy="4.9" r="2.40" fill="#18c818" fill-opacity="0.72" filter="url(#g2)"/>
<circle cx="33.8" cy="12.9" r="2.00" fill="#18c818" fill-opacity="0.64" filter="url(#g2)"/>
<circle cx="67.4" cy="13.9" r="2.13" fill="#18c818" fill-opacity="0.80" filter="url(#g2)"/>
<circle cx="55.1" cy="4.9" r="1.07" fill="#18c818" fill-opacity="0.24" filter="url(#g2)"/>
<circle cx="12.5" cy="3.3" r="1.33" fill="#18c818" fill-opacity="0.20" filter="url(#g2)"/>
<circle cx="36.5" cy="19.2" r="2.13" fill="#18c818" fill-opacity="0.64" filter="url(#g2)"/>
<circle cx="38.1" cy="22.4" r="1.86" fill="#18c818" fill-opacity="0.56" filter="url(#g2)"/>
<circle cx="46.6" cy="18.2" r="1.60" fill="#18c818" fill-opacity="0.40" filter="url(#g2)"/>
<circle cx="49.8" cy="25.6" r="2.13" fill="#18c818" fill-opacity="0.64" filter="url(#g2)"/>
<circle cx="53.0" cy="23.0" r="1.60" fill="#18c818" fill-opacity="0.48" filter="url(#g2)"/>
<circle cx="21.0" cy="24.6" r="2.00" fill="#18c818" fill-opacity="0.64" filter="url(#g2)"/>
<circle cx="29.0" cy="28.8" r="2.26" fill="#18c818" fill-opacity="0.72" filter="url(#g2)"/>
<circle cx="6.6" cy="30.4" r="1.86" fill="#18c818" fill-opacity="0.56" filter="url(#g2)"/>
<circle cx="0.8" cy="32.6" r="1.33" fill="#18c818" fill-opacity="0.40" filter="url(#g2)"/>
<circle cx="25.3" cy="21.4" r="1.60" fill="#18c818" fill-opacity="0.24" filter="url(#g2)"/>
<circle cx="19.9" cy="29.9" r="1.33" fill="#18c818" fill-opacity="0.24" filter="url(#g2)"/>
<circle cx="22.1" cy="35.8" r="2.13" fill="#18c818" fill-opacity="0.64" filter="url(#g2)"/>
<circle cx="38.1" cy="33.6" r="2.13" fill="#18c818" fill-opacity="0.40" filter="url(#g2)"/>
<circle cx="6.1" cy="36.8" r="1.60" fill="#18c818" fill-opacity="0.28" filter="url(#g2)"/>
<circle cx="10.4" cy="37.4" r="1.33" fill="#18c818" fill-opacity="0.24" filter="url(#g2)"/>
<circle cx="19.4" cy="43.8" r="2.00" fill="#18c818" fill-opacity="0.56" filter="url(#g2)"/>
<circle cx="25.3" cy="43.8" r="1.33" fill="#18c818" fill-opacity="0.20" filter="url(#g2)"/>
<circle cx="64.2" cy="37.4" r="1.07" fill="#18c818" fill-opacity="0.32" filter="url(#g2)"/>
<circle cx="59.4" cy="43.8" r="2.13" fill="#18c818" fill-opacity="0.56" filter="url(#g2)"/>
<circle cx="57.2" cy="45.9" r="1.60" fill="#18c818" fill-opacity="0.40" filter="url(#g2)"/>
<circle cx="15.7" cy="20.3" r="1.07" fill="#18c818" fill-opacity="0.16" filter="url(#g2)"/>
</g>
<rect x="52.9" y="50.3" width="16.2" height="0.9" fill="#d8d8d8"/>
<text x="61.3" y="48.9" font-size="3.2" fill="#c8c8c8" text-anchor="middle" font-weight="bold">50µm</text>
</svg>
<svg x="162.90" y="420.00" width="71.2" height="53.6" overflow="hidden">
<rect width="71.2" height="53.6" fill="#000"/>
<g>
<circle cx="10.1" cy="2.2" r="1.28" fill="#0707ff" fill-opacity="0.55" filter="url(#c)"/>
<circle cx="12.7" cy="3.8" r="1.28" fill="#0707ff" fill-opacity="1.00" filter="url(#c)"/>
<circle cx="10.1" cy="5.4" r="1.07" fill="#0707ff" fill-opacity="0.65" filter="url(#c)"/>
<circle cx="35.1" cy="2.2" r="1.28" fill="#0707ff" fill-opacity="1.00" filter="url(#c)"/>
<circle cx="35.6" cy="4.9" r="1.71" fill="#0707ff" fill-opacity="1.00" filter="url(#c)"/>
<circle cx="34.0" cy="7.0" r="1.49" fill="#0707ff" fill-opacity="0.50" filter="url(#c)"/>
<circle cx="54.3" cy="5.4" r="1.71" fill="#0707ff" fill-opacity="0.84" filter="url(#c)"/>
<circle cx="1.5" cy="9.1" r="1.49" fill="#0707ff" fill-opacity="0.50" filter="url(#c)"/>
<circle cx="4.2" cy="9.7" r="1.49" fill="#0707ff" fill-opacity="1.00" filter="url(#c)"/>
<circle cx="2.6" cy="15.0" r="1.49" fill="#0707ff" fill-opacity="1.00" filter="url(#c)"/>
<circle cx="18.6" cy="11.8" r="1.28" fill="#0707ff" fill-opacity="1.00" filter="url(#c)"/>
<circle cx="31.4" cy="10.7" r="1.49" fill="#0707ff" fill-opacity="1.00" filter="url(#c)"/>
<circle cx="34.6" cy="12.9" r="1.60" fill="#0707ff" fill-opacity="0.69" filter="url(#c)"/>
<circle cx="37.8" cy="9.7" r="1.28" fill="#0707ff" fill-opacity="1.00" filter="url(#c)"/>
<circle cx="38.3" cy="14.5" r="1.28" fill="#0707ff" fill-opacity="1.00" filter="url(#c)"/>
<circle cx="44.2" cy="15.0" r="1.28" fill="#0707ff" fill-opacity="1.00" filter="url(#c)"/>
<circle cx="35.6" cy="16.6" r="1.28" fill="#0707ff" fill-opacity="1.00" filter="url(#c)"/>
<circle cx="36.7" cy="19.8" r="1.60" fill="#0707ff" fill-opacity="1.00" filter="url(#c)"/>
<circle cx="38.3" cy="23.0" r="1.71" fill="#0707ff" fill-opacity="1.00" filter="url(#c)"/>
<circle cx="42.0" cy="20.8" r="1.28" fill="#0707ff" fill-opacity="0.84" filter="url(#c)"/>
<circle cx="46.8" cy="18.7" r="1.71" fill="#0707ff" fill-opacity="1.00" filter="url(#c)"/>
<circle cx="45.2" cy="23.5" r="1.28" fill="#0707ff" fill-opacity="1.00" filter="url(#c)"/>
<circle cx="54.8" cy="12.9" r="1.28" fill="#0707ff" fill-opacity="0.74" filter="url(#c)"/>
<circle cx="60.1" cy="12.9" r="1.28" fill="#0707ff" fill-opacity="0.70" filter="url(#c)"/>
<circle cx="63.3" cy="15.5" r="1.28" fill="#0707ff" fill-opacity="1.00" filter="url(#c)"/>
<circle cx="67.6" cy="13.9" r="1.39" fill="#0707ff" fill-opacity="1.00" filter="url(#c)"/>
<circle cx="55.9" cy="16.1" r="1.28" fill="#0707ff" fill-opacity="0.85" filter="url(#c)"/>
<circle cx="15.9" cy="20.8" r="1.28" fill="#0707ff" fill-opacity="1.00" filter="url(#c)"/>
<circle cx="24.4" cy="21.4" r="1.28" fill="#0707ff" fill-opacity="1.00" filter="url(#c)"/>
<circle cx="29.2" cy="21.9" r="1.28" fill="#0707ff" fill-opacity="1.00" filter="url(#c)"/>
<circle cx="21.8" cy="24.6" r="1.71" fill="#0707ff" fill-opacity="1.00" filter="url(#c)"/>
<circle cx="20.7" cy="27.8" r="1.49" fill="#0707ff" fill-opacity="1.00" filter="url(#c)"/>
<circle cx="25.5" cy="23.5" r="1.28" fill="#0707ff" fill-opacity="1.00" filter="url(#c)"/>
<circle cx="12.2" cy="25.6" r="1.28" fill="#0707ff" fill-opacity="1.00" filter="url(#c)"/>
<circle cx="11.7" cy="28.8" r="1.28" fill="#0707ff" fill-opacity="0.73" filter="url(#c)"/>
<circle cx="13.8" cy="30.4" r="1.28" fill="#0707ff" fill-opacity="0.75" filter="url(#c)"/>
<circle cx="6.3" cy="31.0" r="1.28" fill="#0707ff" fill-opacity="0.76" filter="url(#c)"/>
<circle cx="1.0" cy="27.8" r="1.07" fill="#0707ff" fill-opacity="1.00" filter="url(#c)"/>
<circle cx="0.5" cy="32.6" r="1.07" fill="#0707ff" fill-opacity="0.74" filter="url(#c)"/>
<circle cx="25.0" cy="29.9" r="1.71" fill="#0707ff" fill-opacity="1.00" filter="url(#c)"/>
<circle cx="29.8" cy="28.8" r="1.60" fill="#0707ff" fill-opacity="1.00" filter="url(#c)"/>
<circle cx="22.3" cy="31.0" r="1.28" fill="#0707ff" fill-opacity="1.00" filter="url(#c)"/>
<circle cx="24.4" cy="33.6" r="1.28" fill="#0707ff" fill-opacity="1.00" filter="url(#c)"/>
<circle cx="35.6" cy="26.7" r="1.60" fill="#0707ff" fill-opacity="1.00" filter="url(#c)"/>
<circle cx="49.5" cy="26.2" r="1.60" fill="#0707ff" fill-opacity="1.00" filter="url(#c)"/>
<circle cx="53.2" cy="23.5" r="1.71" fill="#0707ff" fill-opacity="1.00" filter="url(#c)"/>
<circle cx="55.9" cy="26.7" r="1.28" fill="#0707ff" fill-opacity="1.00" filter="url(#c)"/>
<circle cx="51.6" cy="29.4" r="1.28" fill="#0707ff" fill-opacity="1.00" filter="url(#c)"/>
<circle cx="68.1" cy="26.7" r="1.28" fill="#0707ff" fill-opacity="0.81" filter="url(#c)"/>
<circle cx="21.8" cy="35.8" r="1.60" fill="#0707ff" fill-opacity="1.00" filter="url(#c)"/>
<circle cx="27.6" cy="35.2" r="1.28" fill="#0707ff" fill-opacity="1.00" filter="url(#c)"/>
<circle cx="36.2" cy="33.6" r="1.71" fill="#0707ff" fill-opacity="0.72" filter="url(#c)"/>
<circle cx="39.9" cy="33.6" r="1.49" fill="#0707ff" fill-opacity="0.81" filter="url(#c)"/>
<circle cx="38.8" cy="37.9" r="1.28" fill="#0707ff" fill-opacity="0.71" filter="url(#c)"/>
<circle cx="41.0" cy="39.0" r="1.28" fill="#0707ff" fill-opacity="1.00" filter="url(#c)"/>
<circle cx="10.1" cy="36.8" r="1.28" fill="#0707ff" fill-opacity="1.00" filter="url(#c)"/>
<circle cx="14.9" cy="37.9" r="1.28" fill="#0707ff" fill-opacity="1.00" filter="url(#c)"/>
<circle cx="5.3" cy="36.3" r="1.07" fill="#0707ff" fill-opacity="0.79" filter="url(#c)"/>
<circle cx="50.6" cy="39.5" r="1.28" fill="#0707ff" fill-opacity="1.00" filter="url(#c)"/>
<circle cx="47.4" cy="42.2" r="1.28" fill="#0707ff" fill-opacity="0.53" filter="url(#c)"/>
<circle cx="51.6" cy="43.2" r="1.49" fill="#0707ff" fill-opacity="1.00" filter="url(#c)"/>
<circle cx="55.9" cy="44.3" r="1.49" fill="#0707ff" fill-opacity="1.00" filter="url(#c)"/>
<circle cx="59.1" cy="43.2" r="1.60" fill="#0707ff" fill-opacity="1.00" filter="url(#c)"/>
<circle cx="61.2" cy="43.8" r="1.28" fill="#0707ff" fill-opacity="0.57" filter="url(#c)"/>
<circle cx="57.5" cy="45.9" r="1.49" fill="#0707ff" fill-opacity="1.00" filter="url(#c)"/>
<circle cx="64.9" cy="37.4" r="1.28" fill="#0707ff" fill-opacity="1.00" filter="url(#c)"/>
<circle cx="68.7" cy="40.0" r="1.28" fill="#0707ff" fill-opacity="1.00" filter="url(#c)"/>
<circle cx="11.1" cy="44.3" r="1.28" fill="#0707ff" fill-opacity="0.50" filter="url(#c)"/>
<circle cx="7.4" cy="46.4" r="1.28" fill="#0707ff" fill-opacity="0.64" filter="url(#c)"/>
<circle cx="19.6" cy="44.3" r="1.71" fill="#0707ff" fill-opacity="0.67" filter="url(#c)"/>
<circle cx="25.0" cy="42.7" r="1.28" fill="#0707ff" fill-opacity="1.00" filter="url(#c)"/>
<circle cx="27.6" cy="43.2" r="1.28" fill="#0707ff" fill-opacity="0.76" filter="url(#c)"/>
<circle cx="32.4" cy="43.2" r="1.28" fill="#0707ff" fill-opacity="1.00" filter="url(#c)"/>
<circle cx="45.8" cy="46.4" r="1.28" fill="#0707ff" fill-opacity="1.00" filter="url(#c)"/>
<circle cx="18.0" cy="50.7" r="1.28" fill="#0707ff" fill-opacity="0.54" filter="url(#c)"/>
<circle cx="35.6" cy="51.8" r="1.28" fill="#0707ff" fill-opacity="1.00" filter="url(#c)"/>
<circle cx="38.3" cy="51.8" r="1.28" fill="#0707ff" fill-opacity="1.00" filter="url(#c)"/>
<circle cx="62.3" cy="51.2" r="1.07" fill="#0707ff" fill-opacity="1.00" filter="url(#c)"/>
</g>
<g style="mix-blend-mode:screen">
<circle cx="1.8" cy="8.6" r="1.92" fill="#00e0a0" fill-opacity="0.68" filter="url(#c)"/>
<circle cx="4.0" cy="10.2" r="1.49" fill="#00e0a0" fill-opacity="0.56" filter="url(#c)"/>
<circle cx="34.9" cy="4.9" r="1.92" fill="#00e0a0" fill-opacity="0.68" filter="url(#c)"/>
<circle cx="33.8" cy="12.9" r="1.60" fill="#00e0a0" fill-opacity="0.56" filter="url(#c)"/>
<circle cx="67.4" cy="13.9" r="1.71" fill="#00e0a0" fill-opacity="0.80" filter="url(#c)"/>
<circle cx="55.1" cy="4.9" r="0.85" fill="#00e0a0" fill-opacity="0.12" filter="url(#c)"/>
<circle cx="12.5" cy="3.3" r="1.07" fill="#00e0a0" fill-opacity="0.09" filter="url(#c)"/>
<circle cx="36.5" cy="19.2" r="1.71" fill="#00e0a0" fill-opacity="0.56" filter="url(#c)"/>
<circle cx="38.1" cy="22.4" r="1.49" fill="#00e0a0" fill-opacity="0.45" filter="url(#c)"/>
<circle cx="46.6" cy="18.2" r="1.28" fill="#00e0a0" fill-opacity="0.26" filter="url(#c)"/>
<circle cx="49.8" cy="25.6" r="1.71" fill="#00e0a0" fill-opacity="0.56" filter="url(#c)"/>
<circle cx="53.0" cy="23.0" r="1.28" fill="#00e0a0" fill-opacity="0.35" filter="url(#c)"/>
<circle cx="21.0" cy="24.6" r="1.60" fill="#00e0a0" fill-opacity="0.56" filter="url(#c)"/>
<circle cx="29.0" cy="28.8" r="1.81" fill="#00e0a0" fill-opacity="0.68" filter="url(#c)"/>
<circle cx="6.6" cy="30.4" r="1.49" fill="#00e0a0" fill-opacity="0.45" filter="url(#c)"/>
<circle cx="0.8" cy="32.6" r="1.07" fill="#00e0a0" fill-opacity="0.26" filter="url(#c)"/>
<circle cx="25.3" cy="21.4" r="1.28" fill="#00e0a0" fill-opacity="0.12" filter="url(#c)"/>
<circle cx="19.9" cy="29.9" r="1.07" fill="#00e0a0" fill-opacity="0.12" filter="url(#c)"/>
<circle cx="22.1" cy="35.8" r="1.71" fill="#00e0a0" fill-opacity="0.56" filter="url(#c)"/>
<circle cx="38.1" cy="33.6" r="1.71" fill="#00e0a0" fill-opacity="0.26" filter="url(#c)"/>
<circle cx="6.1" cy="36.8" r="1.28" fill="#00e0a0" fill-opacity="0.15" filter="url(#c)"/>
<circle cx="10.4" cy="37.4" r="1.07" fill="#00e0a0" fill-opacity="0.12" filter="url(#c)"/>
<circle cx="19.4" cy="43.8" r="1.60" fill="#00e0a0" fill-opacity="0.45" filter="url(#c)"/>
<circle cx="25.3" cy="43.8" r="1.07" fill="#00e0a0" fill-opacity="0.09" filter="url(#c)"/>
<circle cx="64.2" cy="37.4" r="0.85" fill="#00e0a0" fill-opacity="0.18" filter="url(#c)"/>
<circle cx="59.4" cy="43.8" r="1.71" fill="#00e0a0" fill-opacity="0.45" filter="url(#c)"/>
<circle cx="57.2" cy="45.9" r="1.28" fill="#00e0a0" fill-opacity="0.26" filter="url(#c)"/>
<circle cx="15.7" cy="20.3" r="0.85" fill="#00e0a0" fill-opacity="0.06" filter="url(#c)"/>
</g>
</svg>
<svg x="235.40" y="420.00" width="71.2" height="53.6" overflow="hidden">
<rect width="71.2" height="53.6" fill="#000"/>
<ellipse cx="12.4" cy="10.2" rx="3.61" ry="4.29" fill="url(#zg)" fill-opacity="0.75" filter="url(#z)"/>
<ellipse cx="16.1" cy="15.5" rx="3.39" ry="3.95" fill="url(#zg)" fill-opacity="0.75" filter="url(#z)"/>
<ellipse cx="25.2" cy="12.9" rx="3.61" ry="3.95" fill="url(#zg)" fill-opacity="0.75" filter="url(#z)"/>
<ellipse cx="42.8" cy="7.0" rx="3.61" ry="5.42" fill="url(#zg)" fill-opacity="0.90" filter="url(#z)"/>
<ellipse cx="46.0" cy="14.5" rx="4.52" ry="4.29" fill="url(#zg)" fill-opacity="0.90" filter="url(#z)"/>
<ellipse cx="39.6" cy="1.7" rx="3.39" ry="1.69" fill="url(#zg)" fill-opacity="0.60" filter="url(#z)"/>
<ellipse cx="54.0" cy="9.7" rx="3.39" ry="4.29" fill="url(#zg)" fill-opacity="0.75" filter="url(#z)"/>
<ellipse cx="65.7" cy="4.9" rx="4.52" ry="4.29" fill="url(#zg)" fill-opacity="1.00" filter="url(#z)"/>
<ellipse cx="60.9" cy="17.1" rx="2.82" ry="5.08" fill="url(#zg)" fill-opacity="0.70" filter="url(#z)"/>
<ellipse cx="69.9" cy="23.0" rx="1.36" ry="3.39" fill="url(#zg)" fill-opacity="0.80" filter="url(#z)"/>
<ellipse cx="6.5" cy="19.2" rx="4.52" ry="4.74" fill="url(#zg)" fill-opacity="0.90" filter="url(#z)"/>
<ellipse cx="4.4" cy="26.2" rx="3.95" ry="3.95" fill="url(#zg)" fill-opacity="0.70" filter="url(#z)"/>
<ellipse cx="3.9" cy="34.7" rx="3.39" ry="4.29" fill="url(#zg)" fill-opacity="0.70" filter="url(#z)"/>
<ellipse cx="14.5" cy="31.5" rx="5.08" ry="5.08" fill="url(#zg)" fill-opacity="0.80" filter="url(#z)"/>
<ellipse cx="25.2" cy="28.8" rx="3.95" ry="4.52" fill="url(#zg)" fill-opacity="0.90" filter="url(#z)"/>
<ellipse cx="39.0" cy="24.6" rx="4.52" ry="5.08" fill="url(#zg)" fill-opacity="0.90" filter="url(#z)"/>
<ellipse cx="41.2" cy="41.6" rx="4.74" ry="4.52" fill="url(#zg)" fill-opacity="0.85" filter="url(#z)"/>
<ellipse cx="50.8" cy="41.6" rx="4.74" ry="5.08" fill="url(#zg)" fill-opacity="0.85" filter="url(#z)"/>
<ellipse cx="13.5" cy="42.7" rx="3.61" ry="3.61" fill="url(#zg)" fill-opacity="0.70" filter="url(#z)"/>
<ellipse cx="20.9" cy="45.9" rx="3.61" ry="3.95" fill="url(#zg)" fill-opacity="0.75" filter="url(#z)"/>
<ellipse cx="7.6" cy="47.5" rx="4.29" ry="4.29" fill="url(#zg)" fill-opacity="0.90" filter="url(#z)"/>
<ellipse cx="45.4" cy="51.2" rx="3.95" ry="2.82" fill="url(#zg)" fill-opacity="0.70" filter="url(#z)"/>
<ellipse cx="52.9" cy="51.8" rx="2.82" ry="2.26" fill="url(#zg)" fill-opacity="0.70" filter="url(#z)"/>
<circle cx="45.1" cy="7.4" r="0.93" fill="#30ff90" fill-opacity="0.48" style="mix-blend-mode:screen" filter="url(#c)"/>
<circle cx="41.3" cy="9.3" r="0.58" fill="#30ff90" fill-opacity="0.63" style="mix-blend-mode:screen" filter="url(#c)"/>
<circle cx="42.7" cy="9.4" r="0.71" fill="#30ff90" fill-opacity="1.00" style="mix-blend-mode:screen" filter="url(#c)"/>
<circle cx="42.4" cy="5.5" r="0.61" fill="#30ff90" fill-opacity="0.77" style="mix-blend-mode:screen" filter="url(#c)"/>
<circle cx="41.2" cy="7.1" r="0.97" fill="#30ff90" fill-opacity="0.55" style="mix-blend-mode:screen" filter="url(#c)"/>
<circle cx="43.8" cy="3.7" r="1.06" fill="#30ff90" fill-opacity="0.84" style="mix-blend-mode:screen" filter="url(#c)"/>
<circle cx="44.6" cy="6.1" r="0.84" fill="#30ff90" fill-opacity="0.55" style="mix-blend-mode:screen" filter="url(#c)"/>
<circle cx="43.0" cy="6.1" r="0.60" fill="#30ff90" fill-opacity="0.98" style="mix-blend-mode:screen" filter="url(#c)"/>
<circle cx="42.8" cy="7.1" r="1.00" fill="#30ff90" fill-opacity="1.00" style="mix-blend-mode:screen" filter="url(#c)"/>
<circle cx="45.3" cy="6.3" r="0.56" fill="#30ff90" fill-opacity="0.78" style="mix-blend-mode:screen" filter="url(#c)"/>
<circle cx="42.6" cy="6.9" r="0.93" fill="#30ff90" fill-opacity="0.76" style="mix-blend-mode:screen" filter="url(#c)"/>
<circle cx="42.8" cy="7.8" r="0.59" fill="#30ff90" fill-opacity="0.52" style="mix-blend-mode:screen" filter="url(#c)"/>
<circle cx="42.9" cy="7.5" r="0.54" fill="#30ff90" fill-opacity="0.86" style="mix-blend-mode:screen" filter="url(#c)"/>
<circle cx="43.0" cy="7.0" r="0.72" fill="#30ff90" fill-opacity="0.72" style="mix-blend-mode:screen" filter="url(#c)"/>
<circle cx="47.0" cy="16.4" r="0.77" fill="#30ff90" fill-opacity="0.37" style="mix-blend-mode:screen" filter="url(#c)"/>
<circle cx="46.8" cy="15.1" r="0.60" fill="#30ff90" fill-opacity="0.59" style="mix-blend-mode:screen" filter="url(#c)"/>
<circle cx="48.1" cy="13.7" r="0.53" fill="#30ff90" fill-opacity="0.47" style="mix-blend-mode:screen" filter="url(#c)"/>
<circle cx="44.5" cy="13.7" r="0.66" fill="#30ff90" fill-opacity="0.55" style="mix-blend-mode:screen" filter="url(#c)"/>
<circle cx="45.8" cy="13.2" r="0.51" fill="#30ff90" fill-opacity="0.74" style="mix-blend-mode:screen" filter="url(#c)"/>
<circle cx="44.9" cy="15.0" r="0.55" fill="#30ff90" fill-opacity="0.49" style="mix-blend-mode:screen" filter="url(#c)"/>
<circle cx="48.4" cy="15.3" r="0.66" fill="#30ff90" fill-opacity="0.44" style="mix-blend-mode:screen" filter="url(#c)"/>
<circle cx="43.5" cy="16.3" r="0.61" fill="#30ff90" fill-opacity="0.62" style="mix-blend-mode:screen" filter="url(#c)"/>
<circle cx="46.1" cy="14.8" r="0.51" fill="#30ff90" fill-opacity="0.75" style="mix-blend-mode:screen" filter="url(#c)"/>
<circle cx="43.5" cy="14.5" r="0.89" fill="#30ff90" fill-opacity="0.54" style="mix-blend-mode:screen" filter="url(#c)"/>
<circle cx="45.7" cy="14.8" r="0.60" fill="#30ff90" fill-opacity="0.66" style="mix-blend-mode:screen" filter="url(#c)"/>
<circle cx="47.9" cy="12.9" r="0.78" fill="#30ff90" fill-opacity="0.77" style="mix-blend-mode:screen" filter="url(#c)"/>
<circle cx="69.8" cy="23.3" r="0.95" fill="#30ff90" fill-opacity="0.31" style="mix-blend-mode:screen" filter="url(#c)"/>
<circle cx="70.8" cy="23.1" r="0.83" fill="#30ff90" fill-opacity="0.49" style="mix-blend-mode:screen" filter="url(#c)"/>
<circle cx="70.4" cy="24.8" r="0.67" fill="#30ff90" fill-opacity="0.32" style="mix-blend-mode:screen" filter="url(#c)"/>
<circle cx="69.0" cy="22.6" r="1.08" fill="#30ff90" fill-opacity="0.31" style="mix-blend-mode:screen" filter="url(#c)"/>
<circle cx="70.4" cy="23.1" r="0.85" fill="#30ff90" fill-opacity="0.51" style="mix-blend-mode:screen" filter="url(#c)"/>
<circle cx="70.1" cy="23.4" r="1.06" fill="#30ff90" fill-opacity="0.46" style="mix-blend-mode:screen" filter="url(#c)"/>
<circle cx="70.4" cy="23.4" r="0.93" fill="#30ff90" fill-opacity="0.40" style="mix-blend-mode:screen" filter="url(#c)"/>
<circle cx="69.9" cy="23.0" r="0.80" fill="#30ff90" fill-opacity="0.29" style="mix-blend-mode:screen" filter="url(#c)"/>
<circle cx="69.7" cy="23.1" r="1.08" fill="#30ff90" fill-opacity="0.29" style="mix-blend-mode:screen" filter="url(#c)"/>
<circle cx="70.7" cy="22.6" r="1.09" fill="#30ff90" fill-opacity="0.25" style="mix-blend-mode:screen" filter="url(#c)"/>
<circle cx="6.7" cy="19.7" r="0.97" fill="#30ff90" fill-opacity="0.56" style="mix-blend-mode:screen" filter="url(#c)"/>
<circle cx="4.1" cy="19.6" r="0.96" fill="#30ff90" fill-opacity="0.55" style="mix-blend-mode:screen" filter="url(#c)"/>
<circle cx="7.5" cy="18.8" r="0.69" fill="#30ff90" fill-opacity="0.47" style="mix-blend-mode:screen" filter="url(#c)"/>
<circle cx="6.4" cy="19.2" r="0.90" fill="#30ff90" fill-opacity="0.51" style="mix-blend-mode:screen" filter="url(#c)"/>
<circle cx="6.3" cy="16.8" r="0.91" fill="#30ff90" fill-opacity="0.77" style="mix-blend-mode:screen" filter="url(#c)"/>
<circle cx="4.0" cy="19.7" r="0.57" fill="#30ff90" fill-opacity="0.64" style="mix-blend-mode:screen" filter="url(#c)"/>
<circle cx="6.5" cy="19.4" r="0.87" fill="#30ff90" fill-opacity="0.85" style="mix-blend-mode:screen" filter="url(#c)"/>
<circle cx="8.4" cy="18.5" r="0.66" fill="#30ff90" fill-opacity="0.44" style="mix-blend-mode:screen" filter="url(#c)"/>
<circle cx="6.6" cy="19.3" r="0.82" fill="#30ff90" fill-opacity="0.86" style="mix-blend-mode:screen" filter="url(#c)"/>
<circle cx="6.5" cy="19.2" r="0.55" fill="#30ff90" fill-opacity="0.59" style="mix-blend-mode:screen" filter="url(#c)"/>
<circle cx="6.6" cy="19.3" r="0.94" fill="#30ff90" fill-opacity="0.88" style="mix-blend-mode:screen" filter="url(#c)"/>
<circle cx="5.6" cy="18.7" r="0.63" fill="#30ff90" fill-opacity="0.68" style="mix-blend-mode:screen" filter="url(#c)"/>
<circle cx="8.6" cy="17.9" r="0.59" fill="#30ff90" fill-opacity="0.77" style="mix-blend-mode:screen" filter="url(#c)"/>
<circle cx="25.0" cy="30.0" r="0.70" fill="#30ff90" fill-opacity="1.00" style="mix-blend-mode:screen" filter="url(#c)"/>
<circle cx="23.8" cy="29.9" r="0.75" fill="#30ff90" fill-opacity="0.72" style="mix-blend-mode:screen" filter="url(#c)"/>
<circle cx="25.3" cy="26.6" r="0.86" fill="#30ff90" fill-opacity="0.88" style="mix-blend-mode:screen" filter="url(#c)"/>
<circle cx="25.1" cy="29.4" r="1.08" fill="#30ff90" fill-opacity="0.95" style="mix-blend-mode:screen" filter="url(#c)"/>
<circle cx="27.1" cy="30.6" r="0.92" fill="#30ff90" fill-opacity="0.69" style="mix-blend-mode:screen" filter="url(#c)"/>
<circle cx="26.1" cy="29.3" r="0.52" fill="#30ff90" fill-opacity="1.00" style="mix-blend-mode:screen" filter="url(#c)"/>
<circle cx="25.1" cy="29.0" r="0.74" fill="#30ff90" fill-opacity="1.00" style="mix-blend-mode:screen" filter="url(#c)"/>
<circle cx="24.0" cy="30.2" r="1.08" fill="#30ff90" fill-opacity="0.55" style="mix-blend-mode:screen" filter="url(#c)"/>
<circle cx="25.8" cy="26.8" r="0.94" fill="#30ff90" fill-opacity="0.64" style="mix-blend-mode:screen" filter="url(#c)"/>
<circle cx="25.8" cy="30.6" r="0.85" fill="#30ff90" fill-opacity="1.00" style="mix-blend-mode:screen" filter="url(#c)"/>
<circle cx="26.1" cy="31.7" r="0.96" fill="#30ff90" fill-opacity="0.97" style="mix-blend-mode:screen" filter="url(#c)"/>
<circle cx="27.1" cy="29.3" r="0.83" fill="#30ff90" fill-opacity="0.76" style="mix-blend-mode:screen" filter="url(#c)"/>
<circle cx="24.9" cy="27.5" r="0.74" fill="#30ff90" fill-opacity="1.00" style="mix-blend-mode:screen" filter="url(#c)"/>
<circle cx="25.4" cy="29.7" r="0.72" fill="#30ff90" fill-opacity="0.80" style="mix-blend-mode:screen" filter="url(#c)"/>
<circle cx="52.3" cy="42.7" r="0.63" fill="#30ff90" fill-opacity="0.31" style="mix-blend-mode:screen" filter="url(#c)"/>
<circle cx="49.7" cy="40.8" r="0.66" fill="#30ff90" fill-opacity="0.32" style="mix-blend-mode:screen" filter="url(#c)"/>
<circle cx="48.5" cy="41.0" r="1.03" fill="#30ff90" fill-opacity="0.37" style="mix-blend-mode:screen" filter="url(#c)"/>
<circle cx="50.7" cy="41.6" r="0.70" fill="#30ff90" fill-opacity="0.45" style="mix-blend-mode:screen" filter="url(#c)"/>
<circle cx="48.6" cy="43.2" r="0.61" fill="#30ff90" fill-opacity="0.42" style="mix-blend-mode:screen" filter="url(#c)"/>
<circle cx="48.3" cy="42.0" r="0.78" fill="#30ff90" fill-opacity="0.50" style="mix-blend-mode:screen" filter="url(#c)"/>
<circle cx="50.6" cy="42.0" r="0.71" fill="#30ff90" fill-opacity="0.53" style="mix-blend-mode:screen" filter="url(#c)"/>
<circle cx="49.5" cy="40.4" r="0.66" fill="#30ff90" fill-opacity="0.36" style="mix-blend-mode:screen" filter="url(#c)"/>
<circle cx="49.7" cy="43.5" r="0.93" fill="#30ff90" fill-opacity="0.31" style="mix-blend-mode:screen" filter="url(#c)"/>
<circle cx="47.7" cy="40.7" r="0.51" fill="#30ff90" fill-opacity="0.47" style="mix-blend-mode:screen" filter="url(#c)"/>
<circle cx="4.9" cy="48.8" r="0.60" fill="#30ff90" fill-opacity="0.56" style="mix-blend-mode:screen" filter="url(#c)"/>
<circle cx="7.3" cy="48.7" r="0.95" fill="#30ff90" fill-opacity="0.63" style="mix-blend-mode:screen" filter="url(#c)"/>
<circle cx="8.1" cy="47.6" r="0.93" fill="#30ff90" fill-opacity="0.88" style="mix-blend-mode:screen" filter="url(#c)"/>
<circle cx="7.8" cy="47.8" r="0.83" fill="#30ff90" fill-opacity="0.53" style="mix-blend-mode:screen" filter="url(#c)"/>
<circle cx="9.8" cy="48.9" r="1.09" fill="#30ff90" fill-opacity="0.55" style="mix-blend-mode:screen" filter="url(#c)"/>
<circle cx="5.3" cy="47.0" r="0.70" fill="#30ff90" fill-opacity="0.74" style="mix-blend-mode:screen" filter="url(#c)"/>
<circle cx="8.7" cy="48.4" r="0.70" fill="#30ff90" fill-opacity="0.46" style="mix-blend-mode:screen" filter="url(#c)"/>
<circle cx="7.2" cy="48.1" r="0.92" fill="#30ff90" fill-opacity="0.57" style="mix-blend-mode:screen" filter="url(#c)"/>
<circle cx="9.8" cy="47.8" r="0.98" fill="#30ff90" fill-opacity="0.69" style="mix-blend-mode:screen" filter="url(#c)"/>
<circle cx="7.6" cy="47.5" r="0.73" fill="#30ff90" fill-opacity="0.73" style="mix-blend-mode:screen" filter="url(#c)"/>
<circle cx="9.3" cy="47.8" r="0.81" fill="#30ff90" fill-opacity="0.93" style="mix-blend-mode:screen" filter="url(#c)"/>
<circle cx="6.9" cy="46.6" r="0.94" fill="#30ff90" fill-opacity="0.59" style="mix-blend-mode:screen" filter="url(#c)"/>
<circle cx="6.8" cy="48.1" r="0.90" fill="#30ff90" fill-opacity="0.49" style="mix-blend-mode:screen" filter="url(#c)"/>
<rect x="59.5" y="49.6" width="7.9" height="1.2" fill="#a0a0a0"/>
<text x="63" y="47.0" font-size="3.2" fill="#d0d0d0" text-anchor="middle" font-weight="bold">10µm</text>
</svg>
<svg x="356.20" y="256.10" width="71.2" height="53.3" overflow="hidden">
<rect width="71.2" height="53.3" fill="#04041a"/>
<rect x="0.4" y="0.4" width="70.4" height="52.5" fill="none" stroke="#000" stroke-width="0.8"/>
<g>
<circle cx="46.7" cy="3.6" r="1.67" fill="#0707ff" fill-opacity="1.00" filter="url(#c)"/>
<circle cx="46.7" cy="6.8" r="1.67" fill="#0707ff" fill-opacity="1.00" filter="url(#c)"/>
<circle cx="54.2" cy="7.4" r="1.91" fill="#0707ff" fill-opacity="0.80" filter="url(#c)"/>
<circle cx="53.1" cy="11.1" r="1.67" fill="#0707ff" fill-opacity="0.70" filter="url(#c)"/>
<circle cx="48.8" cy="12.2" r="1.67" fill="#0707ff" fill-opacity="0.73" filter="url(#c)"/>
<circle cx="45.1" cy="14.3" r="1.91" fill="#0707ff" fill-opacity="0.72" filter="url(#c)"/>
<circle cx="47.2" cy="14.8" r="1.67" fill="#0707ff" fill-opacity="0.56" filter="url(#c)"/>
<circle cx="49.9" cy="15.9" r="1.67" fill="#0707ff" fill-opacity="1.00" filter="url(#c)"/>
<circle cx="49.9" cy="18.5" r="1.67" fill="#0707ff" fill-opacity="1.00" filter="url(#c)"/>
<circle cx="40.3" cy="19.1" r="1.67" fill="#0707ff" fill-opacity="0.75" filter="url(#c)"/>
<circle cx="39.8" cy="20.7" r="1.43" fill="#0707ff" fill-opacity="1.00" filter="url(#c)"/>
<circle cx="36.0" cy="25.5" r="2.03" fill="#0707ff" fill-opacity="1.00" filter="url(#c)"/>
<circle cx="58.4" cy="26.5" r="1.91" fill="#0707ff" fill-opacity="1.00" filter="url(#c)"/>
<circle cx="21.6" cy="26.5" r="1.55" fill="#0707ff" fill-opacity="1.00" filter="url(#c)"/>
<circle cx="24.1" cy="26.0" r="1.19" fill="#0707ff" fill-opacity="0.54" filter="url(#c)"/>
<circle cx="22.2" cy="29.7" r="1.67" fill="#0707ff" fill-opacity="0.81" filter="url(#c)"/>
<circle cx="26.4" cy="32.9" r="1.91" fill="#0707ff" fill-opacity="0.74" filter="url(#c)"/>
<circle cx="28.6" cy="33.5" r="1.43" fill="#0707ff" fill-opacity="1.00" filter="url(#c)"/>
<circle cx="22.7" cy="35.6" r="1.67" fill="#0707ff" fill-opacity="1.00" filter="url(#c)"/>
<circle cx="25.4" cy="37.7" r="1.67" fill="#0707ff" fill-opacity="0.62" filter="url(#c)"/>
<circle cx="7.8" cy="43.1" r="2.03" fill="#0707ff" fill-opacity="0.65" filter="url(#c)"/>
<circle cx="35.0" cy="44.1" r="1.91" fill="#0707ff" fill-opacity="1.00" filter="url(#c)"/>
<circle cx="37.1" cy="45.2" r="1.43" fill="#0707ff" fill-opacity="1.00" filter="url(#c)"/>
<circle cx="36.6" cy="48.4" r="1.67" fill="#0707ff" fill-opacity="0.73" filter="url(#c)"/>
</g>
<rect x="52.9" y="50.3" width="16.2" height="0.9" fill="#d8d8d8"/>
<text x="61.3" y="48.9" font-size="3.2" fill="#c8c8c8" text-anchor="middle" font-weight="bold">50µm</text>
</svg>
<svg x="428.80" y="256.10" width="71.2" height="53.3" overflow="hidden">
<rect width="71.2" height="53.3" fill="#010201"/>
<rect x="0.4" y="0.4" width="70.4" height="52.5" fill="none" stroke="#000" stroke-width="0.8"/>
<g>
<circle cx="46.1" cy="5.2" r="1.88" fill="#18c818" fill-opacity="0.12" filter="url(#g)"/>
<circle cx="53.6" cy="7.4" r="1.64" fill="#18c818" fill-opacity="0.10" filter="url(#g)"/>
<circle cx="52.5" cy="11.1" r="1.64" fill="#18c818" fill-opacity="0.12" filter="url(#g)"/>
<circle cx="46.1" cy="14.3" r="2.11" fill="#18c818" fill-opacity="0.16" filter="url(#g)"/>
<circle cx="49.8" cy="17.0" r="1.88" fill="#18c818" fill-opacity="0.12" filter="url(#g)"/>
<circle cx="40.2" cy="19.6" r="1.88" fill="#18c818" fill-opacity="0.12" filter="url(#g)"/>
<circle cx="36.0" cy="25.5" r="2.11" fill="#18c818" fill-opacity="0.14" filter="url(#g)"/>
<circle cx="58.3" cy="26.5" r="1.64" fill="#18c818" fill-opacity="0.20" filter="url(#g)"/>
<circle cx="22.6" cy="27.1" r="1.88" fill="#18c818" fill-opacity="0.12" filter="url(#g)"/>
<circle cx="22.1" cy="30.3" r="1.64" fill="#18c818" fill-opacity="0.08" filter="url(#g)"/>
<circle cx="26.9" cy="33.5" r="1.88" fill="#18c818" fill-opacity="0.18" filter="url(#g)"/>
<circle cx="24.2" cy="36.1" r="1.88" fill="#18c818" fill-opacity="0.10" filter="url(#g)"/>
<circle cx="8.3" cy="43.1" r="1.76" fill="#18c818" fill-opacity="0.22" filter="url(#g)"/>
<circle cx="35.4" cy="44.7" r="2.11" fill="#18c818" fill-opacity="0.16" filter="url(#g)"/>
<circle cx="36.0" cy="48.4" r="1.64" fill="#18c818" fill-opacity="0.10" filter="url(#g)"/>
</g>
<rect x="52.9" y="50.3" width="16.2" height="0.9" fill="#d8d8d8"/>
<text x="61.3" y="48.9" font-size="3.2" fill="#c8c8c8" text-anchor="middle" font-weight="bold">50µm</text>
</svg>
<svg x="501.40" y="256.10" width="71.2" height="53.3" overflow="hidden">
<rect width="71.2" height="53.3" fill="#04041a"/>
<rect x="0.4" y="0.4" width="70.4" height="52.5" fill="none" stroke="#000" stroke-width="0.8"/>
<g>
<circle cx="46.7" cy="3.6" r="1.67" fill="#0707ff" fill-opacity="1.00" filter="url(#c)"/>
<circle cx="46.7" cy="6.8" r="1.67" fill="#0707ff" fill-opacity="1.00" filter="url(#c)"/>
<circle cx="54.2" cy="7.4" r="1.91" fill="#0707ff" fill-opacity="0.80" filter="url(#c)"/>
<circle cx="53.1" cy="11.1" r="1.67" fill="#0707ff" fill-opacity="0.70" filter="url(#c)"/>
<circle cx="48.8" cy="12.2" r="1.67" fill="#0707ff" fill-opacity="0.73" filter="url(#c)"/>
<circle cx="45.1" cy="14.3" r="1.91" fill="#0707ff" fill-opacity="0.72" filter="url(#c)"/>
<circle cx="47.2" cy="14.8" r="1.67" fill="#0707ff" fill-opacity="0.56" filter="url(#c)"/>
<circle cx="49.9" cy="15.9" r="1.67" fill="#0707ff" fill-opacity="1.00" filter="url(#c)"/>
<circle cx="49.9" cy="18.5" r="1.67" fill="#0707ff" fill-opacity="1.00" filter="url(#c)"/>
<circle cx="40.3" cy="19.1" r="1.67" fill="#0707ff" fill-opacity="0.75" filter="url(#c)"/>
<circle cx="39.8" cy="20.7" r="1.43" fill="#0707ff" fill-opacity="1.00" filter="url(#c)"/>
<circle cx="36.0" cy="25.5" r="2.03" fill="#0707ff" fill-opacity="1.00" filter="url(#c)"/>
<circle cx="58.4" cy="26.5" r="1.91" fill="#0707ff" fill-opacity="1.00" filter="url(#c)"/>
<circle cx="21.6" cy="26.5" r="1.55" fill="#0707ff" fill-opacity="1.00" filter="url(#c)"/>
<circle cx="24.1" cy="26.0" r="1.19" fill="#0707ff" fill-opacity="0.54" filter="url(#c)"/>
<circle cx="22.2" cy="29.7" r="1.67" fill="#0707ff" fill-opacity="0.81" filter="url(#c)"/>
<circle cx="26.4" cy="32.9" r="1.91" fill="#0707ff" fill-opacity="0.74" filter="url(#c)"/>
<circle cx="28.6" cy="33.5" r="1.43" fill="#0707ff" fill-opacity="1.00" filter="url(#c)"/>
<circle cx="22.7" cy="35.6" r="1.67" fill="#0707ff" fill-opacity="1.00" filter="url(#c)"/>
<circle cx="25.4" cy="37.7" r="1.67" fill="#0707ff" fill-opacity="0.62" filter="url(#c)"/>
<circle cx="7.8" cy="43.1" r="2.03" fill="#0707ff" fill-opacity="0.65" filter="url(#c)"/>
<circle cx="35.0" cy="44.1" r="1.91" fill="#0707ff" fill-opacity="1.00" filter="url(#c)"/>
<circle cx="37.1" cy="45.2" r="1.43" fill="#0707ff" fill-opacity="1.00" filter="url(#c)"/>
<circle cx="36.6" cy="48.4" r="1.67" fill="#0707ff" fill-opacity="0.73" filter="url(#c)"/>
</g>
<g style="mix-blend-mode:screen">
<circle cx="46.1" cy="5.2" r="1.71" fill="#00e0a0" fill-opacity="0.04" filter="url(#c)"/>
<circle cx="53.6" cy="7.4" r="1.49" fill="#00e0a0" fill-opacity="0.03" filter="url(#c)"/>
<circle cx="52.5" cy="11.1" r="1.49" fill="#00e0a0" fill-opacity="0.04" filter="url(#c)"/>
<circle cx="46.1" cy="14.3" r="1.92" fill="#00e0a0" fill-opacity="0.08" filter="url(#c)"/>
<circle cx="49.8" cy="17.0" r="1.71" fill="#00e0a0" fill-opacity="0.04" filter="url(#c)"/>
<circle cx="40.2" cy="19.6" r="1.71" fill="#00e0a0" fill-opacity="0.04" filter="url(#c)"/>
<circle cx="36.0" cy="25.5" r="1.92" fill="#00e0a0" fill-opacity="0.06" filter="url(#c)"/>
<circle cx="58.3" cy="26.5" r="1.49" fill="#00e0a0" fill-opacity="0.14" filter="url(#c)"/>
<circle cx="22.6" cy="27.1" r="1.71" fill="#00e0a0" fill-opacity="0.04" filter="url(#c)"/>
<circle cx="22.1" cy="30.3" r="1.49" fill="#00e0a0" fill-opacity="0.01" filter="url(#c)"/>
<circle cx="26.9" cy="33.5" r="1.71" fill="#00e0a0" fill-opacity="0.11" filter="url(#c)"/>
<circle cx="24.2" cy="36.1" r="1.71" fill="#00e0a0" fill-opacity="0.03" filter="url(#c)"/>
<circle cx="8.3" cy="43.1" r="1.60" fill="#00e0a0" fill-opacity="0.18" filter="url(#c)"/>
<circle cx="35.4" cy="44.7" r="1.92" fill="#00e0a0" fill-opacity="0.08" filter="url(#c)"/>
<circle cx="36.0" cy="48.4" r="1.49" fill="#00e0a0" fill-opacity="0.03" filter="url(#c)"/>
</g>
</svg>
<svg x="574.30" y="256.10" width="71.2" height="53.3" overflow="hidden">
<rect width="71.2" height="53.3" fill="#000"/>
<ellipse cx="13.0" cy="13.2" rx="3.61" ry="3.95" fill="url(#zg)" fill-opacity="1.00" filter="url(#z)"/>
<ellipse cx="22.1" cy="13.8" rx="3.61" ry="3.95" fill="url(#zg)" fill-opacity="1.00" filter="url(#z)"/>
<ellipse cx="15.7" cy="22.8" rx="7.00" ry="5.42" fill="url(#zg)" fill-opacity="0.95" filter="url(#z)"/>
<ellipse cx="53.5" cy="10.0" rx="4.29" ry="4.29" fill="url(#zg)" fill-opacity="1.00" filter="url(#z)"/>
<ellipse cx="59.4" cy="11.1" rx="4.29" ry="3.95" fill="url(#zg)" fill-opacity="0.95" filter="url(#z)"/>
<ellipse cx="27.9" cy="33.5" rx="9.94" ry="5.08" fill="url(#zg)" fill-opacity="0.95" filter="url(#z)"/>
<ellipse cx="15.7" cy="40.4" rx="4.52" ry="5.08" fill="url(#zg)" fill-opacity="0.90" filter="url(#z)"/>
<ellipse cx="23.7" cy="46.8" rx="4.74" ry="3.95" fill="url(#zg)" fill-opacity="0.90" filter="url(#z)"/>
<ellipse cx="67.9" cy="0.4" rx="2.82" ry="0.90" fill="url(#zg)" fill-opacity="0.70" filter="url(#z)"/>
<circle cx="31.3" cy="31.1" r="0.67" fill="#30ff90" fill-opacity="0.10" style="mix-blend-mode:screen" filter="url(#c)"/>
<circle cx="32.4" cy="32.9" r="0.69" fill="#30ff90" fill-opacity="0.15" style="mix-blend-mode:screen" filter="url(#c)"/>
<circle cx="25.7" cy="36.4" r="0.50" fill="#30ff90" fill-opacity="0.14" style="mix-blend-mode:screen" filter="url(#c)"/>
<circle cx="28.4" cy="36.8" r="1.01" fill="#30ff90" fill-opacity="0.13" style="mix-blend-mode:screen" filter="url(#c)"/>
<circle cx="27.4" cy="33.4" r="0.52" fill="#30ff90" fill-opacity="0.11" style="mix-blend-mode:screen" filter="url(#c)"/>
<circle cx="28.2" cy="35.5" r="0.72" fill="#30ff90" fill-opacity="0.12" style="mix-blend-mode:screen" filter="url(#c)"/>
<circle cx="29.3" cy="33.3" r="0.61" fill="#30ff90" fill-opacity="0.17" style="mix-blend-mode:screen" filter="url(#c)"/>
<rect x="59.5" y="49.6" width="7.9" height="1.2" fill="#a0a0a0"/>
<text x="63" y="47.0" font-size="3.2" fill="#d0d0d0" text-anchor="middle" font-weight="bold">10µm</text>
</svg>
<svg x="356.20" y="310.95" width="71.2" height="53.3" overflow="hidden">
<rect width="71.2" height="53.3" fill="#04041a"/>
<rect x="0.4" y="0.4" width="70.4" height="52.5" fill="none" stroke="#000" stroke-width="0.8"/>
<g>
<circle cx="30.7" cy="6.4" r="2.03" fill="#0707ff" fill-opacity="0.70" filter="url(#c)"/>
<circle cx="36.6" cy="6.4" r="1.79" fill="#0707ff" fill-opacity="1.00" filter="url(#c)"/>
<circle cx="29.6" cy="10.7" r="2.03" fill="#0707ff" fill-opacity="1.00" filter="url(#c)"/>
<circle cx="25.9" cy="12.3" r="1.91" fill="#0707ff" fill-opacity="0.58" filter="url(#c)"/>
<circle cx="30.7" cy="15.0" r="1.55" fill="#0707ff" fill-opacity="1.00" filter="url(#c)"/>
<circle cx="28.6" cy="16.0" r="1.19" fill="#0707ff" fill-opacity="1.00" filter="url(#c)"/>
<circle cx="31.8" cy="14.4" r="1.19" fill="#0707ff" fill-opacity="1.00" filter="url(#c)"/>
<circle cx="24.3" cy="18.2" r="1.43" fill="#0707ff" fill-opacity="1.00" filter="url(#c)"/>
<circle cx="26.4" cy="19.8" r="1.67" fill="#0707ff" fill-opacity="1.00" filter="url(#c)"/>
<circle cx="27.5" cy="21.9" r="1.43" fill="#0707ff" fill-opacity="1.00" filter="url(#c)"/>
<circle cx="24.8" cy="20.8" r="1.19" fill="#0707ff" fill-opacity="0.64" filter="url(#c)"/>
<circle cx="37.6" cy="19.2" r="1.91" fill="#0707ff" fill-opacity="1.00" filter="url(#c)"/>
<circle cx="36.0" cy="18.7" r="1.19" fill="#0707ff" fill-opacity="1.00" filter="url(#c)"/>
<circle cx="19.0" cy="27.8" r="1.91" fill="#0707ff" fill-opacity="1.00" filter="url(#c)"/>
<circle cx="34.4" cy="27.8" r="2.03" fill="#0707ff" fill-opacity="1.00" filter="url(#c)"/>
<circle cx="23.2" cy="30.4" r="1.55" fill="#0707ff" fill-opacity="1.00" filter="url(#c)"/>
<circle cx="25.4" cy="31.5" r="1.67" fill="#0707ff" fill-opacity="1.00" filter="url(#c)"/>
<circle cx="24.3" cy="33.1" r="1.67" fill="#0707ff" fill-opacity="0.63" filter="url(#c)"/>
<circle cx="25.4" cy="36.3" r="2.03" fill="#0707ff" fill-opacity="1.00" filter="url(#c)"/>
</g>
<rect x="52.9" y="50.3" width="16.2" height="0.9" fill="#d8d8d8"/>
<text x="61.3" y="48.9" font-size="3.2" fill="#c8c8c8" text-anchor="middle" font-weight="bold">50µm</text>
</svg>
<svg x="428.80" y="310.95" width="71.2" height="53.3" overflow="hidden">
<rect width="71.2" height="53.3" fill="#010201"/>
<rect x="0.4" y="0.4" width="70.4" height="52.5" fill="none" stroke="#000" stroke-width="0.8"/>
<g>
<circle cx="30.6" cy="6.4" r="1.99" fill="#18c818" fill-opacity="0.64" filter="url(#g)"/>
<circle cx="36.5" cy="5.9" r="1.64" fill="#18c818" fill-opacity="0.40" filter="url(#g)"/>
<circle cx="25.8" cy="12.3" r="1.99" fill="#18c818" fill-opacity="0.72" filter="url(#g)"/>
<circle cx="29.6" cy="10.7" r="1.88" fill="#18c818" fill-opacity="0.56" filter="url(#g)"/>
<circle cx="34.9" cy="27.8" r="1.99" fill="#18c818" fill-opacity="0.68" filter="url(#g)"/>
<circle cx="24.8" cy="36.3" r="1.99" fill="#18c818" fill-opacity="0.64" filter="url(#g)"/>
<circle cx="23.2" cy="35.8" r="1.41" fill="#18c818" fill-opacity="0.48" filter="url(#g)"/>
<circle cx="18.9" cy="28.3" r="1.52" fill="#18c818" fill-opacity="0.32" filter="url(#g)"/>
<circle cx="23.7" cy="30.4" r="1.52" fill="#18c818" fill-opacity="0.28" filter="url(#g)"/>
<circle cx="25.3" cy="31.5" r="1.52" fill="#18c818" fill-opacity="0.24" filter="url(#g)"/>
<circle cx="37.6" cy="19.2" r="1.64" fill="#18c818" fill-opacity="0.28" filter="url(#g)"/>
<circle cx="24.2" cy="19.2" r="1.41" fill="#18c818" fill-opacity="0.24" filter="url(#g)"/>
<circle cx="27.4" cy="20.8" r="1.52" fill="#18c818" fill-opacity="0.28" filter="url(#g)"/>
<circle cx="32.2" cy="15.0" r="1.41" fill="#18c818" fill-opacity="0.16" filter="url(#g)"/>
</g>
<rect x="52.9" y="50.3" width="16.2" height="0.9" fill="#d8d8d8"/>
<text x="61.3" y="48.9" font-size="3.2" fill="#c8c8c8" text-anchor="middle" font-weight="bold">50µm</text>
</svg>
<svg x="501.40" y="310.95" width="71.2" height="53.3" overflow="hidden">
<rect width="71.2" height="53.3" fill="#04041a"/>
<rect x="0.4" y="0.4" width="70.4" height="52.5" fill="none" stroke="#000" stroke-width="0.8"/>
<g>
<circle cx="30.7" cy="6.4" r="2.03" fill="#0707ff" fill-opacity="0.70" filter="url(#c)"/>
<circle cx="36.6" cy="6.4" r="1.79" fill="#0707ff" fill-opacity="1.00" filter="url(#c)"/>
<circle cx="29.6" cy="10.7" r="2.03" fill="#0707ff" fill-opacity="1.00" filter="url(#c)"/>
<circle cx="25.9" cy="12.3" r="1.91" fill="#0707ff" fill-opacity="0.58" filter="url(#c)"/>
<circle cx="30.7" cy="15.0" r="1.55" fill="#0707ff" fill-opacity="1.00" filter="url(#c)"/>
<circle cx="28.6" cy="16.0" r="1.19" fill="#0707ff" fill-opacity="1.00" filter="url(#c)"/>
<circle cx="31.8" cy="14.4" r="1.19" fill="#0707ff" fill-opacity="1.00" filter="url(#c)"/>
<circle cx="24.3" cy="18.2" r="1.43" fill="#0707ff" fill-opacity="1.00" filter="url(#c)"/>
<circle cx="26.4" cy="19.8" r="1.67" fill="#0707ff" fill-opacity="1.00" filter="url(#c)"/>
<circle cx="27.5" cy="21.9" r="1.43" fill="#0707ff" fill-opacity="1.00" filter="url(#c)"/>
<circle cx="24.8" cy="20.8" r="1.19" fill="#0707ff" fill-opacity="0.64" filter="url(#c)"/>
<circle cx="37.6" cy="19.2" r="1.91" fill="#0707ff" fill-opacity="1.00" filter="url(#c)"/>
<circle cx="36.0" cy="18.7" r="1.19" fill="#0707ff" fill-opacity="1.00" filter="url(#c)"/>
<circle cx="19.0" cy="27.8" r="1.91" fill="#0707ff" fill-opacity="1.00" filter="url(#c)"/>
<circle cx="34.4" cy="27.8" r="2.03" fill="#0707ff" fill-opacity="1.00" filter="url(#c)"/>
<circle cx="23.2" cy="30.4" r="1.55" fill="#0707ff" fill-opacity="1.00" filter="url(#c)"/>
<circle cx="25.4" cy="31.5" r="1.67" fill="#0707ff" fill-opacity="1.00" filter="url(#c)"/>
<circle cx="24.3" cy="33.1" r="1.67" fill="#0707ff" fill-opacity="0.63" filter="url(#c)"/>
<circle cx="25.4" cy="36.3" r="2.03" fill="#0707ff" fill-opacity="1.00" filter="url(#c)"/>
</g>
<g style="mix-blend-mode:screen">
<circle cx="30.6" cy="6.4" r="1.81" fill="#00e0a0" fill-opacity="0.46" filter="url(#c)"/>
<circle cx="36.5" cy="5.9" r="1.49" fill="#00e0a0" fill-opacity="0.14" filter="url(#c)"/>
<circle cx="25.8" cy="12.3" r="1.81" fill="#00e0a0" fill-opacity="0.61" filter="url(#c)"/>
<circle cx="29.6" cy="10.7" r="1.71" fill="#00e0a0" fill-opacity="0.33" filter="url(#c)"/>
<circle cx="34.9" cy="27.8" r="1.81" fill="#00e0a0" fill-opacity="0.53" filter="url(#c)"/>
<circle cx="24.8" cy="36.3" r="1.81" fill="#00e0a0" fill-opacity="0.46" filter="url(#c)"/>
<circle cx="23.2" cy="35.8" r="1.28" fill="#00e0a0" fill-opacity="0.22" filter="url(#c)"/>
<circle cx="18.9" cy="28.3" r="1.39" fill="#00e0a0" fill-opacity="0.08" filter="url(#c)"/>
<circle cx="23.7" cy="30.4" r="1.39" fill="#00e0a0" fill-opacity="0.06" filter="url(#c)"/>
<circle cx="25.3" cy="31.5" r="1.39" fill="#00e0a0" fill-opacity="0.04" filter="url(#c)"/>
<circle cx="37.6" cy="19.2" r="1.49" fill="#00e0a0" fill-opacity="0.06" filter="url(#c)"/>
<circle cx="24.2" cy="19.2" r="1.28" fill="#00e0a0" fill-opacity="0.04" filter="url(#c)"/>
<circle cx="27.4" cy="20.8" r="1.39" fill="#00e0a0" fill-opacity="0.06" filter="url(#c)"/>
<circle cx="32.2" cy="15.0" r="1.28" fill="#00e0a0" fill-opacity="0.01" filter="url(#c)"/>
</g>
</svg>
<svg x="574.30" y="310.95" width="71.2" height="53.3" overflow="hidden">
<rect width="71.2" height="53.3" fill="#000"/>
<ellipse cx="27.4" cy="2.2" rx="3.95" ry="2.82" fill="url(#zg)" fill-opacity="0.80" filter="url(#z)"/>
<ellipse cx="35.9" cy="5.4" rx="5.08" ry="4.52" fill="url(#zg)" fill-opacity="0.80" filter="url(#z)"/>
<ellipse cx="68.4" cy="1.6" rx="1.69" ry="1.69" fill="url(#zg)" fill-opacity="0.50" filter="url(#z)"/>
<ellipse cx="12.0" cy="22.4" rx="4.74" ry="3.95" fill="url(#zg)" fill-opacity="0.80" filter="url(#z)"/>
<ellipse cx="56.7" cy="22.4" rx="5.42" ry="4.52" fill="url(#zg)" fill-opacity="0.90" filter="url(#z)"/>
<ellipse cx="24.7" cy="27.2" rx="2.82" ry="5.08" fill="url(#zg)" fill-opacity="0.80" filter="url(#z)"/>
<ellipse cx="21.5" cy="32.0" rx="3.16" ry="2.82" fill="url(#zg)" fill-opacity="0.80" filter="url(#z)"/>
<ellipse cx="28.5" cy="35.2" rx="6.78" ry="6.78" fill="url(#zg)" fill-opacity="0.90" filter="url(#z)"/>
<ellipse cx="29.5" cy="46.9" rx="7.68" ry="3.95" fill="url(#zg)" fill-opacity="0.90" filter="url(#z)"/>
<circle cx="57.0" cy="23.5" r="0.63" fill="#30ff90" fill-opacity="0.25" style="mix-blend-mode:screen" filter="url(#c)"/>
<circle cx="54.3" cy="20.0" r="0.67" fill="#30ff90" fill-opacity="0.33" style="mix-blend-mode:screen" filter="url(#c)"/>
<circle cx="55.6" cy="21.8" r="0.52" fill="#30ff90" fill-opacity="0.42" style="mix-blend-mode:screen" filter="url(#c)"/>
<circle cx="60.1" cy="22.5" r="0.56" fill="#30ff90" fill-opacity="0.42" style="mix-blend-mode:screen" filter="url(#c)"/>
<circle cx="57.5" cy="25.0" r="0.98" fill="#30ff90" fill-opacity="0.27" style="mix-blend-mode:screen" filter="url(#c)"/>
<circle cx="58.0" cy="20.0" r="0.91" fill="#30ff90" fill-opacity="0.37" style="mix-blend-mode:screen" filter="url(#c)"/>
<circle cx="57.8" cy="23.2" r="0.80" fill="#30ff90" fill-opacity="0.32" style="mix-blend-mode:screen" filter="url(#c)"/>
<circle cx="56.6" cy="21.0" r="1.07" fill="#30ff90" fill-opacity="0.40" style="mix-blend-mode:screen" filter="url(#c)"/>
<circle cx="57.9" cy="21.9" r="0.93" fill="#30ff90" fill-opacity="0.26" style="mix-blend-mode:screen" filter="url(#c)"/>
<circle cx="32.0" cy="47.5" r="0.53" fill="#30ff90" fill-opacity="0.42" style="mix-blend-mode:screen" filter="url(#c)"/>
<circle cx="25.6" cy="46.5" r="0.93" fill="#30ff90" fill-opacity="0.24" style="mix-blend-mode:screen" filter="url(#c)"/>
<circle cx="26.0" cy="45.0" r="0.55" fill="#30ff90" fill-opacity="0.40" style="mix-blend-mode:screen" filter="url(#c)"/>
<circle cx="29.5" cy="46.8" r="0.70" fill="#30ff90" fill-opacity="0.27" style="mix-blend-mode:screen" filter="url(#c)"/>
<circle cx="29.1" cy="46.9" r="1.05" fill="#30ff90" fill-opacity="0.37" style="mix-blend-mode:screen" filter="url(#c)"/>
<circle cx="29.2" cy="46.8" r="0.64" fill="#30ff90" fill-opacity="0.26" style="mix-blend-mode:screen" filter="url(#c)"/>
<circle cx="33.3" cy="46.0" r="0.72" fill="#30ff90" fill-opacity="0.40" style="mix-blend-mode:screen" filter="url(#c)"/>
<circle cx="34.1" cy="46.2" r="0.77" fill="#30ff90" fill-opacity="0.42" style="mix-blend-mode:screen" filter="url(#c)"/>
<circle cx="29.8" cy="46.8" r="0.51" fill="#30ff90" fill-opacity="0.27" style="mix-blend-mode:screen" filter="url(#c)"/>
<rect x="59.5" y="49.6" width="7.9" height="1.2" fill="#a0a0a0"/>
<text x="63" y="47.0" font-size="3.2" fill="#d0d0d0" text-anchor="middle" font-weight="bold">10µm</text>
</svg>
<svg x="356.20" y="365.80" width="71.2" height="53.3" overflow="hidden">
<rect width="71.2" height="53.3" fill="#04041a"/>
<rect x="0.4" y="0.4" width="70.4" height="52.5" fill="none" stroke="#000" stroke-width="0.8"/>
<g>
<circle cx="39.2" cy="2.3" r="1.79" fill="#0707ff" fill-opacity="1.00" filter="url(#c)"/>
<circle cx="38.7" cy="7.1" r="1.67" fill="#0707ff" fill-opacity="0.70" filter="url(#c)"/>
<circle cx="27.5" cy="8.2" r="1.79" fill="#0707ff" fill-opacity="1.00" filter="url(#c)"/>
<circle cx="30.7" cy="9.3" r="1.67" fill="#0707ff" fill-opacity="0.59" filter="url(#c)"/>
<circle cx="35.0" cy="10.3" r="1.67" fill="#0707ff" fill-opacity="0.77" filter="url(#c)"/>
<circle cx="33.9" cy="13.5" r="1.67" fill="#0707ff" fill-opacity="1.00" filter="url(#c)"/>
<circle cx="37.1" cy="14.6" r="1.67" fill="#0707ff" fill-opacity="1.00" filter="url(#c)"/>
<circle cx="31.2" cy="16.2" r="1.91" fill="#0707ff" fill-opacity="0.52" filter="url(#c)"/>
<circle cx="28.6" cy="17.8" r="1.67" fill="#0707ff" fill-opacity="1.00" filter="url(#c)"/>
<circle cx="35.0" cy="18.8" r="1.55" fill="#0707ff" fill-opacity="1.00" filter="url(#c)"/>
<circle cx="18.4" cy="22.0" r="1.79" fill="#0707ff" fill-opacity="1.00" filter="url(#c)"/>
<circle cx="20.0" cy="24.7" r="1.79" fill="#0707ff" fill-opacity="1.00" filter="url(#c)"/>
<circle cx="28.0" cy="24.2" r="1.79" fill="#0707ff" fill-opacity="1.00" filter="url(#c)"/>
<circle cx="32.3" cy="23.1" r="1.67" fill="#0707ff" fill-opacity="1.00" filter="url(#c)"/>
<circle cx="48.8" cy="25.8" r="2.03" fill="#0707ff" fill-opacity="1.00" filter="url(#c)"/>
<circle cx="52.0" cy="22.6" r="1.79" fill="#0707ff" fill-opacity="1.00" filter="url(#c)"/>
<circle cx="53.1" cy="28.4" r="2.03" fill="#0707ff" fill-opacity="1.00" filter="url(#c)"/>
<circle cx="26.4" cy="40.7" r="1.79" fill="#0707ff" fill-opacity="0.77" filter="url(#c)"/>
<circle cx="30.2" cy="40.2" r="1.67" fill="#0707ff" fill-opacity="1.00" filter="url(#c)"/>
<circle cx="33.4" cy="44.4" r="1.79" fill="#0707ff" fill-opacity="1.00" filter="url(#c)"/>
<circle cx="36.6" cy="49.2" r="1.67" fill="#0707ff" fill-opacity="1.00" filter="url(#c)"/>
</g>
<rect x="52.9" y="50.3" width="16.2" height="0.9" fill="#d8d8d8"/>
<text x="61.3" y="48.9" font-size="3.2" fill="#c8c8c8" text-anchor="middle" font-weight="bold">50µm</text>
</svg>
<svg x="428.80" y="365.80" width="71.2" height="53.3" overflow="hidden">
<rect width="71.2" height="53.3" fill="#010201"/>
<rect x="0.4" y="0.4" width="70.4" height="52.5" fill="none" stroke="#000" stroke-width="0.8"/>
<g>
<circle cx="39.2" cy="2.1" r="1.41" fill="#18c818" fill-opacity="0.68" filter="url(#g)"/>
<circle cx="38.1" cy="7.1" r="1.17" fill="#18c818" fill-opacity="0.40" filter="url(#g)"/>
<circle cx="27.4" cy="8.2" r="1.41" fill="#18c818" fill-opacity="0.36" filter="url(#g)"/>
<circle cx="30.1" cy="9.3" r="1.17" fill="#18c818" fill-opacity="0.28" filter="url(#g)"/>
<circle cx="34.4" cy="10.9" r="1.41" fill="#18c818" fill-opacity="0.32" filter="url(#g)"/>
<circle cx="33.8" cy="13.5" r="1.17" fill="#18c818" fill-opacity="0.32" filter="url(#g)"/>
<circle cx="36.5" cy="14.6" r="1.17" fill="#18c818" fill-opacity="0.24" filter="url(#g)"/>
<circle cx="29.0" cy="17.3" r="1.64" fill="#18c818" fill-opacity="0.32" filter="url(#g)"/>
<circle cx="31.7" cy="16.2" r="1.41" fill="#18c818" fill-opacity="0.28" filter="url(#g)"/>
<circle cx="34.4" cy="18.3" r="1.41" fill="#18c818" fill-opacity="0.32" filter="url(#g)"/>
<circle cx="17.8" cy="21.5" r="1.52" fill="#18c818" fill-opacity="0.60" filter="url(#g)"/>
<circle cx="20.0" cy="24.9" r="1.64" fill="#18c818" fill-opacity="0.68" filter="url(#g)"/>
<circle cx="27.4" cy="23.6" r="1.17" fill="#18c818" fill-opacity="0.24" filter="url(#g)"/>
<circle cx="48.8" cy="25.8" r="1.64" fill="#18c818" fill-opacity="0.36" filter="url(#g)"/>
<circle cx="52.0" cy="22.6" r="1.17" fill="#18c818" fill-opacity="0.28" filter="url(#g)"/>
<circle cx="53.3" cy="28.4" r="1.76" fill="#18c818" fill-opacity="0.72" filter="url(#g)"/>
<circle cx="26.4" cy="41.2" r="1.52" fill="#18c818" fill-opacity="0.40" filter="url(#g)"/>
<circle cx="30.6" cy="40.7" r="1.17" fill="#18c818" fill-opacity="0.32" filter="url(#g)"/>
<circle cx="33.3" cy="44.7" r="1.52" fill="#18c818" fill-opacity="0.44" filter="url(#g)"/>
<circle cx="36.5" cy="49.4" r="1.41" fill="#18c818" fill-opacity="0.48" filter="url(#g)"/>
</g>
<rect x="52.9" y="50.3" width="16.2" height="0.9" fill="#d8d8d8"/>
<text x="61.3" y="48.9" font-size="3.2" fill="#c8c8c8" text-anchor="middle" font-weight="bold">50µm</text>
</svg>
<svg x="501.40" y="365.80" width="71.2" height="53.3" overflow="hidden">
<rect width="71.2" height="53.3" fill="#04041a"/>
<rect x="0.4" y="0.4" width="70.4" height="52.5" fill="none" stroke="#000" stroke-width="0.8"/>
<g>
<circle cx="39.2" cy="2.3" r="1.79" fill="#0707ff" fill-opacity="1.00" filter="url(#c)"/>
<circle cx="38.7" cy="7.1" r="1.67" fill="#0707ff" fill-opacity="0.70" filter="url(#c)"/>
<circle cx="27.5" cy="8.2" r="1.79" fill="#0707ff" fill-opacity="1.00" filter="url(#c)"/>
<circle cx="30.7" cy="9.3" r="1.67" fill="#0707ff" fill-opacity="0.59" filter="url(#c)"/>
<circle cx="35.0" cy="10.3" r="1.67" fill="#0707ff" fill-opacity="0.77" filter="url(#c)"/>
<circle cx="33.9" cy="13.5" r="1.67" fill="#0707ff" fill-opacity="1.00" filter="url(#c)"/>
<circle cx="37.1" cy="14.6" r="1.67" fill="#0707ff" fill-opacity="1.00" filter="url(#c)"/>
<circle cx="31.2" cy="16.2" r="1.91" fill="#0707ff" fill-opacity="0.52" filter="url(#c)"/>
<circle cx="28.6" cy="17.8" r="1.67" fill="#0707ff" fill-opacity="1.00" filter="url(#c)"/>
<circle cx="35.0" cy="18.8" r="1.55" fill="#0707ff" fill-opacity="1.00" filter="url(#c)"/>
<circle cx="18.4" cy="22.0" r="1.79" fill="#0707ff" fill-opacity="1.00" filter="url(#c)"/>
<circle cx="20.0" cy="24.7" r="1.79" fill="#0707ff" fill-opacity="1.00" filter="url(#c)"/>
<circle cx="28.0" cy="24.2" r="1.79" fill="#0707ff" fill-opacity="1.00" filter="url(#c)"/>
<circle cx="32.3" cy="23.1" r="1.67" fill="#0707ff" fill-opacity="1.00" filter="url(#c)"/>
<circle cx="48.8" cy="25.8" r="2.03" fill="#0707ff" fill-opacity="1.00" filter="url(#c)"/>
<circle cx="52.0" cy="22.6" r="1.79" fill="#0707ff" fill-opacity="1.00" filter="url(#c)"/>
<circle cx="53.1" cy="28.4" r="2.03" fill="#0707ff" fill-opacity="1.00" filter="url(#c)"/>
<circle cx="26.4" cy="40.7" r="1.79" fill="#0707ff" fill-opacity="0.77" filter="url(#c)"/>
<circle cx="30.2" cy="40.2" r="1.67" fill="#0707ff" fill-opacity="1.00" filter="url(#c)"/>
<circle cx="33.4" cy="44.4" r="1.79" fill="#0707ff" fill-opacity="1.00" filter="url(#c)"/>
<circle cx="36.6" cy="49.2" r="1.67" fill="#0707ff" fill-opacity="1.00" filter="url(#c)"/>
</g>
<g style="mix-blend-mode:screen">
<circle cx="39.2" cy="2.1" r="1.28" fill="#00e0a0" fill-opacity="0.53" filter="url(#c)"/>
<circle cx="38.1" cy="7.1" r="1.07" fill="#00e0a0" fill-opacity="0.14" filter="url(#c)"/>
<circle cx="27.4" cy="8.2" r="1.28" fill="#00e0a0" fill-opacity="0.11" filter="url(#c)"/>
<circle cx="30.1" cy="9.3" r="1.07" fill="#00e0a0" fill-opacity="0.06" filter="url(#c)"/>
<circle cx="34.4" cy="10.9" r="1.28" fill="#00e0a0" fill-opacity="0.08" filter="url(#c)"/>
<circle cx="33.8" cy="13.5" r="1.07" fill="#00e0a0" fill-opacity="0.08" filter="url(#c)"/>
<circle cx="36.5" cy="14.6" r="1.07" fill="#00e0a0" fill-opacity="0.04" filter="url(#c)"/>
<circle cx="29.0" cy="17.3" r="1.49" fill="#00e0a0" fill-opacity="0.08" filter="url(#c)"/>
<circle cx="31.7" cy="16.2" r="1.28" fill="#00e0a0" fill-opacity="0.06" filter="url(#c)"/>
<circle cx="34.4" cy="18.3" r="1.28" fill="#00e0a0" fill-opacity="0.08" filter="url(#c)"/>
<circle cx="17.8" cy="21.5" r="1.39" fill="#00e0a0" fill-opacity="0.39" filter="url(#c)"/>
<circle cx="20.0" cy="24.9" r="1.49" fill="#00e0a0" fill-opacity="0.53" filter="url(#c)"/>
<circle cx="27.4" cy="23.6" r="1.07" fill="#00e0a0" fill-opacity="0.04" filter="url(#c)"/>
<circle cx="48.8" cy="25.8" r="1.49" fill="#00e0a0" fill-opacity="0.11" filter="url(#c)"/>
<circle cx="52.0" cy="22.6" r="1.07" fill="#00e0a0" fill-opacity="0.06" filter="url(#c)"/>
<circle cx="53.3" cy="28.4" r="1.60" fill="#00e0a0" fill-opacity="0.61" filter="url(#c)"/>
<circle cx="26.4" cy="41.2" r="1.39" fill="#00e0a0" fill-opacity="0.14" filter="url(#c)"/>
<circle cx="30.6" cy="40.7" r="1.07" fill="#00e0a0" fill-opacity="0.08" filter="url(#c)"/>
<circle cx="33.3" cy="44.7" r="1.39" fill="#00e0a0" fill-opacity="0.18" filter="url(#c)"/>
<circle cx="36.5" cy="49.4" r="1.28" fill="#00e0a0" fill-opacity="0.22" filter="url(#c)"/>
</g>
</svg>
<svg x="574.30" y="365.80" width="71.2" height="53.3" overflow="hidden">
<rect width="71.2" height="53.3" fill="#000"/>
<ellipse cx="50.9" cy="3.4" rx="5.08" ry="3.39" fill="url(#zg)" fill-opacity="0.80" filter="url(#z)"/>
<ellipse cx="58.8" cy="6.6" rx="5.08" ry="5.08" fill="url(#zg)" fill-opacity="0.75" filter="url(#z)"/>
<ellipse cx="44.5" cy="11.4" rx="6.21" ry="6.21" fill="url(#zg)" fill-opacity="0.90" filter="url(#z)"/>
<ellipse cx="37.5" cy="14.1" rx="3.95" ry="3.95" fill="url(#zg)" fill-opacity="0.85" filter="url(#z)"/>
<ellipse cx="53.0" cy="15.7" rx="4.29" ry="4.29" fill="url(#zg)" fill-opacity="0.85" filter="url(#z)"/>
<ellipse cx="11.4" cy="23.1" rx="3.95" ry="3.16" fill="url(#zg)" fill-opacity="0.90" filter="url(#z)"/>
<ellipse cx="15.7" cy="31.6" rx="5.87" ry="4.74" fill="url(#zg)" fill-opacity="0.85" filter="url(#z)"/>
<ellipse cx="17.3" cy="26.8" rx="2.82" ry="2.26" fill="url(#zg)" fill-opacity="0.60" filter="url(#z)"/>
<ellipse cx="36.5" cy="29.0" rx="5.08" ry="4.29" fill="url(#zg)" fill-opacity="0.85" filter="url(#z)"/>
<ellipse cx="47.7" cy="27.4" rx="5.08" ry="4.29" fill="url(#zg)" fill-opacity="0.85" filter="url(#z)"/>
<circle cx="50.8" cy="17.1" r="1.06" fill="#30ff90" fill-opacity="0.31" style="mix-blend-mode:screen" filter="url(#c)"/>
<circle cx="53.5" cy="14.6" r="0.53" fill="#30ff90" fill-opacity="0.30" style="mix-blend-mode:screen" filter="url(#c)"/>
<circle cx="51.9" cy="16.0" r="0.59" fill="#30ff90" fill-opacity="0.30" style="mix-blend-mode:screen" filter="url(#c)"/>
<circle cx="54.1" cy="12.9" r="0.87" fill="#30ff90" fill-opacity="0.18" style="mix-blend-mode:screen" filter="url(#c)"/>
<circle cx="54.0" cy="17.6" r="0.86" fill="#30ff90" fill-opacity="0.27" style="mix-blend-mode:screen" filter="url(#c)"/>
<circle cx="53.3" cy="15.8" r="0.52" fill="#30ff90" fill-opacity="0.25" style="mix-blend-mode:screen" filter="url(#c)"/>
<circle cx="53.5" cy="15.5" r="0.53" fill="#30ff90" fill-opacity="0.29" style="mix-blend-mode:screen" filter="url(#c)"/>
<circle cx="52.3" cy="15.6" r="1.03" fill="#30ff90" fill-opacity="0.29" style="mix-blend-mode:screen" filter="url(#c)"/>
<circle cx="11.1" cy="23.5" r="0.51" fill="#30ff90" fill-opacity="0.57" style="mix-blend-mode:screen" filter="url(#c)"/>
<circle cx="10.7" cy="22.8" r="0.59" fill="#30ff90" fill-opacity="0.49" style="mix-blend-mode:screen" filter="url(#c)"/>
<circle cx="9.9" cy="23.1" r="1.03" fill="#30ff90" fill-opacity="0.40" style="mix-blend-mode:screen" filter="url(#c)"/>
<circle cx="10.7" cy="23.2" r="0.71" fill="#30ff90" fill-opacity="0.39" style="mix-blend-mode:screen" filter="url(#c)"/>
<circle cx="9.9" cy="24.9" r="0.74" fill="#30ff90" fill-opacity="0.52" style="mix-blend-mode:screen" filter="url(#c)"/>
<circle cx="13.2" cy="24.5" r="1.04" fill="#30ff90" fill-opacity="0.56" style="mix-blend-mode:screen" filter="url(#c)"/>
<circle cx="11.1" cy="21.6" r="1.06" fill="#30ff90" fill-opacity="0.78" style="mix-blend-mode:screen" filter="url(#c)"/>
<circle cx="9.7" cy="23.0" r="0.53" fill="#30ff90" fill-opacity="0.41" style="mix-blend-mode:screen" filter="url(#c)"/>
<circle cx="11.4" cy="23.1" r="1.09" fill="#30ff90" fill-opacity="0.63" style="mix-blend-mode:screen" filter="url(#c)"/>
<circle cx="13.5" cy="22.1" r="0.61" fill="#30ff90" fill-opacity="0.48" style="mix-blend-mode:screen" filter="url(#c)"/>
<circle cx="11.8" cy="22.9" r="0.56" fill="#30ff90" fill-opacity="0.68" style="mix-blend-mode:screen" filter="url(#c)"/>
<circle cx="11.4" cy="23.1" r="0.59" fill="#30ff90" fill-opacity="0.47" style="mix-blend-mode:screen" filter="url(#c)"/>
<circle cx="18.9" cy="33.5" r="0.77" fill="#30ff90" fill-opacity="0.57" style="mix-blend-mode:screen" filter="url(#c)"/>
<circle cx="16.0" cy="32.7" r="0.72" fill="#30ff90" fill-opacity="0.51" style="mix-blend-mode:screen" filter="url(#c)"/>
<circle cx="16.9" cy="33.8" r="0.88" fill="#30ff90" fill-opacity="0.45" style="mix-blend-mode:screen" filter="url(#c)"/>
<circle cx="13.5" cy="30.9" r="0.87" fill="#30ff90" fill-opacity="0.35" style="mix-blend-mode:screen" filter="url(#c)"/>
<circle cx="18.0" cy="33.9" r="1.05" fill="#30ff90" fill-opacity="0.64" style="mix-blend-mode:screen" filter="url(#c)"/>
<circle cx="16.6" cy="32.0" r="0.58" fill="#30ff90" fill-opacity="0.51" style="mix-blend-mode:screen" filter="url(#c)"/>
<circle cx="15.9" cy="31.4" r="1.01" fill="#30ff90" fill-opacity="0.68" style="mix-blend-mode:screen" filter="url(#c)"/>
<circle cx="15.3" cy="32.8" r="0.64" fill="#30ff90" fill-opacity="0.43" style="mix-blend-mode:screen" filter="url(#c)"/>
<circle cx="16.7" cy="29.8" r="1.06" fill="#30ff90" fill-opacity="0.66" style="mix-blend-mode:screen" filter="url(#c)"/>
<circle cx="14.6" cy="32.8" r="0.71" fill="#30ff90" fill-opacity="0.56" style="mix-blend-mode:screen" filter="url(#c)"/>
<circle cx="15.7" cy="31.6" r="1.02" fill="#30ff90" fill-opacity="0.44" style="mix-blend-mode:screen" filter="url(#c)"/>
<rect x="59.5" y="49.6" width="7.9" height="1.2" fill="#a0a0a0"/>
<text x="63" y="47.0" font-size="3.2" fill="#d0d0d0" text-anchor="middle" font-weight="bold">10µm</text>
</svg>
<svg x="356.20" y="420.50" width="71.2" height="53.3" overflow="hidden">
<rect width="71.2" height="53.3" fill="#04041a"/>
<rect x="0.4" y="0.4" width="70.4" height="52.5" fill="none" stroke="#000" stroke-width="0.8"/>
<g>
<circle cx="54.2" cy="4.3" r="2.63" fill="#0707ff" fill-opacity="1.00" filter="url(#c)"/>
<circle cx="59.5" cy="11.8" r="2.63" fill="#0707ff" fill-opacity="0.85" filter="url(#c)"/>
<circle cx="54.2" cy="14.4" r="2.15" fill="#0707ff" fill-opacity="1.00" filter="url(#c)"/>
<circle cx="51.5" cy="16.0" r="1.91" fill="#0707ff" fill-opacity="1.00" filter="url(#c)"/>
<circle cx="66.9" cy="16.6" r="2.63" fill="#0707ff" fill-opacity="1.00" filter="url(#c)"/>
<circle cx="6.2" cy="20.3" r="1.91" fill="#0707ff" fill-opacity="0.83" filter="url(#c)"/>
<circle cx="4.6" cy="24.0" r="2.15" fill="#0707ff" fill-opacity="1.00" filter="url(#c)"/>
<circle cx="8.3" cy="22.4" r="1.43" fill="#0707ff" fill-opacity="1.00" filter="url(#c)"/>
<circle cx="15.8" cy="35.7" r="1.67" fill="#0707ff" fill-opacity="0.59" filter="url(#c)"/>
<circle cx="17.9" cy="37.9" r="1.67" fill="#0707ff" fill-opacity="1.00" filter="url(#c)"/>
<circle cx="13.7" cy="40.0" r="1.79" fill="#0707ff" fill-opacity="1.00" filter="url(#c)"/>
<circle cx="15.8" cy="42.7" r="1.91" fill="#0707ff" fill-opacity="1.00" filter="url(#c)"/>
<circle cx="13.1" cy="42.7" r="1.43" fill="#0707ff" fill-opacity="0.58" filter="url(#c)"/>
<circle cx="45.1" cy="32.0" r="1.91" fill="#0707ff" fill-opacity="0.78" filter="url(#c)"/>
<circle cx="46.7" cy="33.6" r="1.67" fill="#0707ff" fill-opacity="0.57" filter="url(#c)"/>
<circle cx="41.4" cy="36.3" r="1.43" fill="#0707ff" fill-opacity="0.58" filter="url(#c)"/>
<circle cx="44.0" cy="37.9" r="1.91" fill="#0707ff" fill-opacity="0.54" filter="url(#c)"/>
<circle cx="33.9" cy="39.5" r="1.91" fill="#0707ff" fill-opacity="1.00" filter="url(#c)"/>
<circle cx="44.0" cy="49.6" r="1.79" fill="#0707ff" fill-opacity="0.60" filter="url(#c)"/>
</g>
<rect x="52.9" y="50.3" width="16.2" height="0.9" fill="#d8d8d8"/>
<text x="61.3" y="48.9" font-size="3.2" fill="#c8c8c8" text-anchor="middle" font-weight="bold">50µm</text>
</svg>
<svg x="428.80" y="420.50" width="71.2" height="53.3" overflow="hidden">
<rect width="71.2" height="53.3" fill="#010201"/>
<rect x="0.4" y="0.4" width="70.4" height="52.5" fill="none" stroke="#000" stroke-width="0.8"/>
<g>
<circle cx="53.6" cy="4.3" r="2.81" fill="#18c818" fill-opacity="0.44" filter="url(#g)"/>
<circle cx="59.9" cy="12.1" r="2.81" fill="#18c818" fill-opacity="0.68" filter="url(#g)"/>
<circle cx="52.5" cy="15.5" r="2.58" fill="#18c818" fill-opacity="0.32" filter="url(#g)"/>
<circle cx="49.8" cy="17.6" r="1.88" fill="#18c818" fill-opacity="0.28" filter="url(#g)"/>
<circle cx="66.3" cy="16.6" r="2.81" fill="#18c818" fill-opacity="0.40" filter="url(#g)"/>
<circle cx="6.1" cy="21.3" r="2.11" fill="#18c818" fill-opacity="0.48" filter="url(#g)"/>
<circle cx="4.5" cy="24.5" r="2.11" fill="#18c818" fill-opacity="0.44" filter="url(#g)"/>
<circle cx="8.3" cy="22.4" r="1.41" fill="#18c818" fill-opacity="0.36" filter="url(#g)"/>
<circle cx="15.2" cy="36.3" r="1.88" fill="#18c818" fill-opacity="0.24" filter="url(#g)"/>
<circle cx="16.8" cy="38.9" r="1.64" fill="#18c818" fill-opacity="0.24" filter="url(#g)"/>
<circle cx="13.1" cy="40.5" r="1.88" fill="#18c818" fill-opacity="0.32" filter="url(#g)"/>
<circle cx="15.2" cy="42.7" r="1.88" fill="#18c818" fill-opacity="0.28" filter="url(#g)"/>
<circle cx="45.0" cy="32.5" r="2.11" fill="#18c818" fill-opacity="0.56" filter="url(#g)"/>
<circle cx="46.1" cy="34.1" r="1.64" fill="#18c818" fill-opacity="0.48" filter="url(#g)"/>
<circle cx="41.3" cy="36.8" r="1.64" fill="#18c818" fill-opacity="0.44" filter="url(#g)"/>
<circle cx="43.4" cy="38.1" r="1.88" fill="#18c818" fill-opacity="0.52" filter="url(#g)"/>
<circle cx="33.3" cy="39.1" r="1.99" fill="#18c818" fill-opacity="0.72" filter="url(#g)"/>
<circle cx="44.5" cy="49.4" r="1.41" fill="#18c818" fill-opacity="0.20" filter="url(#g)"/>
</g>
<rect x="52.9" y="50.3" width="16.2" height="0.9" fill="#d8d8d8"/>
<text x="61.3" y="48.9" font-size="3.2" fill="#c8c8c8" text-anchor="middle" font-weight="bold">50µm</text>
</svg>
<svg x="501.40" y="420.50" width="71.2" height="53.3" overflow="hidden">
<rect width="71.2" height="53.3" fill="#04041a"/>
<rect x="0.4" y="0.4" width="70.4" height="52.5" fill="none" stroke="#000" stroke-width="0.8"/>
<g>
<circle cx="54.2" cy="4.3" r="2.63" fill="#0707ff" fill-opacity="1.00" filter="url(#c)"/>
<circle cx="59.5" cy="11.8" r="2.63" fill="#0707ff" fill-opacity="0.85" filter="url(#c)"/>
<circle cx="54.2" cy="14.4" r="2.15" fill="#0707ff" fill-opacity="1.00" filter="url(#c)"/>
<circle cx="51.5" cy="16.0" r="1.91" fill="#0707ff" fill-opacity="1.00" filter="url(#c)"/>
<circle cx="66.9" cy="16.6" r="2.63" fill="#0707ff" fill-opacity="1.00" filter="url(#c)"/>
<circle cx="6.2" cy="20.3" r="1.91" fill="#0707ff" fill-opacity="0.83" filter="url(#c)"/>
<circle cx="4.6" cy="24.0" r="2.15" fill="#0707ff" fill-opacity="1.00" filter="url(#c)"/>
<circle cx="8.3" cy="22.4" r="1.43" fill="#0707ff" fill-opacity="1.00" filter="url(#c)"/>
<circle cx="15.8" cy="35.7" r="1.67" fill="#0707ff" fill-opacity="0.59" filter="url(#c)"/>
<circle cx="17.9" cy="37.9" r="1.67" fill="#0707ff" fill-opacity="1.00" filter="url(#c)"/>
<circle cx="13.7" cy="40.0" r="1.79" fill="#0707ff" fill-opacity="1.00" filter="url(#c)"/>
<circle cx="15.8" cy="42.7" r="1.91" fill="#0707ff" fill-opacity="1.00" filter="url(#c)"/>
<circle cx="13.1" cy="42.7" r="1.43" fill="#0707ff" fill-opacity="0.58" filter="url(#c)"/>
<circle cx="45.1" cy="32.0" r="1.91" fill="#0707ff" fill-opacity="0.78" filter="url(#c)"/>
<circle cx="46.7" cy="33.6" r="1.67" fill="#0707ff" fill-opacity="0.57" filter="url(#c)"/>
<circle cx="41.4" cy="36.3" r="1.43" fill="#0707ff" fill-opacity="0.58" filter="url(#c)"/>
<circle cx="44.0" cy="37.9" r="1.91" fill="#0707ff" fill-opacity="0.54" filter="url(#c)"/>
<circle cx="33.9" cy="39.5" r="1.91" fill="#0707ff" fill-opacity="1.00" filter="url(#c)"/>
<circle cx="44.0" cy="49.6" r="1.79" fill="#0707ff" fill-opacity="0.60" filter="url(#c)"/>
</g>
<g style="mix-blend-mode:screen">
<circle cx="53.6" cy="4.3" r="2.56" fill="#00e0a0" fill-opacity="0.31" filter="url(#c)"/>
<circle cx="59.9" cy="12.1" r="2.56" fill="#00e0a0" fill-opacity="0.62" filter="url(#c)"/>
<circle cx="52.5" cy="15.5" r="2.34" fill="#00e0a0" fill-opacity="0.18" filter="url(#c)"/>
<circle cx="49.8" cy="17.6" r="1.71" fill="#00e0a0" fill-opacity="0.15" filter="url(#c)"/>
<circle cx="66.3" cy="16.6" r="2.56" fill="#00e0a0" fill-opacity="0.26" filter="url(#c)"/>
<circle cx="6.1" cy="21.3" r="1.92" fill="#00e0a0" fill-opacity="0.35" filter="url(#c)"/>
<circle cx="4.5" cy="24.5" r="1.92" fill="#00e0a0" fill-opacity="0.31" filter="url(#c)"/>
<circle cx="8.3" cy="22.4" r="1.28" fill="#00e0a0" fill-opacity="0.22" filter="url(#c)"/>
<circle cx="15.2" cy="36.3" r="1.71" fill="#00e0a0" fill-opacity="0.12" filter="url(#c)"/>
<circle cx="16.8" cy="38.9" r="1.49" fill="#00e0a0" fill-opacity="0.12" filter="url(#c)"/>
<circle cx="13.1" cy="40.5" r="1.71" fill="#00e0a0" fill-opacity="0.18" filter="url(#c)"/>
<circle cx="15.2" cy="42.7" r="1.71" fill="#00e0a0" fill-opacity="0.15" filter="url(#c)"/>
<circle cx="45.0" cy="32.5" r="1.92" fill="#00e0a0" fill-opacity="0.45" filter="url(#c)"/>
<circle cx="46.1" cy="34.1" r="1.49" fill="#00e0a0" fill-opacity="0.35" filter="url(#c)"/>
<circle cx="41.3" cy="36.8" r="1.49" fill="#00e0a0" fill-opacity="0.31" filter="url(#c)"/>
<circle cx="43.4" cy="38.1" r="1.71" fill="#00e0a0" fill-opacity="0.40" filter="url(#c)"/>
<circle cx="33.3" cy="39.1" r="1.81" fill="#00e0a0" fill-opacity="0.68" filter="url(#c)"/>
<circle cx="44.5" cy="49.4" r="1.28" fill="#00e0a0" fill-opacity="0.09" filter="url(#c)"/>
</g>
</svg>
<svg x="574.30" y="420.50" width="71.2" height="53.3" overflow="hidden">
<rect width="71.2" height="53.3" fill="#000"/>
<ellipse cx="47.7" cy="16.0" rx="6.21" ry="4.29" fill="url(#zg)" fill-opacity="0.80" filter="url(#z)"/>
<ellipse cx="51.9" cy="21.3" rx="4.52" ry="4.52" fill="url(#zg)" fill-opacity="0.80" filter="url(#z)"/>
<ellipse cx="38.1" cy="27.7" rx="3.39" ry="3.16" fill="url(#zg)" fill-opacity="0.60" filter="url(#z)"/>
<ellipse cx="45.0" cy="32.0" rx="7.34" ry="4.74" fill="url(#zg)" fill-opacity="0.85" filter="url(#z)"/>
<ellipse cx="16.8" cy="35.7" rx="5.87" ry="4.74" fill="url(#zg)" fill-opacity="0.95" filter="url(#z)"/>
<circle cx="44.5" cy="16.0" r="0.99" fill="#30ff90" fill-opacity="0.41" style="mix-blend-mode:screen" filter="url(#c)"/>
<circle cx="44.2" cy="14.6" r="0.82" fill="#30ff90" fill-opacity="0.60" style="mix-blend-mode:screen" filter="url(#c)"/>
<circle cx="51.1" cy="16.8" r="0.58" fill="#30ff90" fill-opacity="0.39" style="mix-blend-mode:screen" filter="url(#c)"/>
<circle cx="46.9" cy="16.0" r="0.99" fill="#30ff90" fill-opacity="0.55" style="mix-blend-mode:screen" filter="url(#c)"/>
<circle cx="50.7" cy="17.5" r="0.74" fill="#30ff90" fill-opacity="0.60" style="mix-blend-mode:screen" filter="url(#c)"/>
<circle cx="45.8" cy="17.5" r="0.67" fill="#30ff90" fill-opacity="0.39" style="mix-blend-mode:screen" filter="url(#c)"/>
<circle cx="50.9" cy="14.8" r="0.65" fill="#30ff90" fill-opacity="0.40" style="mix-blend-mode:screen" filter="url(#c)"/>
<circle cx="51.6" cy="15.7" r="0.51" fill="#30ff90" fill-opacity="0.51" style="mix-blend-mode:screen" filter="url(#c)"/>
<circle cx="49.4" cy="18.5" r="0.75" fill="#30ff90" fill-opacity="0.42" style="mix-blend-mode:screen" filter="url(#c)"/>
<circle cx="50.7" cy="17.8" r="0.88" fill="#30ff90" fill-opacity="0.37" style="mix-blend-mode:screen" filter="url(#c)"/>
<circle cx="49.2" cy="14.3" r="1.06" fill="#30ff90" fill-opacity="0.51" style="mix-blend-mode:screen" filter="url(#c)"/>
<circle cx="50.2" cy="23.3" r="1.06" fill="#30ff90" fill-opacity="0.54" style="mix-blend-mode:screen" filter="url(#c)"/>
<circle cx="50.7" cy="19.6" r="1.05" fill="#30ff90" fill-opacity="0.32" style="mix-blend-mode:screen" filter="url(#c)"/>
<circle cx="51.4" cy="19.7" r="0.92" fill="#30ff90" fill-opacity="0.56" style="mix-blend-mode:screen" filter="url(#c)"/>
<circle cx="52.1" cy="20.3" r="1.02" fill="#30ff90" fill-opacity="0.31" style="mix-blend-mode:screen" filter="url(#c)"/>
<circle cx="52.0" cy="21.8" r="0.51" fill="#30ff90" fill-opacity="0.40" style="mix-blend-mode:screen" filter="url(#c)"/>
<circle cx="49.8" cy="23.6" r="0.69" fill="#30ff90" fill-opacity="0.44" style="mix-blend-mode:screen" filter="url(#c)"/>
<circle cx="53.5" cy="20.3" r="0.78" fill="#30ff90" fill-opacity="0.53" style="mix-blend-mode:screen" filter="url(#c)"/>
<circle cx="54.0" cy="21.2" r="1.08" fill="#30ff90" fill-opacity="0.37" style="mix-blend-mode:screen" filter="url(#c)"/>
<circle cx="50.8" cy="21.5" r="1.02" fill="#30ff90" fill-opacity="0.54" style="mix-blend-mode:screen" filter="url(#c)"/>
<circle cx="53.1" cy="19.9" r="0.82" fill="#30ff90" fill-opacity="0.35" style="mix-blend-mode:screen" filter="url(#c)"/>
<circle cx="52.8" cy="21.0" r="0.60" fill="#30ff90" fill-opacity="0.57" style="mix-blend-mode:screen" filter="url(#c)"/>
<circle cx="37.3" cy="28.9" r="0.60" fill="#30ff90" fill-opacity="0.32" style="mix-blend-mode:screen" filter="url(#c)"/>
<circle cx="39.3" cy="26.5" r="0.70" fill="#30ff90" fill-opacity="0.33" style="mix-blend-mode:screen" filter="url(#c)"/>
<circle cx="37.7" cy="27.8" r="1.09" fill="#30ff90" fill-opacity="0.34" style="mix-blend-mode:screen" filter="url(#c)"/>
<circle cx="38.6" cy="27.1" r="0.91" fill="#30ff90" fill-opacity="0.29" style="mix-blend-mode:screen" filter="url(#c)"/>
<circle cx="39.3" cy="27.2" r="0.92" fill="#30ff90" fill-opacity="0.26" style="mix-blend-mode:screen" filter="url(#c)"/>
<circle cx="38.1" cy="27.8" r="0.68" fill="#30ff90" fill-opacity="0.28" style="mix-blend-mode:screen" filter="url(#c)"/>
<circle cx="37.6" cy="27.5" r="0.70" fill="#30ff90" fill-opacity="0.29" style="mix-blend-mode:screen" filter="url(#c)"/>
<circle cx="38.8" cy="27.9" r="0.61" fill="#30ff90" fill-opacity="0.34" style="mix-blend-mode:screen" filter="url(#c)"/>
<circle cx="38.1" cy="27.6" r="0.79" fill="#30ff90" fill-opacity="0.37" style="mix-blend-mode:screen" filter="url(#c)"/>
<circle cx="45.2" cy="32.0" r="0.89" fill="#30ff90" fill-opacity="0.57" style="mix-blend-mode:screen" filter="url(#c)"/>
<circle cx="43.1" cy="31.5" r="0.84" fill="#30ff90" fill-opacity="0.43" style="mix-blend-mode:screen" filter="url(#c)"/>
<circle cx="45.0" cy="32.0" r="1.01" fill="#30ff90" fill-opacity="0.58" style="mix-blend-mode:screen" filter="url(#c)"/>
<circle cx="44.7" cy="32.7" r="0.69" fill="#30ff90" fill-opacity="0.59" style="mix-blend-mode:screen" filter="url(#c)"/>
<circle cx="43.7" cy="32.2" r="0.92" fill="#30ff90" fill-opacity="0.63" style="mix-blend-mode:screen" filter="url(#c)"/>
<circle cx="45.4" cy="29.9" r="0.66" fill="#30ff90" fill-opacity="0.71" style="mix-blend-mode:screen" filter="url(#c)"/>
<circle cx="46.2" cy="31.1" r="0.90" fill="#30ff90" fill-opacity="0.63" style="mix-blend-mode:screen" filter="url(#c)"/>
<circle cx="44.4" cy="32.5" r="0.80" fill="#30ff90" fill-opacity="0.55" style="mix-blend-mode:screen" filter="url(#c)"/>
<circle cx="46.9" cy="32.1" r="0.62" fill="#30ff90" fill-opacity="0.37" style="mix-blend-mode:screen" filter="url(#c)"/>
<circle cx="42.7" cy="29.9" r="0.94" fill="#30ff90" fill-opacity="0.44" style="mix-blend-mode:screen" filter="url(#c)"/>
<circle cx="46.4" cy="32.1" r="0.74" fill="#30ff90" fill-opacity="0.67" style="mix-blend-mode:screen" filter="url(#c)"/>
<circle cx="15.1" cy="33.1" r="0.69" fill="#30ff90" fill-opacity="0.86" style="mix-blend-mode:screen" filter="url(#c)"/>
<circle cx="15.9" cy="38.5" r="0.56" fill="#30ff90" fill-opacity="0.70" style="mix-blend-mode:screen" filter="url(#c)"/>
<circle cx="16.9" cy="36.0" r="0.84" fill="#30ff90" fill-opacity="0.97" style="mix-blend-mode:screen" filter="url(#c)"/>
<circle cx="16.4" cy="36.2" r="0.89" fill="#30ff90" fill-opacity="0.83" style="mix-blend-mode:screen" filter="url(#c)"/>
<circle cx="19.9" cy="36.4" r="0.55" fill="#30ff90" fill-opacity="0.67" style="mix-blend-mode:screen" filter="url(#c)"/>
<circle cx="16.5" cy="36.2" r="0.84" fill="#30ff90" fill-opacity="0.89" style="mix-blend-mode:screen" filter="url(#c)"/>
<circle cx="14.5" cy="35.5" r="0.62" fill="#30ff90" fill-opacity="0.76" style="mix-blend-mode:screen" filter="url(#c)"/>
<circle cx="14.6" cy="35.9" r="0.64" fill="#30ff90" fill-opacity="1.00" style="mix-blend-mode:screen" filter="url(#c)"/>
<circle cx="16.5" cy="35.0" r="1.03" fill="#30ff90" fill-opacity="0.94" style="mix-blend-mode:screen" filter="url(#c)"/>
<circle cx="20.1" cy="36.1" r="0.67" fill="#30ff90" fill-opacity="0.88" style="mix-blend-mode:screen" filter="url(#c)"/>
<circle cx="16.6" cy="37.2" r="0.87" fill="#30ff90" fill-opacity="0.78" style="mix-blend-mode:screen" filter="url(#c)"/>
<circle cx="19.6" cy="36.7" r="1.06" fill="#30ff90" fill-opacity="0.71" style="mix-blend-mode:screen" filter="url(#c)"/>
<circle cx="17.1" cy="35.9" r="0.92" fill="#30ff90" fill-opacity="0.57" style="mix-blend-mode:screen" filter="url(#c)"/>
<circle cx="13.1" cy="36.5" r="1.00" fill="#30ff90" fill-opacity="0.82" style="mix-blend-mode:screen" filter="url(#c)"/>
<rect x="59.5" y="49.6" width="7.9" height="1.2" fill="#a0a0a0"/>
<text x="63" y="47.0" font-size="3.2" fill="#d0d0d0" text-anchor="middle" font-weight="bold">10µm</text>
</svg>
<rect x="179.30" y="272.60" width="29.6" height="22.7" stroke="#f0f0f0" stroke-width="1.1" stroke-dasharray="3,2" fill="none"/>
<line x1="208.90" y1="272.60" x2="234.10" y2="255.80" stroke="#f0f0f0" stroke-width="1.1" stroke-dasharray="3,2" fill="none"/>
<line x1="208.90" y1="295.30" x2="234.10" y2="309.40" stroke="#f0f0f0" stroke-width="1.1" stroke-dasharray="3,2" fill="none"/>
<rect x="182.50" y="323.30" width="29.6" height="22.9" stroke="#f0f0f0" stroke-width="1.1" stroke-dasharray="3,2" fill="none"/>
<line x1="212.10" y1="323.30" x2="234.10" y2="310.60" stroke="#f0f0f0" stroke-width="1.1" stroke-dasharray="3,2" fill="none"/>
<line x1="212.10" y1="346.20" x2="234.10" y2="364.20" stroke="#f0f0f0" stroke-width="1.1" stroke-dasharray="3,2" fill="none"/>
<rect x="184.40" y="380.50" width="29.8" height="22.9" stroke="#f0f0f0" stroke-width="1.1" stroke-dasharray="3,2" fill="none"/>
<line x1="214.20" y1="380.50" x2="234.10" y2="365.30" stroke="#f0f0f0" stroke-width="1.1" stroke-dasharray="3,2" fill="none"/>
<line x1="214.20" y1="403.40" x2="234.10" y2="418.90" stroke="#f0f0f0" stroke-width="1.1" stroke-dasharray="3,2" fill="none"/>
<rect x="181.20" y="436.00" width="31.4" height="23.5" stroke="#f0f0f0" stroke-width="1.1" stroke-dasharray="3,2" fill="none"/>
<line x1="212.60" y1="436.00" x2="234.10" y2="420.00" stroke="#f0f0f0" stroke-width="1.1" stroke-dasharray="3,2" fill="none"/>
<line x1="212.60" y1="459.50" x2="234.10" y2="473.60" stroke="#f0f0f0" stroke-width="1.1" stroke-dasharray="3,2" fill="none"/>
<rect x="512.50" y="275.30" width="29.8" height="22.7" stroke="#f0f0f0" stroke-width="1.1" stroke-dasharray="3,2" fill="none"/>
<line x1="542.30" y1="275.30" x2="572.60" y2="256.10" stroke="#f0f0f0" stroke-width="1.1" stroke-dasharray="3,2" fill="none"/>
<line x1="542.30" y1="298.00" x2="572.60" y2="309.40" stroke="#f0f0f0" stroke-width="1.1" stroke-dasharray="3,2" fill="none"/>
<rect x="511.70" y="329.85" width="29.6" height="23.1" stroke="#f0f0f0" stroke-width="1.1" stroke-dasharray="3,2" fill="none"/>
<line x1="541.30" y1="329.85" x2="572.60" y2="310.95" stroke="#f0f0f0" stroke-width="1.1" stroke-dasharray="3,2" fill="none"/>
<line x1="541.30" y1="352.95" x2="572.60" y2="364.25" stroke="#f0f0f0" stroke-width="1.1" stroke-dasharray="3,2" fill="none"/>
<rect x="512.20" y="378.50" width="29.8" height="22.6" stroke="#f0f0f0" stroke-width="1.1" stroke-dasharray="3,2" fill="none"/>
<line x1="542.00" y1="378.50" x2="572.60" y2="365.80" stroke="#f0f0f0" stroke-width="1.1" stroke-dasharray="3,2" fill="none"/>
<line x1="542.00" y1="401.10" x2="572.60" y2="419.10" stroke="#f0f0f0" stroke-width="1.1" stroke-dasharray="3,2" fill="none"/>
<rect x="523.90" y="444.40" width="30.4" height="22.7" stroke="#f0f0f0" stroke-width="1.1" stroke-dasharray="3,2" fill="none"/>
<line x1="554.30" y1="444.40" x2="572.60" y2="420.50" stroke="#f0f0f0" stroke-width="1.1" stroke-dasharray="3,2" fill="none"/>
<line x1="554.30" y1="467.10" x2="572.60" y2="473.80" stroke="#f0f0f0" stroke-width="1.1" stroke-dasharray="3,2" fill="none"/>
<text x="-1.00" y="245.30" font-size="12.5" font-weight="bold" fill="#000" text-anchor="start" transform="translate(0 245.30) scale(1 1.1) translate(0 -245.30)">E</text>
<text x="338.60" y="248.70" font-size="12.5" font-weight="bold" fill="#000" text-anchor="start" transform="translate(0 248.70) scale(1 1.1) translate(0 -248.70)">F</text>
<text x="52.50" y="251.80" font-size="8.8" font-weight="bold" fill="#2323d0" text-anchor="middle">DAPI</text>
<text x="127.80" y="251.80" font-size="8.8" font-weight="bold" fill="#22aa44" text-anchor="middle">γH2A.X</text>
<text x="201.10" y="251.80" font-size="8.8" font-weight="bold" fill="#2299cc" text-anchor="middle">MERGE</text>
<text x="273.50" y="251.80" font-size="8.8" font-weight="bold" fill="#2299cc" text-anchor="middle">ZOOM</text>
<text x="395.40" y="252.20" font-size="8.8" font-weight="bold" fill="#2323d0" text-anchor="middle">DAPI</text>
<text x="464.70" y="252.20" font-size="8.8" font-weight="bold" fill="#22aa44" text-anchor="middle">RAD51</text>
<text x="537.20" y="252.20" font-size="8.8" font-weight="bold" fill="#2299cc" text-anchor="middle">MERGE</text>
<text x="610.50" y="252.20" font-size="8.8" font-weight="bold" fill="#2299cc" text-anchor="middle">ZOOM</text>
<text x="12.00" y="283.80" font-size="9" font-weight="bold" fill="#000" text-anchor="middle" transform="rotate(-90 12.0 283.8)" dominant-baseline="central">CTR</text>
<text x="351.20" y="283.70" font-size="9" font-weight="bold" fill="#000" text-anchor="middle" transform="rotate(-90 351.2 283.70000000000005)" dominant-baseline="central">CTR</text>
<text x="12.00" y="337.40" font-size="9" font-weight="bold" fill="#000" text-anchor="middle" transform="rotate(-90 12.0 337.40000000000003)" dominant-baseline="central">MAC</text>
<text x="351.20" y="334.75" font-size="9" font-weight="bold" fill="#000" text-anchor="middle" transform="rotate(-90 351.2 334.75)" dominant-baseline="central">MAC</text>
<text x="12.00" y="392.10" font-size="9" font-weight="bold" fill="#000" text-anchor="middle" transform="rotate(-90 12.0 392.1)" dominant-baseline="central">Olaparib</text>
<text x="351.20" y="392.60" font-size="9" font-weight="bold" fill="#000" text-anchor="middle" transform="rotate(-90 351.2 392.6)" dominant-baseline="central">Olaparib</text>
<text x="12.00" y="451.30" font-size="9" font-weight="bold" fill="#000" text-anchor="middle" transform="rotate(-90 12.0 451.3)" dominant-baseline="central">MAC+Olaparib</text>
<text x="351.20" y="449.80" font-size="9" font-weight="bold" fill="#000" text-anchor="middle" transform="rotate(-90 351.2 449.8)" dominant-baseline="central">MAC+Olaparib</text>
<line x1="138.80" y1="485.30" x2="138.80" y2="555.80" stroke="#333" stroke-width="0.9"/>
<line x1="136.80" y1="555.80" x2="138.80" y2="555.80" stroke="#333" stroke-width="0.8"/>
<text x="135.60" y="558.00" font-size="6" font-weight="normal" fill="#111" text-anchor="end" stroke="#111" stroke-width="0.2">0</text>
<line x1="136.80" y1="538.17" x2="138.80" y2="538.17" stroke="#333" stroke-width="0.8"/>
<text x="135.60" y="540.38" font-size="6" font-weight="normal" fill="#111" text-anchor="end" stroke="#111" stroke-width="0.2">10</text>
<line x1="136.80" y1="520.55" x2="138.80" y2="520.55" stroke="#333" stroke-width="0.8"/>
<text x="135.60" y="522.75" font-size="6" font-weight="normal" fill="#111" text-anchor="end" stroke="#111" stroke-width="0.2">20</text>
<line x1="136.80" y1="502.92" x2="138.80" y2="502.92" stroke="#333" stroke-width="0.8"/>
<text x="135.60" y="505.12" font-size="6" font-weight="normal" fill="#111" text-anchor="end" stroke="#111" stroke-width="0.2">30</text>
<line x1="136.80" y1="485.30" x2="138.80" y2="485.30" stroke="#333" stroke-width="0.8"/>
<text x="135.60" y="487.50" font-size="6" font-weight="normal" fill="#111" text-anchor="end" stroke="#111" stroke-width="0.2">40</text>
<line x1="138.80" y1="555.80" x2="209.90" y2="555.80" stroke="#444" stroke-width="1.2"/>
<rect x="144.30" y="555.27" width="11.00" height="0.53" fill="#0cc00c"/>
<line x1="149.80" y1="555.80" x2="149.80" y2="558.40" stroke="#333" stroke-width="0.9"/>
<text x="152.00" y="562.30" font-size="5.9" font-weight="bold" fill="#000" text-anchor="end" transform="rotate(-45 152.0 562.3)">CTR</text>
<rect x="160.70" y="532.53" width="11.00" height="23.26" fill="#0cc00c"/>
<line x1="166.20" y1="555.80" x2="166.20" y2="558.40" stroke="#333" stroke-width="0.9"/>
<line x1="166.20" y1="532.53" x2="166.20" y2="530.24" stroke="#888" stroke-width="0.8"/>
<line x1="163.70" y1="530.24" x2="168.70" y2="530.24" stroke="#888" stroke-width="0.8"/>
<text x="166.20" y="527.44" font-size="7" font-weight="bold" fill="#222" text-anchor="middle" letter-spacing="-0.5">*</text>
<text x="168.40" y="562.30" font-size="5.9" font-weight="bold" fill="#000" text-anchor="end" transform="rotate(-45 168.4 562.3)">MAC</text>
<rect x="177.10" y="533.94" width="11.00" height="21.86" fill="#0cc00c"/>
<line x1="182.60" y1="555.80" x2="182.60" y2="558.40" stroke="#333" stroke-width="0.9"/>
<line x1="182.60" y1="533.94" x2="182.60" y2="531.30" stroke="#888" stroke-width="0.8"/>
<line x1="180.10" y1="531.30" x2="185.10" y2="531.30" stroke="#888" stroke-width="0.8"/>
<text x="182.60" y="528.50" font-size="7" font-weight="bold" fill="#222" text-anchor="middle" letter-spacing="-0.5">*</text>
<text x="184.80" y="562.30" font-size="5.9" font-weight="bold" fill="#000" text-anchor="end" transform="rotate(-45 184.8 562.3)">Olaparib</text>
<rect x="193.50" y="505.74" width="11.00" height="50.05" fill="#0cc00c"/>
<line x1="199.00" y1="555.80" x2="199.00" y2="558.40" stroke="#333" stroke-width="0.9"/>
<line x1="199.00" y1="505.74" x2="199.00" y2="500.28" stroke="#888" stroke-width="0.8"/>
<line x1="196.50" y1="500.28" x2="201.50" y2="500.28" stroke="#888" stroke-width="0.8"/>
<text x="199.00" y="497.48" font-size="7" font-weight="bold" fill="#222" text-anchor="middle" letter-spacing="-0.5">**</text>
<text x="201.20" y="562.30" font-size="5.9" font-weight="bold" fill="#000" text-anchor="end" transform="rotate(-45 201.2 562.3)">MAC+Olaparib</text>
<text x="111.40" y="520.40" font-size="7" font-weight="bold" fill="#000" text-anchor="middle" transform="rotate(-90 111.4 520.4)" dominant-baseline="central">Number of γH2A.X</text>
<text x="120.10" y="520.40" font-size="7" font-weight="bold" fill="#000" text-anchor="middle" transform="rotate(-90 120.1 520.4)" dominant-baseline="central">foci per cell</text>
<line x1="476.10" y1="484.80" x2="476.10" y2="555.30" stroke="#333" stroke-width="0.9"/>
<line x1="474.10" y1="555.30" x2="476.10" y2="555.30" stroke="#333" stroke-width="0.8"/>
<text x="472.90" y="557.50" font-size="6" font-weight="normal" fill="#111" text-anchor="end" stroke="#111" stroke-width="0.2">0</text>
<line x1="474.10" y1="537.67" x2="476.10" y2="537.67" stroke="#333" stroke-width="0.8"/>
<text x="472.90" y="539.88" font-size="6" font-weight="normal" fill="#111" text-anchor="end" stroke="#111" stroke-width="0.2">10</text>
<line x1="474.10" y1="520.05" x2="476.10" y2="520.05" stroke="#333" stroke-width="0.8"/>
<text x="472.90" y="522.25" font-size="6" font-weight="normal" fill="#111" text-anchor="end" stroke="#111" stroke-width="0.2">20</text>
<line x1="474.10" y1="502.42" x2="476.10" y2="502.42" stroke="#333" stroke-width="0.8"/>
<text x="472.90" y="504.62" font-size="6" font-weight="normal" fill="#111" text-anchor="end" stroke="#111" stroke-width="0.2">30</text>
<line x1="474.10" y1="484.80" x2="476.10" y2="484.80" stroke="#333" stroke-width="0.8"/>
<text x="472.90" y="487.00" font-size="6" font-weight="normal" fill="#111" text-anchor="end" stroke="#111" stroke-width="0.2">40</text>
<line x1="476.10" y1="555.30" x2="548.00" y2="555.30" stroke="#444" stroke-width="1.2"/>
<rect x="481.60" y="553.54" width="11.00" height="1.76" fill="#0cc00c"/>
<line x1="487.10" y1="555.30" x2="487.10" y2="557.90" stroke="#333" stroke-width="0.9"/>
<line x1="487.10" y1="553.54" x2="487.10" y2="553.01" stroke="#888" stroke-width="0.8"/>
<line x1="484.60" y1="553.01" x2="489.60" y2="553.01" stroke="#888" stroke-width="0.8"/>
<text x="489.30" y="561.80" font-size="5.9" font-weight="bold" fill="#000" text-anchor="end" transform="rotate(-45 489.3 561.8)">CTR</text>
<rect x="498.00" y="543.84" width="11.00" height="11.46" fill="#0cc00c"/>
<line x1="503.50" y1="555.30" x2="503.50" y2="557.90" stroke="#333" stroke-width="0.9"/>
<line x1="503.50" y1="543.84" x2="503.50" y2="541.55" stroke="#888" stroke-width="0.8"/>
<line x1="501.00" y1="541.55" x2="506.00" y2="541.55" stroke="#888" stroke-width="0.8"/>
<text x="503.50" y="536.55" font-size="7" font-weight="bold" fill="#222" text-anchor="middle" letter-spacing="-0.5">*</text>
<text x="505.70" y="561.80" font-size="5.9" font-weight="bold" fill="#000" text-anchor="end" transform="rotate(-45 505.7 561.8)">MAC</text>
<rect x="514.40" y="538.38" width="11.00" height="16.92" fill="#0cc00c"/>
<line x1="519.90" y1="555.30" x2="519.90" y2="557.90" stroke="#333" stroke-width="0.9"/>
<line x1="519.90" y1="538.38" x2="519.90" y2="535.21" stroke="#888" stroke-width="0.8"/>
<line x1="517.40" y1="535.21" x2="522.40" y2="535.21" stroke="#888" stroke-width="0.8"/>
<text x="519.90" y="530.21" font-size="7" font-weight="bold" fill="#222" text-anchor="middle" letter-spacing="-0.5">*</text>
<text x="522.10" y="561.80" font-size="5.9" font-weight="bold" fill="#000" text-anchor="end" transform="rotate(-45 522.1 561.8)">Olaparib</text>
<rect x="530.80" y="515.64" width="11.00" height="39.66" fill="#0cc00c"/>
<line x1="536.30" y1="555.30" x2="536.30" y2="557.90" stroke="#333" stroke-width="0.9"/>
<line x1="536.30" y1="515.64" x2="536.30" y2="511.24" stroke="#888" stroke-width="0.8"/>
<line x1="533.80" y1="511.24" x2="538.80" y2="511.24" stroke="#888" stroke-width="0.8"/>
<text x="536.30" y="506.24" font-size="7" font-weight="bold" fill="#222" text-anchor="middle" letter-spacing="-0.5">**</text>
<text x="538.50" y="561.80" font-size="5.9" font-weight="bold" fill="#000" text-anchor="end" transform="rotate(-45 538.5000000000001 561.8)">MAC+Olaparib</text>
<text x="452.70" y="524.30" font-size="7" font-weight="bold" fill="#000" text-anchor="middle" transform="rotate(-90 452.7 524.3)" dominant-baseline="central">Number of RAD51</text>
<text x="461.60" y="524.30" font-size="7" font-weight="bold" fill="#000" text-anchor="middle" transform="rotate(-90 461.6 524.3)" dominant-baseline="central">foci per cell</text>
</svg>
</body></html>
